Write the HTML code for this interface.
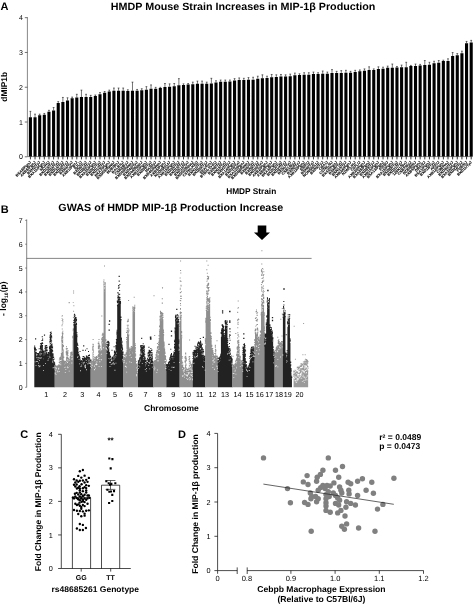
<!DOCTYPE html>
<html lang="en">
<head>
<meta charset="utf-8">
<title>HMDP MIP-1β figure</title>
<style>
html,body{margin:0;padding:0;background:#fff;}
body{width:475px;height:604px;overflow:hidden;}
svg{display:block;font-family:"Liberation Sans", Arial, sans-serif;fill:#000;}
</style>
</head>
<body>
<svg width="475" height="604" viewBox="0 0 475 604" text-rendering="geometricPrecision">
<rect width="475" height="604" fill="#fff"/>
<g id="panelA">
<text x="0.6" y="10.3" font-size="11" font-weight="bold">A</text>
<text x="243.1" y="10.3" font-size="10.5" font-weight="bold" text-anchor="middle" textLength="264.6" lengthAdjust="spacingAndGlyphs">HMDP Mouse Strain Increases in MIP-1β Production</text>
<text transform="translate(6.9,86.8) rotate(-90)" font-size="8.4" font-weight="bold" text-anchor="middle">dMIP1b</text>
<path d="M27.4,17.2V156.6H472.5" fill="none" stroke="#555" stroke-width="0.7"/>
<text x="22.8" y="159.3" font-size="7" text-anchor="end">0</text>
<text x="22.8" y="124.52" font-size="7" text-anchor="end">1</text>
<text x="22.8" y="89.74" font-size="7" text-anchor="end">2</text>
<text x="22.8" y="54.96" font-size="7" text-anchor="end">3</text>
<text x="22.8" y="20.18" font-size="7" text-anchor="end">4</text>
<path d="M27.4,156.8h-2.6M27.4,122.02h-2.6M27.4,87.24h-2.6M27.4,52.46h-2.6M27.4,17.68h-2.6" stroke="#333" stroke-width="0.7" fill="none"/>
<path d="M28.85,156.6V117.28h3.1V156.6zM33.49,156.6V117.28h3.1V156.6zM38.13,156.6V115.19h3.1V156.6zM42.77,156.6V114.84h3.1V156.6zM47.41,156.6V111.71h3.1V156.6zM52.05,156.6V110.49h3.1V156.6zM56.69,156.6V103.01h3.1V156.6zM61.33,156.6V101.96h3.1V156.6zM65.97,156.6V100.57h3.1V156.6zM70.61,156.6V98.14h3.1V156.6zM75.25,156.6V97.44h3.1V156.6zM79.89,156.6V97.09h3.1V156.6zM84.53,156.6V97.09h3.1V156.6zM89.17,156.6V97.09h3.1V156.6zM93.81,156.6V96.05h3.1V156.6zM98.45,156.6V94.31h3.1V156.6zM103.09,156.6V92.74h3.1V156.6zM107.73,156.6V91.52h3.1V156.6zM112.37,156.6V90.83h3.1V156.6zM117.01,156.6V90.83h3.1V156.6zM121.65,156.6V90.83h3.1V156.6zM126.29,156.6V91h3.1V156.6zM130.93,156.6V90.83h3.1V156.6zM135.57,156.6V90.83h3.1V156.6zM140.21,156.6V90.13h3.1V156.6zM144.85,156.6V89.78h3.1V156.6zM149.49,156.6V88.74h3.1V156.6zM154.13,156.6V88.74h3.1V156.6zM158.77,156.6V88.04h3.1V156.6zM163.41,156.6V87h3.1V156.6zM168.05,156.6V86.65h3.1V156.6zM172.69,156.6V86.3h3.1V156.6zM177.33,156.6V85.26h3.1V156.6zM181.97,156.6V84.91h3.1V156.6zM186.61,156.6V84.56h3.1V156.6zM191.25,156.6V84.22h3.1V156.6zM195.89,156.6V83.87h3.1V156.6zM200.53,156.6V83.87h3.1V156.6zM205.17,156.6V83.87h3.1V156.6zM209.81,156.6V83.52h3.1V156.6zM214.45,156.6V82.48h3.1V156.6zM219.09,156.6V81.78h3.1V156.6zM223.73,156.6V81.78h3.1V156.6zM228.37,156.6V81.43h3.1V156.6zM233.01,156.6V80.39h3.1V156.6zM237.65,156.6V80.04h3.1V156.6zM242.29,156.6V80.04h3.1V156.6zM246.93,156.6V79.69h3.1V156.6zM251.57,156.6V79.69h3.1V156.6zM256.21,156.6V78.65h3.1V156.6zM260.85,156.6V78.3h3.1V156.6zM265.49,156.6V77.95h3.1V156.6zM270.13,156.6V77.26h3.1V156.6zM274.77,156.6V76.91h3.1V156.6zM279.41,156.6V76.56h3.1V156.6zM284.05,156.6V76.56h3.1V156.6zM288.69,156.6V76.21h3.1V156.6zM293.33,156.6V75.34h3.1V156.6zM297.97,156.6V74.99h3.1V156.6zM302.61,156.6V74.65h3.1V156.6zM307.25,156.6V74.65h3.1V156.6zM311.89,156.6V74.12h3.1V156.6zM316.53,156.6V74.12h3.1V156.6zM321.17,156.6V73.78h3.1V156.6zM325.81,156.6V73.78h3.1V156.6zM330.45,156.6V72.91h3.1V156.6zM335.09,156.6V72.91h3.1V156.6zM339.73,156.6V72.91h3.1V156.6zM344.37,156.6V72.73h3.1V156.6zM349.01,156.6V72.73h3.1V156.6zM353.65,156.6V72.04h3.1V156.6zM358.29,156.6V71.34h3.1V156.6zM362.93,156.6V70.64h3.1V156.6zM367.57,156.6V70.12h3.1V156.6zM372.21,156.6V69.95h3.1V156.6zM376.85,156.6V69.08h3.1V156.6zM381.49,156.6V68.73h3.1V156.6zM386.13,156.6V67.86h3.1V156.6zM390.77,156.6V67.86h3.1V156.6zM395.41,156.6V67.51h3.1V156.6zM400.05,156.6V67.16h3.1V156.6zM404.69,156.6V67.16h3.1V156.6zM409.33,156.6V66.12h3.1V156.6zM413.97,156.6V66.12h3.1V156.6zM418.61,156.6V65.6h3.1V156.6zM423.25,156.6V65.08h3.1V156.6zM427.89,156.6V64.73h3.1V156.6zM432.53,156.6V63.34h3.1V156.6zM437.17,156.6V62.64h3.1V156.6zM441.81,156.6V60.9h3.1V156.6zM446.45,156.6V60.9h3.1V156.6zM451.09,156.6V56.03h3.1V156.6zM455.73,156.6V55.16h3.1V156.6zM460.37,156.6V53.24h3.1V156.6zM465.01,156.6V43.15h3.1V156.6zM469.65,156.6V42.46h3.1V156.6z" fill="#000"/>
<path d="M30.4,117.28V111.36M29.5,111.36h1.8M35.04,117.28V114.14M34.14,114.14h1.8M39.68,115.19V114.14M38.78,114.14h1.8M44.32,114.84V113.45M43.42,113.45h1.8M48.96,111.71V110.32M48.06,110.32h1.8M53.6,110.49V107.53M52.7,107.53h1.8M58.24,103.01V101.62M57.34,101.62h1.8M62.88,101.96V97.44M61.98,97.44h1.8M67.52,100.57V97.79M66.62,97.79h1.8M72.16,98.14V97.09M71.26,97.09h1.8M76.8,97.44V94.31M75.9,94.31h1.8M81.44,97.09V90.13M80.54,90.13h1.8M86.08,97.09V94.31M85.18,94.31h1.8M90.72,97.09V95.35M89.82,95.35h1.8M95.36,96.05V95M94.46,95h1.8M100,94.31V92.57M99.1,92.57h1.8M104.64,92.74V91.52M103.74,91.52h1.8M109.28,91.52V90.13M108.38,90.13h1.8M113.92,90.83V88.04M113.02,88.04h1.8M118.56,90.83V88.04M117.66,88.04h1.8M123.2,90.83V88.04M122.3,88.04h1.8M127.84,91V89.78M126.94,89.78h1.8M132.48,90.83V82.13M131.58,82.13h1.8M137.12,90.83V89.44M136.22,89.44h1.8M141.76,90.13V88.74M140.86,88.74h1.8M146.4,89.78V86.65M145.5,86.65h1.8M151.04,88.74V84.91M150.14,84.91h1.8M155.68,88.74V87.35M154.78,87.35h1.8M160.32,88.04V87.35M159.42,87.35h1.8M164.96,87V83.52M164.06,83.52h1.8M169.6,86.65V83.87M168.7,83.87h1.8M174.24,86.3V83.52M173.34,83.52h1.8M178.88,85.26V78.65M177.98,78.65h1.8M183.52,84.91V83.87M182.62,83.87h1.8M188.16,84.56V83.52M187.26,83.52h1.8M192.8,84.22V82.13M191.9,82.13h1.8M197.44,83.87V81.08M196.54,81.08h1.8M202.08,83.87V81.08M201.18,81.08h1.8M206.72,83.87V82.13M205.82,82.13h1.8M211.36,83.52V78.3M210.46,78.3h1.8M216,82.48V80.74M215.1,80.74h1.8M220.64,81.78V80.04M219.74,80.04h1.8M225.28,81.78V80.04M224.38,80.04h1.8M229.92,81.43V80.04M229.02,80.04h1.8M234.56,80.39V78.65M233.66,78.65h1.8M239.2,80.04V77.95M238.3,77.95h1.8M243.84,80.04V78.3M242.94,78.3h1.8M248.48,79.69V77.6M247.58,77.6h1.8M253.12,79.69V77.26M252.22,77.26h1.8M257.76,78.65V76.21M256.86,76.21h1.8M262.4,78.3V74.82M261.5,74.82h1.8M267.04,77.95V76.21M266.14,76.21h1.8M271.68,77.26V74.47M270.78,74.47h1.8M276.32,76.91V74.82M275.42,74.82h1.8M280.96,76.56V74.47M280.06,74.47h1.8M285.6,76.56V74.82M284.7,74.82h1.8M290.24,76.21V74.12M289.34,74.12h1.8M294.88,75.34V73.08M293.98,73.08h1.8M299.52,74.99V73.78M298.62,73.78h1.8M304.16,74.65V72.73M303.26,72.73h1.8M308.8,74.65V72.73M307.9,72.73h1.8M313.44,74.12V72.04M312.54,72.04h1.8M318.08,74.12V72.73M317.18,72.73h1.8M322.72,73.78V70.99M321.82,70.99h1.8M327.36,73.78V72.04M326.46,72.04h1.8M332,72.91V69.6M331.1,69.6h1.8M336.64,72.91V71.34M335.74,71.34h1.8M341.28,72.91V70.64M340.38,70.64h1.8M345.92,72.73V70.3M345.02,70.3h1.8M350.56,72.73V71.34M349.66,71.34h1.8M355.2,72.04V70.3M354.3,70.3h1.8M359.84,71.34V69.95M358.94,69.95h1.8M364.48,70.64V68.9M363.58,68.9h1.8M369.12,70.12V66.82M368.22,66.82h1.8M373.76,69.95V68.9M372.86,68.9h1.8M378.4,69.08V66.82M377.5,66.82h1.8M383.04,68.73V67.16M382.14,67.16h1.8M387.68,67.86V66.12M386.78,66.12h1.8M392.32,67.86V64.03M391.42,64.03h1.8M396.96,67.51V66.47M396.06,66.47h1.8M401.6,67.16V65.08M400.7,65.08h1.8M406.24,67.16V62.29M405.34,62.29h1.8M410.88,66.12V65.42M409.98,65.42h1.8M415.52,66.12V64.03M414.62,64.03h1.8M420.16,65.6V64.38M419.26,64.38h1.8M424.8,65.08V60.55M423.9,60.55h1.8M429.44,64.73V62.29M428.54,62.29h1.8M434.08,63.34V61.25M433.18,61.25h1.8M438.72,62.64V60.55M437.82,60.55h1.8M443.36,60.9V60.2M442.46,60.2h1.8M448,60.9V58.81M447.1,58.81h1.8M452.64,56.03V52.55M451.74,52.55h1.8M457.28,55.16V53.59M456.38,53.59h1.8M461.92,53.24V51.16M461.02,51.16h1.8M466.56,43.15V41.41M465.66,41.41h1.8M471.2,42.46V40.37M470.3,40.37h1.8" stroke="#000" stroke-width="0.55" fill="none"/>
<path d="M30.4,156.6v2.8M35.04,156.6v2.8M39.68,156.6v2.8M44.32,156.6v2.8M48.96,156.6v2.8M53.6,156.6v2.8M58.24,156.6v2.8M62.88,156.6v2.8M67.52,156.6v2.8M72.16,156.6v2.8M76.8,156.6v2.8M81.44,156.6v2.8M86.08,156.6v2.8M90.72,156.6v2.8M95.36,156.6v2.8M100,156.6v2.8M104.64,156.6v2.8M109.28,156.6v2.8M113.92,156.6v2.8M118.56,156.6v2.8M123.2,156.6v2.8M127.84,156.6v2.8M132.48,156.6v2.8M137.12,156.6v2.8M141.76,156.6v2.8M146.4,156.6v2.8M151.04,156.6v2.8M155.68,156.6v2.8M160.32,156.6v2.8M164.96,156.6v2.8M169.6,156.6v2.8M174.24,156.6v2.8M178.88,156.6v2.8M183.52,156.6v2.8M188.16,156.6v2.8M192.8,156.6v2.8M197.44,156.6v2.8M202.08,156.6v2.8M206.72,156.6v2.8M211.36,156.6v2.8M216,156.6v2.8M220.64,156.6v2.8M225.28,156.6v2.8M229.92,156.6v2.8M234.56,156.6v2.8M239.2,156.6v2.8M243.84,156.6v2.8M248.48,156.6v2.8M253.12,156.6v2.8M257.76,156.6v2.8M262.4,156.6v2.8M267.04,156.6v2.8M271.68,156.6v2.8M276.32,156.6v2.8M280.96,156.6v2.8M285.6,156.6v2.8M290.24,156.6v2.8M294.88,156.6v2.8M299.52,156.6v2.8M304.16,156.6v2.8M308.8,156.6v2.8M313.44,156.6v2.8M318.08,156.6v2.8M322.72,156.6v2.8M327.36,156.6v2.8M332,156.6v2.8M336.64,156.6v2.8M341.28,156.6v2.8M345.92,156.6v2.8M350.56,156.6v2.8M355.2,156.6v2.8M359.84,156.6v2.8M364.48,156.6v2.8M369.12,156.6v2.8M373.76,156.6v2.8M378.4,156.6v2.8M383.04,156.6v2.8M387.68,156.6v2.8M392.32,156.6v2.8M396.96,156.6v2.8M401.6,156.6v2.8M406.24,156.6v2.8M410.88,156.6v2.8M415.52,156.6v2.8M420.16,156.6v2.8M424.8,156.6v2.8M429.44,156.6v2.8M434.08,156.6v2.8M438.72,156.6v2.8M443.36,156.6v2.8M448,156.6v2.8M452.64,156.6v2.8M457.28,156.6v2.8M461.92,156.6v2.8M466.56,156.6v2.8M471.2,156.6v2.8" stroke="#000" stroke-width="0.8" fill="none"/>
<g font-size="3.75" font-weight="bold" text-anchor="end" fill="#000" stroke="#000" stroke-width="0.1">
<text transform="translate(31.3,162.6) rotate(-45)">BXA8/PgnJ</text>
<text transform="translate(35.94,162.6) rotate(-45)">AXB6/PgnJ</text>
<text transform="translate(40.58,162.6) rotate(-45)">BXH2/TyJ</text>
<text transform="translate(45.22,162.6) rotate(-45)">BXA11/PgnJ</text>
<text transform="translate(49.86,162.6) rotate(-45)">KK/HlJ</text>
<text transform="translate(54.5,162.6) rotate(-45)">BXD15/TyJ</text>
<text transform="translate(59.14,162.6) rotate(-45)">BXD24/TyJ</text>
<text transform="translate(63.78,162.6) rotate(-45)">BXD14/TyJ</text>
<text transform="translate(68.42,162.6) rotate(-45)">BXD32/TyJ</text>
<text transform="translate(73.06,162.6) rotate(-45)">BXH4/TyJ</text>
<text transform="translate(77.7,162.6) rotate(-45)">AXB1/PgnJ</text>
<text transform="translate(82.34,162.6) rotate(-45)">SJL/J</text>
<text transform="translate(86.98,162.6) rotate(-45)">BXD6/TyJ</text>
<text transform="translate(91.62,162.6) rotate(-45)">BXD20/TyJ</text>
<text transform="translate(96.26,162.6) rotate(-45)">BXA25/PgnJ</text>
<text transform="translate(100.9,162.6) rotate(-45)">BXD21/TyJ</text>
<text transform="translate(105.54,162.6) rotate(-45)">BXD12/TyJ</text>
<text transform="translate(110.18,162.6) rotate(-45)">BXA7/PgnJ</text>
<text transform="translate(114.82,162.6) rotate(-45)">BXD55/RwwJ</text>
<text transform="translate(119.46,162.6) rotate(-45)">BUB/BnJ</text>
<text transform="translate(124.1,162.6) rotate(-45)">BALB/cJ</text>
<text transform="translate(128.74,162.6) rotate(-45)">CXB2/ByJ</text>
<text transform="translate(133.38,162.6) rotate(-45)">BXD43/RwwJ</text>
<text transform="translate(138.02,162.6) rotate(-45)">BXD42/TyJ</text>
<text transform="translate(142.66,162.6) rotate(-45)">BXD44/RwwJ</text>
<text transform="translate(147.3,162.6) rotate(-45)">AXB10/PgnJ</text>
<text transform="translate(151.94,162.6) rotate(-45)">BXD38/TyJ</text>
<text transform="translate(156.58,162.6) rotate(-45)">MA/MyJ</text>
<text transform="translate(161.22,162.6) rotate(-45)">BXD45/RwwJ</text>
<text transform="translate(165.86,162.6) rotate(-45)">AXB5/PgnJ</text>
<text transform="translate(170.5,162.6) rotate(-45)">NOD/ShiLtJ</text>
<text transform="translate(175.14,162.6) rotate(-45)">AXB19/PgnJ</text>
<text transform="translate(179.78,162.6) rotate(-45)">BXD34/TyJ</text>
<text transform="translate(184.42,162.6) rotate(-45)">BXD19/TyJ</text>
<text transform="translate(189.06,162.6) rotate(-45)">BXD16/TyJ</text>
<text transform="translate(193.7,162.6) rotate(-45)">BXD50/RwwJ</text>
<text transform="translate(198.34,162.6) rotate(-45)">C57BLKS/J</text>
<text transform="translate(202.98,162.6) rotate(-45)">BXH10/TyJ</text>
<text transform="translate(207.62,162.6) rotate(-45)">BXD39/TyJ</text>
<text transform="translate(212.26,162.6) rotate(-45)">SEA/GnJ</text>
<text transform="translate(216.9,162.6) rotate(-45)">BTBR-T+tf/J</text>
<text transform="translate(221.54,162.6) rotate(-45)">BXD8/TyJ</text>
<text transform="translate(226.18,162.6) rotate(-45)">BXH19/TyJ</text>
<text transform="translate(230.82,162.6) rotate(-45)">BXH7/TyJ</text>
<text transform="translate(235.46,162.6) rotate(-45)">BXA14/PgnJ</text>
<text transform="translate(240.1,162.6) rotate(-45)">BXD33/TyJ</text>
<text transform="translate(244.74,162.6) rotate(-45)">BXA12/PgnJ</text>
<text transform="translate(249.38,162.6) rotate(-45)">BXD48/RwwJ</text>
<text transform="translate(254.02,162.6) rotate(-45)">BXH6/TyJ</text>
<text transform="translate(258.66,162.6) rotate(-45)">BXD9/TyJ</text>
<text transform="translate(263.3,162.6) rotate(-45)">BXD36/TyJ</text>
<text transform="translate(267.94,162.6) rotate(-45)">AXB2/PgnJ</text>
<text transform="translate(272.58,162.6) rotate(-45)">AXB8/PgnJ</text>
<text transform="translate(277.22,162.6) rotate(-45)">BXA4/PgnJ</text>
<text transform="translate(281.86,162.6) rotate(-45)">BXD13/TyJ</text>
<text transform="translate(286.5,162.6) rotate(-45)">BXD27/TyJ</text>
<text transform="translate(291.14,162.6) rotate(-45)">BXD1/TyJ</text>
<text transform="translate(295.78,162.6) rotate(-45)">CXB1/ByJ</text>
<text transform="translate(300.42,162.6) rotate(-45)">BXD2/TyJ</text>
<text transform="translate(305.06,162.6) rotate(-45)">AXB13/PgnJ</text>
<text transform="translate(309.7,162.6) rotate(-45)">SWR/J</text>
<text transform="translate(314.34,162.6) rotate(-45)">BXH8/TyJ</text>
<text transform="translate(318.98,162.6) rotate(-45)">NON/ShiLtJ</text>
<text transform="translate(323.62,162.6) rotate(-45)">BXD5/TyJ</text>
<text transform="translate(328.26,162.6) rotate(-45)">CBA/J</text>
<text transform="translate(332.9,162.6) rotate(-45)">C57BL/6J</text>
<text transform="translate(337.54,162.6) rotate(-45)">BXA2/PgnJ</text>
<text transform="translate(342.18,162.6) rotate(-45)">BXH9/TyJ</text>
<text transform="translate(346.82,162.6) rotate(-45)">BXH14/TyJ</text>
<text transform="translate(351.46,162.6) rotate(-45)">AXB24/PgnJ</text>
<text transform="translate(356.1,162.6) rotate(-45)">NZW/LacJ</text>
<text transform="translate(360.74,162.6) rotate(-45)">C57L/J</text>
<text transform="translate(365.38,162.6) rotate(-45)">AXB23/PgnJ</text>
<text transform="translate(370.02,162.6) rotate(-45)">BXA26/PgnJ</text>
<text transform="translate(374.66,162.6) rotate(-45)">BXD29/TyJ</text>
<text transform="translate(379.3,162.6) rotate(-45)">AXB15/PgnJ</text>
<text transform="translate(383.94,162.6) rotate(-45)">BXA13/PgnJ</text>
<text transform="translate(388.58,162.6) rotate(-45)">RIIIS/J</text>
<text transform="translate(393.22,162.6) rotate(-45)">BXA16/PgnJ</text>
<text transform="translate(397.86,162.6) rotate(-45)">BXD28/TyJ</text>
<text transform="translate(402.5,162.6) rotate(-45)">BXD31/TyJ</text>
<text transform="translate(407.14,162.6) rotate(-45)">129X1/SvJ</text>
<text transform="translate(411.78,162.6) rotate(-45)">CXB7/ByJ</text>
<text transform="translate(416.42,162.6) rotate(-45)">NZB/BlNJ</text>
<text transform="translate(421.06,162.6) rotate(-45)">AXB4/PgnJ</text>
<text transform="translate(425.7,162.6) rotate(-45)">DBA/2J</text>
<text transform="translate(430.34,162.6) rotate(-45)">BXA1/PgnJ</text>
<text transform="translate(434.98,162.6) rotate(-45)">BXD18/TyJ</text>
<text transform="translate(439.62,162.6) rotate(-45)">AKR/J</text>
<text transform="translate(444.26,162.6) rotate(-45)">AXB12/PgnJ</text>
<text transform="translate(448.9,162.6) rotate(-45)">C3H/HeJ</text>
<text transform="translate(453.54,162.6) rotate(-45)">BXD40/TyJ</text>
<text transform="translate(458.18,162.6) rotate(-45)">BXA24/PgnJ</text>
<text transform="translate(462.82,162.6) rotate(-45)">BXD22/TyJ</text>
<text transform="translate(467.46,162.6) rotate(-45)">FVB/NJ</text>
<text transform="translate(472.1,162.6) rotate(-45)">BXD11/TyJ</text>
</g>
<text x="251.2" y="193.5" font-size="8.3" font-weight="bold" text-anchor="middle">HMDP Strain</text>
</g>
<g id="panelB">
<text x="0.7" y="213.3" font-size="11" font-weight="bold">B</text>
<text x="170.8" y="211" font-size="10.5" font-weight="bold" text-anchor="middle" textLength="225" lengthAdjust="spacingAndGlyphs">GWAS of HMDP MIP-1β Production Increase</text>
<text transform="translate(6.3,298.7) rotate(-90)" font-size="8.5" font-weight="bold" text-anchor="middle">- log<tspan font-size="5" dy="1.6">10</tspan><tspan dy="-1.6">(p)</tspan></text>
<path d="M26.7,219.45V387.3" stroke="#666" stroke-width="0.8" fill="none"/>
<text x="22.6" y="389.8" font-size="7" text-anchor="end">0</text>
<text x="22.6" y="365.95" font-size="7" text-anchor="end">1</text>
<text x="22.6" y="342.1" font-size="7" text-anchor="end">2</text>
<text x="22.6" y="318.25" font-size="7" text-anchor="end">3</text>
<text x="22.6" y="294.4" font-size="7" text-anchor="end">4</text>
<text x="22.6" y="270.55" font-size="7" text-anchor="end">5</text>
<text x="22.6" y="246.7" font-size="7" text-anchor="end">6</text>
<text x="22.6" y="222.85" font-size="7" text-anchor="end">7</text>
<path d="M26.7,387.3h-1.5M26.7,363.45h-1.5M26.7,339.6h-1.5M26.7,315.75h-1.5M26.7,291.9h-1.5M26.7,268.05h-1.5M26.7,244.2h-1.5M26.7,220.35h-1.5" stroke="#555" stroke-width="0.7" fill="none"/>
<path d="M26.7,258.4H311.6" stroke="#444" stroke-width="0.65" fill="none"/>
<path d="M257.7,225.6h8.6v6.9h3.7l-8,7.6l-8,-7.6h3.7z" fill="#000"/>
<path d="M34.3,387.3V351.72h.55V387.3zM34.8,387.3V350.75h.55V387.3zM35.3,387.3V350.64h.55V387.3zM35.8,387.3V353.35h.55V387.3zM36.3,387.3V357.98h.55V387.3zM36.8,387.3V357.66h.55V387.3zM37.3,387.3V359.56h.55V387.3zM37.8,387.3V359.89h.55V387.3zM38.3,387.3V358.6h.55V387.3zM38.8,387.3V355.45h.55V387.3zM39.3,387.3V357.88h.55V387.3zM39.8,387.3V356.04h.55V387.3zM40.3,387.3V348.65h.55V387.3zM40.8,387.3V351.45h.55V387.3zM41.3,387.3V346.65h.55V387.3zM41.8,387.3V345.21h.55V387.3zM42.3,387.3V345.85h.55V387.3zM42.8,387.3V357.98h.55V387.3zM43.3,387.3V359.34h.55V387.3zM43.8,387.3V359.09h.55V387.3zM44.3,387.3V357.05h.55V387.3zM44.8,387.3V350.54h.55V387.3zM45.3,387.3V351.44h.55V387.3zM45.8,387.3V350.45h.55V387.3zM46.3,387.3V353.38h.55V387.3zM46.8,387.3V351.98h.55V387.3zM47.3,387.3V360.17h.55V387.3zM47.8,387.3V362.77h.55V387.3zM48.3,387.3V359.3h.55V387.3zM48.8,387.3V359.11h.55V387.3zM49.3,387.3V350.69h.55V387.3zM49.8,387.3V344.21h.55V387.3zM50.3,387.3V340.27h.55V387.3zM50.8,387.3V340.22h.55V387.3zM51.3,387.3V342.63h.55V387.3zM51.8,387.3V347.26h.55V387.3zM52.3,387.3V353.19h.55V387.3zM52.8,387.3V359.78h.55V387.3zM53.3,387.3V362.32h.55V387.3zM53.8,387.3V363.71h.55V387.3zM54.3,387.3V366.24h.55V387.3zM34.18,345.46h1v1h-1zM33.92,346.66h1v1h-1zM34.2,346.78h1v1h-1zM34.1,348.57h1v1h-1zM33.95,348.05h1v1h-1zM34.13,350.81h1v1h-1zM34.02,349.52h1v1h-1zM34.06,348.14h1v1h-1zM34.55,349.14h1v1h-1zM34.4,349h1v1h-1zM34.57,348.5h1v1h-1zM34.59,347.8h1v1h-1zM34.67,349.99h1v1h-1zM34.95,350.14h1v1h-1zM34.91,348.1h1v1h-1zM34.98,349.31h1v1h-1zM34.94,348.1h1v1h-1zM34.93,347.43h1v1h-1zM35.66,348.97h1v1h-1zM35.51,351.81h1v1h-1zM35.56,349.79h1v1h-1zM35.64,351.96h1v1h-1zM36.03,352.53h1v1h-1zM35.97,356.34h1v1h-1zM36.09,356.42h1v1h-1zM36.69,353.36h1v1h-1zM36.68,355.26h1v1h-1zM36.45,356.56h1v1h-1zM37.15,353.33h1v1h-1zM36.99,357.41h1v1h-1zM36.98,355.2h1v1h-1zM37.17,358.2h1v1h-1zM37.08,356.05h1v1h-1zM37.05,353.02h1v1h-1zM36.91,355.62h1v1h-1zM37.43,354.27h1v1h-1zM37.48,357.77h1v1h-1zM37.63,355.72h1v1h-1zM37.55,355.39h1v1h-1zM37.54,354.87h1v1h-1zM37.68,356.27h1v1h-1zM37.68,353.66h1v1h-1zM38.14,354.7h1v1h-1zM38.1,354.47h1v1h-1zM38.19,353.62h1v1h-1zM38.02,353.27h1v1h-1zM38.15,353.08h1v1h-1zM38.05,355.91h1v1h-1zM38.41,353.84h1v1h-1zM38.53,354.41h1v1h-1zM39.09,351.71h1v1h-1zM38.92,352.21h1v1h-1zM39.07,355.33h1v1h-1zM39.06,356.6h1v1h-1zM38.95,356.72h1v1h-1zM38.99,356.16h1v1h-1zM39.43,351.04h1v1h-1zM39.65,353.15h1v1h-1zM39.61,353.1h1v1h-1zM39.61,351.53h1v1h-1zM39.5,353.59h1v1h-1zM40.03,347.31h1v1h-1zM40.19,343h1v1h-1zM40.19,346.84h1v1h-1zM39.9,346.24h1v1h-1zM40.05,345.61h1v1h-1zM39.9,345.45h1v1h-1zM40.02,347.67h1v1h-1zM39.99,348.03h1v1h-1zM40.59,344.45h1v1h-1zM40.67,343.45h1v1h-1zM40.64,344.36h1v1h-1zM40.55,346.25h1v1h-1zM40.6,342.93h1v1h-1zM40.41,348.89h1v1h-1zM40.43,347.71h1v1h-1zM40.59,345.31h1v1h-1zM40.96,343.08h1v1h-1zM41.04,344.54h1v1h-1zM41.09,342.92h1v1h-1zM40.94,345.82h1v1h-1zM41.54,342.22h1v1h-1zM41.46,339.93h1v1h-1zM41.65,342.25h1v1h-1zM41.46,343.27h1v1h-1zM42.05,338.61h1v1h-1zM42.05,345.33h1v1h-1zM41.94,343.09h1v1h-1zM42.15,342.98h1v1h-1zM42.15,339.72h1v1h-1zM42.11,338.4h1v1h-1zM42.02,342.56h1v1h-1zM42.03,342.65h1v1h-1zM41.93,344.99h1v1h-1zM42.68,349.76h1v1h-1zM42.41,351.4h1v1h-1zM42.59,351.12h1v1h-1zM42.68,357.07h1v1h-1zM42.5,353.49h1v1h-1zM42.69,351.23h1v1h-1zM42.49,351.93h1v1h-1zM42.45,354.15h1v1h-1zM42.67,355.72h1v1h-1zM42.67,355.62h1v1h-1zM43.06,356.03h1v1h-1zM42.92,356.54h1v1h-1zM42.94,352.26h1v1h-1zM43.16,354.56h1v1h-1zM42.97,357h1v1h-1zM43.19,355.81h1v1h-1zM43.45,357.69h1v1h-1zM43.68,352.93h1v1h-1zM43.54,352.24h1v1h-1zM43.63,358.27h1v1h-1zM43.59,350.95h1v1h-1zM43.48,357.53h1v1h-1zM43.43,352.79h1v1h-1zM43.57,354.24h1v1h-1zM43.58,356.74h1v1h-1zM43.54,356.09h1v1h-1zM44.1,353.84h1v1h-1zM44.1,355.15h1v1h-1zM44,356.36h1v1h-1zM43.96,352.84h1v1h-1zM44.19,355.43h1v1h-1zM44.68,346.72h1v1h-1zM44.46,348.08h1v1h-1zM44.42,349.78h1v1h-1zM44.67,345.56h1v1h-1zM45.01,349.62h1v1h-1zM44.96,346.4h1v1h-1zM45.15,347.08h1v1h-1zM45.04,350.71h1v1h-1zM44.96,346.61h1v1h-1zM44.91,346.72h1v1h-1zM45.61,348.58h1v1h-1zM45.4,348.51h1v1h-1zM45.41,345.01h1v1h-1zM45.69,347.46h1v1h-1zM46,350.21h1v1h-1zM45.92,346.51h1v1h-1zM45.97,346.75h1v1h-1zM46.07,352.6h1v1h-1zM46.17,344.9h1v1h-1zM45.93,352.19h1v1h-1zM46.03,347.1h1v1h-1zM46.09,349.49h1v1h-1zM46.15,346.79h1v1h-1zM46.57,346.97h1v1h-1zM46.7,349.46h1v1h-1zM46.64,350.3h1v1h-1zM46.43,346.42h1v1h-1zM46.65,347.3h1v1h-1zM46.44,349.98h1v1h-1zM47.09,354.43h1v1h-1zM46.94,356.43h1v1h-1zM47.08,357.43h1v1h-1zM46.9,357.88h1v1h-1zM46.96,353.71h1v1h-1zM47.14,357.88h1v1h-1zM46.93,359.11h1v1h-1zM47.09,354.84h1v1h-1zM47.11,358.23h1v1h-1zM46.99,357.18h1v1h-1zM47.01,354.69h1v1h-1zM47.52,355.26h1v1h-1zM47.4,360.88h1v1h-1zM47.67,356.79h1v1h-1zM47.51,356.95h1v1h-1zM47.48,361.02h1v1h-1zM47.43,354.36h1v1h-1zM47.69,355.39h1v1h-1zM47.68,361.19h1v1h-1zM47.68,361.81h1v1h-1zM47.59,354.54h1v1h-1zM48.02,357.02h1v1h-1zM47.94,355.67h1v1h-1zM48.17,352.88h1v1h-1zM48.13,354.21h1v1h-1zM47.94,351.96h1v1h-1zM48.09,354.31h1v1h-1zM48.07,355.37h1v1h-1zM48.03,353.42h1v1h-1zM48.09,358.61h1v1h-1zM48.13,356.88h1v1h-1zM48.42,354.48h1v1h-1zM48.55,358.26h1v1h-1zM48.44,352.44h1v1h-1zM48.95,347.04h1v1h-1zM48.94,346.8h1v1h-1zM48.96,346.36h1v1h-1zM49,348.08h1v1h-1zM48.95,349.43h1v1h-1zM49.66,338.84h1v1h-1zM49.59,335.37h1v1h-1zM49.48,337.01h1v1h-1zM49.63,340.68h1v1h-1zM49.62,342.22h1v1h-1zM49.48,336.82h1v1h-1zM49.58,335.44h1v1h-1zM49.4,341.08h1v1h-1zM49.58,342.45h1v1h-1zM49.67,339.4h1v1h-1zM49.6,341.8h1v1h-1zM49.97,333.87h1v1h-1zM50.09,339.17h1v1h-1zM49.9,338.11h1v1h-1zM50.01,336.23h1v1h-1zM50.18,336.97h1v1h-1zM49.91,334.07h1v1h-1zM50.45,334.45h1v1h-1zM50.41,337.77h1v1h-1zM50.65,339.68h1v1h-1zM50.54,334.91h1v1h-1zM50.47,339.04h1v1h-1zM50.62,337.54h1v1h-1zM50.9,335.81h1v1h-1zM51.12,340.43h1v1h-1zM51,335.8h1v1h-1zM51.09,335.61h1v1h-1zM51.19,337.35h1v1h-1zM51.11,336.09h1v1h-1zM51.41,346.14h1v1h-1zM51.59,343.73h1v1h-1zM51.42,343.53h1v1h-1zM51.65,345.17h1v1h-1zM51.93,350.64h1v1h-1zM51.96,347.28h1v1h-1zM51.91,349.66h1v1h-1zM52.11,350.67h1v1h-1zM52.19,350.4h1v1h-1zM52.09,346.61h1v1h-1zM52.03,349.74h1v1h-1zM52.06,347.65h1v1h-1zM52.46,354.19h1v1h-1zM52.65,357.06h1v1h-1zM52.49,353.25h1v1h-1zM52.55,354.81h1v1h-1zM52.42,355.21h1v1h-1zM52.59,354.25h1v1h-1zM52.52,356.71h1v1h-1zM53.13,357.12h1v1h-1zM53,359.65h1v1h-1zM53.1,356.57h1v1h-1zM53.13,359.09h1v1h-1zM53.04,361.04h1v1h-1zM52.99,360.63h1v1h-1zM52.95,356.56h1v1h-1zM53.43,358.58h1v1h-1zM53.64,358.48h1v1h-1zM53.59,362.27h1v1h-1zM53.52,362.22h1v1h-1zM54.12,363.89h1v1h-1zM54.12,363.12h1v1h-1zM54.12,364.7h1v1h-1zM54.1,361.85h1v1h-1zM49.86,332.01h.95v.95h-.95zM50.82,332.97h.95v.95h-.95zM50.61,331.59h.95v.95h-.95zM50.32,333.65h.95v.95h-.95zM50.6,332.81h.95v.95h-.95zM35,338.28h1.2v1.2h-1.2zM41.7,336.14h1.2v1.2h-1.2zM43.9,334.47h1.2v1.2h-1.2zM38.7,348.16h1v1h-1z" fill="#222"/>
<path d="M54.6,387.3V373.09h.55V387.3zM55.1,387.3V371.15h.55V387.3zM55.6,387.3V373.29h.55V387.3zM56.1,387.3V371.35h.55V387.3zM56.6,387.3V371.07h.55V387.3zM57.1,387.3V371.15h.55V387.3zM57.6,387.3V372.82h.55V387.3zM58.1,387.3V372.77h.55V387.3zM58.6,387.3V366.29h.55V387.3zM59.1,387.3V364.14h.55V387.3zM59.6,387.3V361.91h.55V387.3zM60.1,387.3V360.92h.55V387.3zM60.6,387.3V363.97h.55V387.3zM61.1,387.3V358.19h.55V387.3zM61.6,387.3V341.06h.55V387.3zM62.1,387.3V341.43h.55V387.3zM62.6,387.3V338.32h.55V387.3zM63.1,387.3V351.1h.55V387.3zM63.6,387.3V361.3h.55V387.3zM64.1,387.3V365.64h.55V387.3zM64.6,387.3V366.85h.55V387.3zM65.1,387.3V368.46h.55V387.3zM65.6,387.3V368.35h.55V387.3zM66.1,387.3V357.05h.55V387.3zM66.6,387.3V354.93h.55V387.3zM67.1,387.3V360.62h.55V387.3zM67.6,387.3V356.17h.55V387.3zM68.1,387.3V367.43h.55V387.3zM68.6,387.3V366.59h.55V387.3zM69.1,387.3V367.6h.55V387.3zM69.6,387.3V364.62h.55V387.3zM70.1,387.3V358.24h.55V387.3zM70.6,387.3V356.56h.55V387.3zM71.1,387.3V358.91h.55V387.3zM71.6,387.3V354.77h.55V387.3zM72.1,387.3V360.97h.55V387.3zM72.6,387.3V339.61h.55V387.3zM73.1,387.3V331.19h.55V387.3zM73.6,387.3V334.78h.55V387.3zM54.43,367.78h1v1h-1zM54.49,368.99h1v1h-1zM54.25,368.6h1v1h-1zM54.37,371.85h1v1h-1zM54.35,367.32h1v1h-1zM54.36,366.49h1v1h-1zM54.26,365.62h1v1h-1zM54.81,364.87h1v1h-1zM54.82,369.04h1v1h-1zM54.83,368.19h1v1h-1zM54.78,368.58h1v1h-1zM54.98,366.29h1v1h-1zM54.94,369.36h1v1h-1zM54.74,369.41h1v1h-1zM55.37,369.01h1v1h-1zM55.31,365.02h1v1h-1zM55.44,366.19h1v1h-1zM55.36,370.41h1v1h-1zM55.31,366.07h1v1h-1zM55.28,369.76h1v1h-1zM55.2,371.29h1v1h-1zM55.29,370.81h1v1h-1zM55.39,369.33h1v1h-1zM55.97,366.12h1v1h-1zM55.89,366.1h1v1h-1zM55.99,370.78h1v1h-1zM55.73,369.42h1v1h-1zM55.93,369.51h1v1h-1zM56.38,366.46h1v1h-1zM56.44,366.45h1v1h-1zM56.36,367.38h1v1h-1zM56.77,369.03h1v1h-1zM56.72,367.64h1v1h-1zM56.85,369.77h1v1h-1zM56.96,367.35h1v1h-1zM56.84,365.51h1v1h-1zM56.95,366.58h1v1h-1zM56.99,368.09h1v1h-1zM56.89,366.76h1v1h-1zM57.3,365.79h1v1h-1zM57.47,368.92h1v1h-1zM57.39,367.28h1v1h-1zM57.31,366.27h1v1h-1zM57.43,368.63h1v1h-1zM57.33,369.27h1v1h-1zM57.29,366.52h1v1h-1zM57.28,368.79h1v1h-1zM57.8,365.2h1v1h-1zM57.88,369.6h1v1h-1zM57.71,365.27h1v1h-1zM57.79,371.83h1v1h-1zM57.98,370.58h1v1h-1zM57.94,366.4h1v1h-1zM57.89,366.77h1v1h-1zM57.9,366.95h1v1h-1zM57.84,366.32h1v1h-1zM58.43,365.63h1v1h-1zM58.45,364.19h1v1h-1zM58.29,364.67h1v1h-1zM58.33,364.41h1v1h-1zM58.83,359.56h1v1h-1zM58.88,361.92h1v1h-1zM58.73,361.81h1v1h-1zM59.24,357.53h1v1h-1zM59.27,358.2h1v1h-1zM59.43,361.18h1v1h-1zM59.42,357.6h1v1h-1zM59.95,357.9h1v1h-1zM59.92,359.22h1v1h-1zM59.85,357.09h1v1h-1zM59.87,359h1v1h-1zM59.74,357.8h1v1h-1zM60.22,361.15h1v1h-1zM60.3,356.9h1v1h-1zM60.45,355.71h1v1h-1zM60.33,361.02h1v1h-1zM60.38,358.03h1v1h-1zM60.28,363.45h1v1h-1zM60.44,358.81h1v1h-1zM60.8,352.89h1v1h-1zM60.94,354.79h1v1h-1zM60.98,353.75h1v1h-1zM60.9,354.51h1v1h-1zM60.78,356.61h1v1h-1zM61.26,339.37h1v1h-1zM61.31,336.13h1v1h-1zM61.36,338.02h1v1h-1zM61.5,340.28h1v1h-1zM61.39,339.89h1v1h-1zM61.3,336.79h1v1h-1zM61.21,340.43h1v1h-1zM61.76,340.6h1v1h-1zM61.72,340.19h1v1h-1zM61.84,333.21h1v1h-1zM61.82,335.63h1v1h-1zM61.78,332.42h1v1h-1zM61.99,335.25h1v1h-1zM61.83,337.45h1v1h-1zM62,332.36h1v1h-1zM61.78,340.59h1v1h-1zM61.97,332.92h1v1h-1zM62.23,333.74h1v1h-1zM62.24,336.44h1v1h-1zM62.27,336.91h1v1h-1zM62.2,334.17h1v1h-1zM62.21,336.77h1v1h-1zM62.46,332.79h1v1h-1zM62.77,349.7h1v1h-1zM62.87,346.09h1v1h-1zM62.78,345.1h1v1h-1zM62.78,349.62h1v1h-1zM62.85,349.54h1v1h-1zM62.73,344.89h1v1h-1zM62.9,344.94h1v1h-1zM63.22,356.92h1v1h-1zM63.2,356.57h1v1h-1zM63.2,360.2h1v1h-1zM63.72,364.2h1v1h-1zM63.85,362.24h1v1h-1zM63.88,364.16h1v1h-1zM63.87,361.27h1v1h-1zM63.92,364.82h1v1h-1zM63.72,361.7h1v1h-1zM64.34,360.52h1v1h-1zM64.45,365.16h1v1h-1zM64.31,365.31h1v1h-1zM64.36,366.32h1v1h-1zM64.24,363.05h1v1h-1zM64.46,361.12h1v1h-1zM64.31,361.8h1v1h-1zM64.99,367.83h1v1h-1zM64.73,366.76h1v1h-1zM64.71,362.57h1v1h-1zM64.76,363.35h1v1h-1zM64.87,364.01h1v1h-1zM64.73,363.33h1v1h-1zM64.74,367.67h1v1h-1zM64.78,364.66h1v1h-1zM65.42,363.89h1v1h-1zM65.48,362.13h1v1h-1zM65.45,364.94h1v1h-1zM65.48,365.11h1v1h-1zM65.3,366.19h1v1h-1zM65.44,361.06h1v1h-1zM65.89,352.87h1v1h-1zM65.72,351.93h1v1h-1zM65.71,352.15h1v1h-1zM65.93,348.1h1v1h-1zM65.97,349.5h1v1h-1zM65.78,350.96h1v1h-1zM65.86,354.17h1v1h-1zM65.86,354.37h1v1h-1zM65.79,348.26h1v1h-1zM66.29,353.82h1v1h-1zM66.27,353.1h1v1h-1zM66.45,351.92h1v1h-1zM66.4,351.81h1v1h-1zM66.34,351.16h1v1h-1zM66.34,351.61h1v1h-1zM66.27,353.31h1v1h-1zM66.75,353.17h1v1h-1zM66.83,352.28h1v1h-1zM66.83,356.63h1v1h-1zM66.99,358.09h1v1h-1zM66.81,357.09h1v1h-1zM66.95,354.57h1v1h-1zM66.92,353.47h1v1h-1zM66.91,353.06h1v1h-1zM67.46,350.33h1v1h-1zM67.34,353.09h1v1h-1zM67.29,350.74h1v1h-1zM67.32,351.89h1v1h-1zM67.45,350.31h1v1h-1zM67.26,352.65h1v1h-1zM67.37,354.69h1v1h-1zM67.48,355.07h1v1h-1zM67.45,349.92h1v1h-1zM67.91,362.24h1v1h-1zM67.88,363.69h1v1h-1zM67.9,358.34h1v1h-1zM67.81,366.03h1v1h-1zM67.87,361.84h1v1h-1zM67.89,362.94h1v1h-1zM67.94,362.13h1v1h-1zM67.99,364.05h1v1h-1zM67.97,365.93h1v1h-1zM68.29,364.76h1v1h-1zM68.26,361.81h1v1h-1zM68.38,360.75h1v1h-1zM68.39,357.66h1v1h-1zM68.44,362.6h1v1h-1zM68.2,360.23h1v1h-1zM68.38,358.95h1v1h-1zM68.35,364.42h1v1h-1zM68.39,363.83h1v1h-1zM68.37,357.64h1v1h-1zM68.25,365.06h1v1h-1zM68.72,360.54h1v1h-1zM68.8,360.83h1v1h-1zM68.75,364.22h1v1h-1zM68.97,366.29h1v1h-1zM68.83,364.26h1v1h-1zM68.97,366.65h1v1h-1zM68.83,359.29h1v1h-1zM68.71,365.07h1v1h-1zM68.94,359.78h1v1h-1zM69.42,361.61h1v1h-1zM69.46,362.13h1v1h-1zM69.27,359.03h1v1h-1zM69.26,361.82h1v1h-1zM69.23,360.51h1v1h-1zM69.32,361.64h1v1h-1zM69.45,363.32h1v1h-1zM69.75,356.37h1v1h-1zM69.78,357.37h1v1h-1zM69.95,355.96h1v1h-1zM69.92,356.32h1v1h-1zM70.27,354.15h1v1h-1zM70.46,354.96h1v1h-1zM70.36,353.4h1v1h-1zM70.32,352.06h1v1h-1zM70.29,353.12h1v1h-1zM70.25,355.61h1v1h-1zM70.92,357.73h1v1h-1zM70.97,356.22h1v1h-1zM70.71,356.91h1v1h-1zM70.81,354.8h1v1h-1zM70.91,354.82h1v1h-1zM71.26,353.62h1v1h-1zM71.21,352.74h1v1h-1zM71.25,351.7h1v1h-1zM71.28,351.39h1v1h-1zM71.3,351.52h1v1h-1zM71.82,354.48h1v1h-1zM71.98,359.69h1v1h-1zM71.91,352.45h1v1h-1zM71.72,356.57h1v1h-1zM71.85,356.78h1v1h-1zM71.71,353.9h1v1h-1zM72.32,337.27h1v1h-1zM72.24,337.52h1v1h-1zM72.27,335.67h1v1h-1zM72.33,336.47h1v1h-1zM72.47,337.57h1v1h-1zM72.3,336.22h1v1h-1zM72.76,329.02h1v1h-1zM72.76,329.39h1v1h-1zM72.73,328.62h1v1h-1zM72.81,328.52h1v1h-1zM72.7,330.36h1v1h-1zM73.35,333.59h1v1h-1zM73.36,333.08h1v1h-1zM73.39,328.45h1v1h-1zM73.4,328.35h1v1h-1zM73.24,332.72h1v1h-1zM73.45,329.37h1v1h-1zM73.39,333.1h1v1h-1zM61.53,315.64h.95v.95h-.95zM62.32,319h.95v.95h-.95zM61.72,319.97h.95v.95h-.95zM62.32,330.8h.95v.95h-.95zM61.77,328.58h.95v.95h-.95zM61.77,324.13h.95v.95h-.95zM61.61,317.92h.95v.95h-.95zM62.01,332.62h.95v.95h-.95zM62.31,322.5h.95v.95h-.95zM62.41,320.8h.95v.95h-.95zM61.92,315.2h.95v.95h-.95zM61.51,325.18h.95v.95h-.95zM73.2,319.84h.95v.95h-.95zM73.29,323.92h.95v.95h-.95zM73.07,322.55h.95v.95h-.95zM72.76,301.9h.95v.95h-.95zM73.07,324.45h.95v.95h-.95zM73.33,322.05h.95v.95h-.95zM73.43,324.8h.95v.95h-.95zM73.38,305.35h.95v.95h-.95zM72.93,316.96h.95v.95h-.95zM73.14,310.87h.95v.95h-.95zM68.65,302.08h1.1v1.1h-1.1zM73.1,290.45h1v1h-1zM73.1,292.59h1v1h-1zM66,346.25h1v1h-1zM67,348.16h1v1h-1z" fill="#8e8e8e"/>
<path d="M73.7,387.3V324.02h.55V387.3zM74.2,387.3V320.9h.55V387.3zM74.7,387.3V321.42h.55V387.3zM75.2,387.3V323.52h.55V387.3zM75.7,387.3V323.83h.55V387.3zM76.2,387.3V325.46h.55V387.3zM76.7,387.3V337.36h.55V387.3zM77.2,387.3V350.3h.55V387.3zM77.7,387.3V351.12h.55V387.3zM78.2,387.3V355.31h.55V387.3zM78.7,387.3V361.57h.55V387.3zM79.2,387.3V362.38h.55V387.3zM79.7,387.3V362.28h.55V387.3zM80.2,387.3V366.96h.55V387.3zM80.7,387.3V369.68h.55V387.3zM81.2,387.3V368.52h.55V387.3zM81.7,387.3V366.52h.55V387.3zM82.2,387.3V361.21h.55V387.3zM82.7,387.3V362.47h.55V387.3zM83.2,387.3V364.6h.55V387.3zM83.7,387.3V360.79h.55V387.3zM84.2,387.3V365.27h.55V387.3zM84.7,387.3V365.96h.55V387.3zM85.2,387.3V364.52h.55V387.3zM85.7,387.3V365.37h.55V387.3zM86.2,387.3V363.69h.55V387.3zM86.7,387.3V364.41h.55V387.3zM87.2,387.3V364.33h.55V387.3zM87.7,387.3V360.68h.55V387.3zM88.2,387.3V358.46h.55V387.3zM88.7,387.3V364.05h.55V387.3zM89.2,387.3V360.14h.55V387.3zM89.7,387.3V364.86h.55V387.3zM90.2,387.3V368.34h.55V387.3zM73.55,320.02h1v1h-1zM73.43,321.97h1v1h-1zM73.36,321.69h1v1h-1zM73.44,321.82h1v1h-1zM73.82,314.68h1v1h-1zM73.89,316.1h1v1h-1zM73.94,313.68h1v1h-1zM73.9,318.29h1v1h-1zM74,319.07h1v1h-1zM74,319.8h1v1h-1zM73.92,316.3h1v1h-1zM73.92,316.42h1v1h-1zM74.07,319.12h1v1h-1zM74.46,320.48h1v1h-1zM74.47,318.66h1v1h-1zM74.33,318.27h1v1h-1zM74.32,318.2h1v1h-1zM74.43,320.58h1v1h-1zM75.02,316.74h1v1h-1zM74.92,317.76h1v1h-1zM74.97,316.93h1v1h-1zM74.82,318.1h1v1h-1zM74.8,320.66h1v1h-1zM74.89,321.67h1v1h-1zM75.07,320.32h1v1h-1zM75.56,317.1h1v1h-1zM75.4,318.27h1v1h-1zM75.34,317.72h1v1h-1zM75.58,318.32h1v1h-1zM75.33,319.23h1v1h-1zM75.33,317.88h1v1h-1zM75.36,321.6h1v1h-1zM75.81,324.2h1v1h-1zM75.86,319.6h1v1h-1zM76.01,323.02h1v1h-1zM76.06,323.99h1v1h-1zM76.04,320.35h1v1h-1zM75.85,322.67h1v1h-1zM76.04,319.12h1v1h-1zM76.05,323.74h1v1h-1zM76.55,336h1v1h-1zM76.48,332.13h1v1h-1zM76.36,335.07h1v1h-1zM76.35,336.62h1v1h-1zM76.47,334.32h1v1h-1zM76.3,334.94h1v1h-1zM76.31,335.05h1v1h-1zM77,348.49h1v1h-1zM76.95,347.34h1v1h-1zM76.96,344.68h1v1h-1zM77.03,344.76h1v1h-1zM76.91,344.09h1v1h-1zM77.06,342.65h1v1h-1zM77.03,347.06h1v1h-1zM77.37,349.08h1v1h-1zM77.3,349.76h1v1h-1zM77.47,347.8h1v1h-1zM77.32,349.55h1v1h-1zM77.52,348.67h1v1h-1zM77.4,344.68h1v1h-1zM77.35,350.11h1v1h-1zM77.88,353.96h1v1h-1zM77.92,353.68h1v1h-1zM78.06,351.7h1v1h-1zM78.02,353.8h1v1h-1zM78.04,354.4h1v1h-1zM78.5,357.93h1v1h-1zM78.42,360.62h1v1h-1zM78.4,356.21h1v1h-1zM78.38,356.44h1v1h-1zM78.58,360.96h1v1h-1zM78.32,353.42h1v1h-1zM78.4,355.46h1v1h-1zM78.34,359.86h1v1h-1zM78.43,354.76h1v1h-1zM78.47,356.51h1v1h-1zM79.09,355.79h1v1h-1zM78.96,359.69h1v1h-1zM78.94,361.81h1v1h-1zM78.91,355.77h1v1h-1zM78.83,355.91h1v1h-1zM78.82,360.82h1v1h-1zM78.85,357.5h1v1h-1zM78.85,360.7h1v1h-1zM79.54,359.56h1v1h-1zM79.57,359.69h1v1h-1zM79.32,357.06h1v1h-1zM79.56,359.19h1v1h-1zM79.42,358.15h1v1h-1zM79.38,360.34h1v1h-1zM79.37,358.99h1v1h-1zM80.06,360.58h1v1h-1zM80.05,361.34h1v1h-1zM79.95,364.2h1v1h-1zM79.98,361.81h1v1h-1zM80.06,362.52h1v1h-1zM79.91,360.45h1v1h-1zM80.1,360.58h1v1h-1zM80.33,362.85h1v1h-1zM80.33,363.3h1v1h-1zM80.51,361.28h1v1h-1zM80.54,367.16h1v1h-1zM80.45,368.85h1v1h-1zM80.33,365.47h1v1h-1zM80.39,360.66h1v1h-1zM80.34,364.99h1v1h-1zM80.51,367.64h1v1h-1zM80.91,367.16h1v1h-1zM80.9,360.96h1v1h-1zM81.06,360.58h1v1h-1zM80.88,366.66h1v1h-1zM80.95,367.69h1v1h-1zM80.91,363.74h1v1h-1zM81,362.73h1v1h-1zM81.01,363.8h1v1h-1zM81.42,363.7h1v1h-1zM81.3,360.01h1v1h-1zM81.38,360.44h1v1h-1zM81.37,363.75h1v1h-1zM81.55,365.32h1v1h-1zM81.4,361.84h1v1h-1zM82.1,358.45h1v1h-1zM82.02,358.31h1v1h-1zM81.92,357.99h1v1h-1zM82,358.37h1v1h-1zM82.37,358.97h1v1h-1zM82.46,356.13h1v1h-1zM82.54,358.65h1v1h-1zM82.55,360.89h1v1h-1zM82.55,357.94h1v1h-1zM82.55,359.57h1v1h-1zM82.83,360.46h1v1h-1zM83.01,356.09h1v1h-1zM83.04,360.26h1v1h-1zM82.91,358.64h1v1h-1zM82.91,362.19h1v1h-1zM82.81,361.04h1v1h-1zM82.82,359.52h1v1h-1zM82.88,358.33h1v1h-1zM83.05,362.16h1v1h-1zM83.06,358.99h1v1h-1zM83.51,358.8h1v1h-1zM83.49,358.63h1v1h-1zM83.47,358.73h1v1h-1zM83.51,356.35h1v1h-1zM83.94,359.71h1v1h-1zM83.92,357.6h1v1h-1zM83.93,357.17h1v1h-1zM84.05,360.4h1v1h-1zM83.92,358.45h1v1h-1zM83.97,358.97h1v1h-1zM83.82,362.89h1v1h-1zM84.03,364.02h1v1h-1zM84.6,361.11h1v1h-1zM84.46,362.97h1v1h-1zM84.38,358.1h1v1h-1zM84.38,363.13h1v1h-1zM84.43,361.66h1v1h-1zM84.56,363.19h1v1h-1zM84.95,360.94h1v1h-1zM85.04,361.59h1v1h-1zM84.97,357.92h1v1h-1zM84.96,361.94h1v1h-1zM84.9,360.27h1v1h-1zM84.89,358.74h1v1h-1zM84.98,358.7h1v1h-1zM84.93,357.82h1v1h-1zM85.45,357.94h1v1h-1zM85.39,359.02h1v1h-1zM85.34,357.61h1v1h-1zM85.33,363.99h1v1h-1zM85.38,359.16h1v1h-1zM85.32,363.53h1v1h-1zM85.55,364.51h1v1h-1zM85.47,362.85h1v1h-1zM86.09,356.61h1v1h-1zM85.91,362.92h1v1h-1zM85.96,361.35h1v1h-1zM86.02,359.36h1v1h-1zM85.83,357.6h1v1h-1zM86.1,355.59h1v1h-1zM85.9,360.79h1v1h-1zM85.83,355.53h1v1h-1zM86.31,356.05h1v1h-1zM86.4,355.69h1v1h-1zM86.4,363.48h1v1h-1zM86.52,361.81h1v1h-1zM86.39,357.21h1v1h-1zM86.33,359.16h1v1h-1zM86.48,357.21h1v1h-1zM86.45,363.62h1v1h-1zM86.34,358.41h1v1h-1zM86.41,360.91h1v1h-1zM86.83,362.6h1v1h-1zM86.96,359.74h1v1h-1zM86.85,359.98h1v1h-1zM86.91,359.65h1v1h-1zM86.86,360.5h1v1h-1zM87.06,361.85h1v1h-1zM86.8,356.49h1v1h-1zM86.97,357.31h1v1h-1zM87.39,358.12h1v1h-1zM87.37,357.88h1v1h-1zM87.51,357.06h1v1h-1zM87.48,359.2h1v1h-1zM87.83,356.38h1v1h-1zM88,355.12h1v1h-1zM87.84,356.63h1v1h-1zM87.9,357.11h1v1h-1zM88.4,358.46h1v1h-1zM88.5,356.7h1v1h-1zM88.58,357.67h1v1h-1zM88.83,354.54h1v1h-1zM88.87,355.12h1v1h-1zM88.87,357.17h1v1h-1zM89.01,354.75h1v1h-1zM89.04,357.52h1v1h-1zM89.3,360.97h1v1h-1zM89.43,358.72h1v1h-1zM89.4,361.19h1v1h-1zM89.55,361.91h1v1h-1zM89.33,362.33h1v1h-1zM89.43,359.5h1v1h-1zM89.34,358.76h1v1h-1zM89.55,364.07h1v1h-1zM89.92,360.25h1v1h-1zM89.95,359.73h1v1h-1zM89.85,360.79h1v1h-1zM89.85,367.83h1v1h-1zM89.88,360.97h1v1h-1zM89.97,366.98h1v1h-1zM90.08,364.64h1v1h-1zM89.99,367.19h1v1h-1zM83.1,345.2h1.2v1.2h-1.2zM82.45,349.78h1.1v1.1h-1.1zM85,349.83h1v1h-1zM86.5,348.16h1v1h-1zM88,351.02h1v1h-1zM74.4,314.67h1.2v1.2h-1.2zM79.5,351.02h1v1h-1z" fill="#222"/>
<path d="M90.6,387.3V368.61h.55V387.3zM91.1,387.3V364.46h.55V387.3zM91.6,387.3V368.46h.55V387.3zM92.1,387.3V365.66h.55V387.3zM92.6,387.3V351.88h.55V387.3zM93.1,387.3V351.92h.55V387.3zM93.6,387.3V364.48h.55V387.3zM94.1,387.3V365.98h.55V387.3zM94.6,387.3V364.21h.55V387.3zM95.1,387.3V363.79h.55V387.3zM95.6,387.3V365.3h.55V387.3zM96.1,387.3V364.02h.55V387.3zM96.6,387.3V363.21h.55V387.3zM97.1,387.3V363.72h.55V387.3zM97.6,387.3V362.68h.55V387.3zM98.1,387.3V350.25h.55V387.3zM98.6,387.3V348.39h.55V387.3zM99.1,387.3V351.19h.55V387.3zM99.6,387.3V353.79h.55V387.3zM100.1,387.3V354.84h.55V387.3zM100.6,387.3V356.03h.55V387.3zM101.1,387.3V359h.55V387.3zM101.6,387.3V343.79h.55V387.3zM102.1,387.3V339.72h.55V387.3zM102.6,387.3V339.07h.55V387.3zM103.1,387.3V336.97h.55V387.3zM103.6,387.3V284.15h.55V387.3zM104.1,387.3V291.18h.55V387.3zM104.6,387.3V287.88h.55V387.3zM105.1,387.3V285.92h.55V387.3zM105.6,387.3V345.84h.55V387.3zM106.1,387.3V351.76h.55V387.3zM106.6,387.3V351.18h.55V387.3zM90.36,365.37h1v1h-1zM90.35,361.5h1v1h-1zM90.22,361h1v1h-1zM90.33,364.05h1v1h-1zM90.24,365.74h1v1h-1zM90.71,361.32h1v1h-1zM90.89,360.54h1v1h-1zM90.79,360.47h1v1h-1zM90.99,362.03h1v1h-1zM90.9,360.28h1v1h-1zM90.91,359.55h1v1h-1zM90.75,362.69h1v1h-1zM91.25,363.14h1v1h-1zM91.29,367.61h1v1h-1zM91.49,361.65h1v1h-1zM91.48,365.94h1v1h-1zM91.33,365.86h1v1h-1zM91.32,366.26h1v1h-1zM91.28,361.67h1v1h-1zM91.34,362.03h1v1h-1zM91.84,361.02h1v1h-1zM91.93,361.49h1v1h-1zM91.98,363.17h1v1h-1zM91.89,363.58h1v1h-1zM91.71,360.94h1v1h-1zM91.98,363.22h1v1h-1zM91.72,363.83h1v1h-1zM92.39,348.9h1v1h-1zM92.43,345.8h1v1h-1zM92.42,343.8h1v1h-1zM92.44,348.21h1v1h-1zM92.46,349.88h1v1h-1zM92.4,347.18h1v1h-1zM92.22,348.65h1v1h-1zM92.46,347.33h1v1h-1zM92.32,346.72h1v1h-1zM92.74,343.93h1v1h-1zM92.88,345.42h1v1h-1zM92.88,350.85h1v1h-1zM92.77,349.61h1v1h-1zM92.99,345.66h1v1h-1zM92.72,345.46h1v1h-1zM93.3,362.28h1v1h-1zM93.44,362.9h1v1h-1zM93.44,359.79h1v1h-1zM93.43,363.83h1v1h-1zM93.33,361.46h1v1h-1zM93.42,360.84h1v1h-1zM93.35,361.98h1v1h-1zM93.72,356.74h1v1h-1zM93.84,364.29h1v1h-1zM93.84,359.2h1v1h-1zM93.82,363.79h1v1h-1zM93.92,363.76h1v1h-1zM93.76,361.59h1v1h-1zM93.78,363.73h1v1h-1zM93.99,359.26h1v1h-1zM94.25,361.18h1v1h-1zM94.29,356.65h1v1h-1zM94.31,362.47h1v1h-1zM94.23,362.99h1v1h-1zM94.34,358.18h1v1h-1zM94.71,361.66h1v1h-1zM94.99,357.16h1v1h-1zM94.82,358.54h1v1h-1zM94.76,363.2h1v1h-1zM94.7,360.83h1v1h-1zM95.26,359.39h1v1h-1zM95.31,357.14h1v1h-1zM95.24,359.8h1v1h-1zM95.38,360.94h1v1h-1zM95.33,358.82h1v1h-1zM95.22,358.67h1v1h-1zM95.4,361.42h1v1h-1zM95.39,362.78h1v1h-1zM95.24,360.81h1v1h-1zM95.27,364.27h1v1h-1zM95.99,362.79h1v1h-1zM95.77,363.14h1v1h-1zM95.98,358.34h1v1h-1zM95.78,356.43h1v1h-1zM95.93,363.38h1v1h-1zM95.91,356.02h1v1h-1zM95.75,357.3h1v1h-1zM95.94,362.7h1v1h-1zM96.22,357.05h1v1h-1zM96.29,358.85h1v1h-1zM96.42,362.65h1v1h-1zM96.44,356.84h1v1h-1zM96.4,361.84h1v1h-1zM96.23,359.67h1v1h-1zM96.23,360.21h1v1h-1zM96.73,362.7h1v1h-1zM96.86,359.03h1v1h-1zM96.88,360.37h1v1h-1zM96.92,356.81h1v1h-1zM96.9,363.01h1v1h-1zM97.3,359.92h1v1h-1zM97.33,361.47h1v1h-1zM97.43,355.17h1v1h-1zM97.32,360.3h1v1h-1zM97.47,360.44h1v1h-1zM97.43,356.38h1v1h-1zM97.99,345.93h1v1h-1zM97.89,345.97h1v1h-1zM97.82,343.08h1v1h-1zM97.73,342.87h1v1h-1zM97.97,347.7h1v1h-1zM97.91,347.9h1v1h-1zM97.91,346.63h1v1h-1zM97.93,344.45h1v1h-1zM98.22,345.77h1v1h-1zM98.31,347.79h1v1h-1zM98.35,347.1h1v1h-1zM98.43,345.99h1v1h-1zM98.29,347.19h1v1h-1zM98.33,343.09h1v1h-1zM98.3,341.4h1v1h-1zM98.75,345.88h1v1h-1zM98.99,349.98h1v1h-1zM98.87,345.95h1v1h-1zM98.7,350.22h1v1h-1zM98.81,343.68h1v1h-1zM98.78,344.96h1v1h-1zM98.73,346.89h1v1h-1zM98.79,344.9h1v1h-1zM99.45,347.73h1v1h-1zM99.33,353.05h1v1h-1zM99.41,349.44h1v1h-1zM99.34,352.31h1v1h-1zM99.33,351.36h1v1h-1zM99.31,352.72h1v1h-1zM99.37,345.45h1v1h-1zM99.42,351.43h1v1h-1zM99.49,346h1v1h-1zM99.36,345.39h1v1h-1zM99.46,351.86h1v1h-1zM99.84,348.72h1v1h-1zM99.9,354.28h1v1h-1zM99.84,354.2h1v1h-1zM99.85,353h1v1h-1zM99.74,350.62h1v1h-1zM100.24,353.36h1v1h-1zM100.37,351.82h1v1h-1zM100.2,352.17h1v1h-1zM100.35,353.17h1v1h-1zM100.8,354.89h1v1h-1zM100.81,358.3h1v1h-1zM100.7,351.16h1v1h-1zM100.84,356.22h1v1h-1zM100.74,352.19h1v1h-1zM100.99,357.43h1v1h-1zM100.86,357.29h1v1h-1zM100.72,350.65h1v1h-1zM100.88,357.02h1v1h-1zM100.97,354.88h1v1h-1zM100.99,350.88h1v1h-1zM100.82,350.15h1v1h-1zM101.23,339.05h1v1h-1zM101.38,337.85h1v1h-1zM101.47,342.66h1v1h-1zM101.41,341.79h1v1h-1zM101.31,341.33h1v1h-1zM101.22,337.69h1v1h-1zM101.4,339.39h1v1h-1zM101.99,336.73h1v1h-1zM101.81,334.75h1v1h-1zM101.74,334.56h1v1h-1zM101.78,337.91h1v1h-1zM101.82,338.39h1v1h-1zM101.87,338.74h1v1h-1zM102.41,334.1h1v1h-1zM102.29,333.17h1v1h-1zM102.38,332.78h1v1h-1zM102.2,337.17h1v1h-1zM102.28,333.46h1v1h-1zM102.7,333.8h1v1h-1zM102.91,335.45h1v1h-1zM102.98,336.03h1v1h-1zM102.86,335.18h1v1h-1zM103.26,281.16h1v1h-1zM103.25,283.39h1v1h-1zM103.42,281.7h1v1h-1zM103.44,279.62h1v1h-1zM103.94,286.45h1v1h-1zM103.9,290.12h1v1h-1zM103.76,289.85h1v1h-1zM103.89,290.03h1v1h-1zM103.83,289.13h1v1h-1zM103.71,286.35h1v1h-1zM104.38,283.83h1v1h-1zM104.4,285.78h1v1h-1zM104.27,286.57h1v1h-1zM104.44,282.46h1v1h-1zM104.73,282.26h1v1h-1zM104.75,282.75h1v1h-1zM104.74,284.39h1v1h-1zM104.81,282.71h1v1h-1zM105.32,344.87h1v1h-1zM105.4,343.67h1v1h-1zM105.34,343.24h1v1h-1zM105.31,340.26h1v1h-1zM105.48,339.22h1v1h-1zM105.34,344.64h1v1h-1zM105.21,343.5h1v1h-1zM105.72,345.59h1v1h-1zM105.74,346.74h1v1h-1zM105.75,350.85h1v1h-1zM105.75,346.36h1v1h-1zM105.83,346.76h1v1h-1zM105.77,350.54h1v1h-1zM105.92,349.73h1v1h-1zM106.23,346.37h1v1h-1zM106.28,349.56h1v1h-1zM106.24,346.22h1v1h-1zM106.42,349.9h1v1h-1zM104,265.4h1v1h-1zM101.3,315.49h1v1h-1zM92.6,339.1h1v1h-1zM98.5,339.1h1v1h-1z" fill="#8e8e8e"/>
<path d="M106.7,387.3V350.35h.55V387.3zM107.2,387.3V351.82h.55V387.3zM107.7,387.3V349.36h.55V387.3zM108.2,387.3V348.43h.55V387.3zM108.7,387.3V347.25h.55V387.3zM109.2,387.3V361.14h.55V387.3zM109.7,387.3V360.06h.55V387.3zM110.2,387.3V362.08h.55V387.3zM110.7,387.3V366.83h.55V387.3zM111.2,387.3V364.79h.55V387.3zM111.7,387.3V361.03h.55V387.3zM112.2,387.3V364.52h.55V387.3zM112.7,387.3V361.63h.55V387.3zM113.2,387.3V364.53h.55V387.3zM113.7,387.3V361.23h.55V387.3zM114.2,387.3V355.2h.55V387.3zM114.7,387.3V359.06h.55V387.3zM115.2,387.3V358.06h.55V387.3zM115.7,387.3V352.35h.55V387.3zM116.2,387.3V344.67h.55V387.3zM116.7,387.3V334.97h.55V387.3zM117.2,387.3V305.92h.55V387.3zM117.7,387.3V297.76h.55V387.3zM118.2,387.3V303.5h.55V387.3zM118.7,387.3V299.19h.55V387.3zM119.2,387.3V300.56h.55V387.3zM119.7,387.3V300.23h.55V387.3zM120.2,387.3V303.57h.55V387.3zM120.7,387.3V320.52h.55V387.3zM121.2,387.3V342.77h.55V387.3zM121.7,387.3V344.47h.55V387.3zM122.2,387.3V351.35h.55V387.3zM122.7,387.3V355.9h.55V387.3zM106.55,342.37h1v1h-1zM106.41,346.62h1v1h-1zM106.33,346.52h1v1h-1zM106.42,341.83h1v1h-1zM106.53,342.03h1v1h-1zM106.54,341.75h1v1h-1zM106.41,344.07h1v1h-1zM106.81,345.62h1v1h-1zM106.9,347.34h1v1h-1zM106.87,348.35h1v1h-1zM106.81,348.47h1v1h-1zM106.82,350.71h1v1h-1zM107.47,341.4h1v1h-1zM107.55,343.84h1v1h-1zM107.42,344.73h1v1h-1zM107.41,347.08h1v1h-1zM107.51,340.67h1v1h-1zM107.31,341.05h1v1h-1zM107.52,345.17h1v1h-1zM107.46,348.07h1v1h-1zM107.9,345.66h1v1h-1zM107.95,343.81h1v1h-1zM108.09,346.85h1v1h-1zM107.86,341.94h1v1h-1zM108.06,342.21h1v1h-1zM107.86,340.97h1v1h-1zM108.07,344.15h1v1h-1zM108.43,344.83h1v1h-1zM108.33,343.49h1v1h-1zM108.52,344.38h1v1h-1zM108.46,344.97h1v1h-1zM108.57,342.55h1v1h-1zM108.52,342.67h1v1h-1zM108.38,341.8h1v1h-1zM108.87,353.7h1v1h-1zM108.92,359.18h1v1h-1zM108.85,357.89h1v1h-1zM108.86,359.87h1v1h-1zM108.86,356.07h1v1h-1zM109.09,356.66h1v1h-1zM108.94,352.09h1v1h-1zM108.84,355.28h1v1h-1zM109.01,359.97h1v1h-1zM108.93,357.43h1v1h-1zM108.92,354.39h1v1h-1zM108.97,352.81h1v1h-1zM109.52,355.99h1v1h-1zM109.56,357.59h1v1h-1zM109.4,355.92h1v1h-1zM109.35,357.39h1v1h-1zM109.54,354.73h1v1h-1zM109.92,359.19h1v1h-1zM109.88,355.94h1v1h-1zM109.91,358.8h1v1h-1zM109.9,359.6h1v1h-1zM109.81,356.63h1v1h-1zM110.04,361.15h1v1h-1zM109.82,359.94h1v1h-1zM110.02,356.32h1v1h-1zM110.56,365.61h1v1h-1zM110.31,358.77h1v1h-1zM110.31,365.37h1v1h-1zM110.33,361.45h1v1h-1zM110.48,364.93h1v1h-1zM110.41,358.82h1v1h-1zM110.38,363.3h1v1h-1zM110.6,358.78h1v1h-1zM111,361.29h1v1h-1zM111.04,361.8h1v1h-1zM111.06,361.74h1v1h-1zM110.92,362.38h1v1h-1zM111.54,360.51h1v1h-1zM111.47,357.96h1v1h-1zM111.59,356.84h1v1h-1zM112.03,361.49h1v1h-1zM111.85,359.16h1v1h-1zM112.08,361.83h1v1h-1zM112.03,356.63h1v1h-1zM111.97,357.97h1v1h-1zM112.08,360.62h1v1h-1zM111.83,357.84h1v1h-1zM112.45,360.63h1v1h-1zM112.38,357.76h1v1h-1zM112.58,356.38h1v1h-1zM112.54,358.18h1v1h-1zM112.82,358.76h1v1h-1zM112.84,358.29h1v1h-1zM112.87,361.11h1v1h-1zM112.83,360.33h1v1h-1zM112.94,360.43h1v1h-1zM112.9,358.38h1v1h-1zM113.58,359.68h1v1h-1zM113.38,355.67h1v1h-1zM113.48,354.9h1v1h-1zM113.56,357.3h1v1h-1zM113.57,360.1h1v1h-1zM113.92,352.12h1v1h-1zM113.94,354.06h1v1h-1zM113.91,353.45h1v1h-1zM113.98,351.15h1v1h-1zM113.91,350.57h1v1h-1zM114.51,351.81h1v1h-1zM114.49,351.81h1v1h-1zM114.5,352.42h1v1h-1zM114.39,354.26h1v1h-1zM114.32,351.64h1v1h-1zM114.36,354.63h1v1h-1zM114.55,357.72h1v1h-1zM114.58,353.69h1v1h-1zM114.8,352.61h1v1h-1zM115.05,356.48h1v1h-1zM114.88,351.97h1v1h-1zM115.09,355.62h1v1h-1zM114.82,353.38h1v1h-1zM115.35,345.95h1v1h-1zM115.57,348.61h1v1h-1zM115.35,350.57h1v1h-1zM115.54,346.54h1v1h-1zM115.47,347.31h1v1h-1zM115.46,348.13h1v1h-1zM115.43,351.33h1v1h-1zM115.37,345.02h1v1h-1zM115.44,351.02h1v1h-1zM115.53,348.82h1v1h-1zM115.55,345.8h1v1h-1zM115.87,339.08h1v1h-1zM115.9,342.51h1v1h-1zM115.85,341.84h1v1h-1zM116.05,343.5h1v1h-1zM115.99,343.31h1v1h-1zM115.9,341.41h1v1h-1zM116.02,340.13h1v1h-1zM116.6,331.13h1v1h-1zM116.5,333.17h1v1h-1zM116.51,332.52h1v1h-1zM116.32,333.71h1v1h-1zM116.58,329.65h1v1h-1zM116.45,332.03h1v1h-1zM116.45,331.21h1v1h-1zM116.95,304.7h1v1h-1zM117.01,301.91h1v1h-1zM116.81,300.42h1v1h-1zM116.83,301.31h1v1h-1zM116.97,305.15h1v1h-1zM117.51,295.32h1v1h-1zM117.43,292.08h1v1h-1zM117.52,296.77h1v1h-1zM117.56,296.44h1v1h-1zM117.41,296.65h1v1h-1zM117.31,297.24h1v1h-1zM117.6,292.63h1v1h-1zM117.99,296.32h1v1h-1zM117.96,301.65h1v1h-1zM117.91,300.68h1v1h-1zM117.87,298.95h1v1h-1zM117.95,299.54h1v1h-1zM117.86,298.42h1v1h-1zM118.03,301.1h1v1h-1zM118.58,297.07h1v1h-1zM118.39,296.25h1v1h-1zM118.55,294.07h1v1h-1zM118.36,293.92h1v1h-1zM118.39,296.36h1v1h-1zM118.52,293.77h1v1h-1zM118.54,297.17h1v1h-1zM118.49,294.28h1v1h-1zM118.32,296.91h1v1h-1zM119.09,297.12h1v1h-1zM118.83,298.58h1v1h-1zM119.51,297.12h1v1h-1zM119.39,297.47h1v1h-1zM119.38,298.88h1v1h-1zM120.03,302.07h1v1h-1zM120.07,302.45h1v1h-1zM119.98,300.99h1v1h-1zM119.92,302.97h1v1h-1zM119.91,303.02h1v1h-1zM120.36,316.74h1v1h-1zM120.48,316.48h1v1h-1zM120.56,318.97h1v1h-1zM120.47,316.94h1v1h-1zM120.4,319.83h1v1h-1zM120.45,316.86h1v1h-1zM120.91,340.22h1v1h-1zM120.87,337.41h1v1h-1zM120.91,339.38h1v1h-1zM121.04,338.34h1v1h-1zM120.94,338.44h1v1h-1zM121.43,340.68h1v1h-1zM121.36,341.95h1v1h-1zM121.33,343.56h1v1h-1zM121.45,342.08h1v1h-1zM121.45,340.91h1v1h-1zM121.89,347.71h1v1h-1zM121.91,345.53h1v1h-1zM121.96,347.19h1v1h-1zM122.05,349.02h1v1h-1zM122.09,348.53h1v1h-1zM121.85,348.61h1v1h-1zM121.93,347.15h1v1h-1zM122.04,349.56h1v1h-1zM122.49,354.31h1v1h-1zM122.49,353.77h1v1h-1zM122.35,351.54h1v1h-1zM122.47,353.42h1v1h-1zM122.48,352.35h1v1h-1zM122.5,353.45h1v1h-1zM122.53,351.51h1v1h-1zM122.43,354h1v1h-1zM117.88,288.14h.95v.95h-.95zM119.38,283.99h.95v.95h-.95zM118.25,286.71h.95v.95h-.95zM118.11,285.18h.95v.95h-.95zM118.66,285.41h.95v.95h-.95zM119.25,293.76h.95v.95h-.95zM119.15,290.12h.95v.95h-.95zM118.68,287.2h.95v.95h-.95zM118.15,284.96h.95v.95h-.95zM108.95,320.35h1.3v1.3h-1.3zM108.55,323.69h1.3v1.3h-1.3zM108.55,329.41h1.3v1.3h-1.3zM113.6,346.25h1v1h-1zM118.6,275.8h1.2v1.2h-1.2zM118.65,280.62h1.1v1.1h-1.1zM111.5,349.83h1v1h-1z" fill="#222"/>
<path d="M123,387.3V363.35h.55V387.3zM123.5,387.3V363.15h.55V387.3zM124,387.3V363.43h.55V387.3zM124.5,387.3V360.53h.55V387.3zM125,387.3V359.74h.55V387.3zM125.5,387.3V358.54h.55V387.3zM126,387.3V357.33h.55V387.3zM126.5,387.3V344.05h.55V387.3zM127,387.3V333.56h.55V387.3zM127.5,387.3V337.44h.55V387.3zM128,387.3V336.13h.55V387.3zM128.5,387.3V335.53h.55V387.3zM129,387.3V351.77h.55V387.3zM129.5,387.3V356.02h.55V387.3zM130,387.3V352.05h.55V387.3zM130.5,387.3V355.53h.55V387.3zM131,387.3V351.73h.55V387.3zM131.5,387.3V353.14h.55V387.3zM132,387.3V353.62h.55V387.3zM132.5,387.3V311.78h.55V387.3zM133,387.3V313.63h.55V387.3zM133.5,387.3V313.67h.55V387.3zM134,387.3V313.11h.55V387.3zM134.5,387.3V309.17h.55V387.3zM135,387.3V352.5h.55V387.3zM135.5,387.3V357.44h.55V387.3zM136,387.3V366.83h.55V387.3zM136.5,387.3V367.02h.55V387.3zM137,387.3V369.41h.55V387.3zM137.5,387.3V373.02h.55V387.3zM122.62,360.97h1v1h-1zM122.64,359.36h1v1h-1zM122.68,361.21h1v1h-1zM122.68,358.4h1v1h-1zM123.14,356.86h1v1h-1zM123.34,359.53h1v1h-1zM123.39,361.33h1v1h-1zM123.35,357.65h1v1h-1zM123.22,357.98h1v1h-1zM123.39,361.19h1v1h-1zM123.25,359.23h1v1h-1zM123.32,357.59h1v1h-1zM123.74,356.9h1v1h-1zM123.66,357.76h1v1h-1zM123.63,357.59h1v1h-1zM123.74,358.76h1v1h-1zM123.67,359.13h1v1h-1zM123.84,362.92h1v1h-1zM123.77,357.47h1v1h-1zM123.64,358.82h1v1h-1zM124.16,354.21h1v1h-1zM124.25,357.51h1v1h-1zM124.36,358.68h1v1h-1zM124.15,359.12h1v1h-1zM124.24,358.87h1v1h-1zM124.25,357.34h1v1h-1zM124.16,354.35h1v1h-1zM124.27,355.34h1v1h-1zM124.79,358.86h1v1h-1zM124.77,358.36h1v1h-1zM124.86,354.4h1v1h-1zM124.63,357.81h1v1h-1zM124.75,358.74h1v1h-1zM124.74,357.51h1v1h-1zM124.82,354.69h1v1h-1zM125.22,354.31h1v1h-1zM125.38,357.75h1v1h-1zM125.23,356.27h1v1h-1zM125.62,352.42h1v1h-1zM125.89,352.34h1v1h-1zM125.79,353.64h1v1h-1zM125.69,356.17h1v1h-1zM125.66,353.12h1v1h-1zM125.8,353.48h1v1h-1zM126.12,338.67h1v1h-1zM126.21,338.72h1v1h-1zM126.25,340.92h1v1h-1zM126.26,342.74h1v1h-1zM126.21,337.09h1v1h-1zM126.39,342.03h1v1h-1zM126.35,339.24h1v1h-1zM126.73,330.42h1v1h-1zM126.72,330.21h1v1h-1zM126.87,330.8h1v1h-1zM126.81,330.08h1v1h-1zM126.63,328.36h1v1h-1zM127.14,334.56h1v1h-1zM127.15,336.84h1v1h-1zM127.13,336.43h1v1h-1zM127.14,333.66h1v1h-1zM127.17,335.35h1v1h-1zM127.13,332.24h1v1h-1zM127.81,335.25h1v1h-1zM127.68,331.31h1v1h-1zM127.73,334.51h1v1h-1zM127.69,332.12h1v1h-1zM127.63,331.78h1v1h-1zM127.63,334.26h1v1h-1zM127.82,332.61h1v1h-1zM128.37,329.66h1v1h-1zM128.28,330.57h1v1h-1zM128.29,329.57h1v1h-1zM128.36,334.6h1v1h-1zM128.74,350.26h1v1h-1zM128.8,350.77h1v1h-1zM128.79,348.81h1v1h-1zM128.66,351.05h1v1h-1zM128.71,349.07h1v1h-1zM128.8,347.44h1v1h-1zM129.31,349.42h1v1h-1zM129.24,349.05h1v1h-1zM129.34,352.5h1v1h-1zM129.15,354.12h1v1h-1zM129.2,353.78h1v1h-1zM129.32,354.25h1v1h-1zM129.89,351.55h1v1h-1zM129.61,350.57h1v1h-1zM129.77,348.79h1v1h-1zM129.69,350.59h1v1h-1zM130.18,350.67h1v1h-1zM130.31,353.49h1v1h-1zM130.29,348.74h1v1h-1zM130.34,347.58h1v1h-1zM130.38,352.4h1v1h-1zM130.2,354.21h1v1h-1zM130.29,347.51h1v1h-1zM130.33,347.46h1v1h-1zM130.33,351.3h1v1h-1zM130.29,354.15h1v1h-1zM130.89,350.16h1v1h-1zM130.74,350.76h1v1h-1zM130.72,348.27h1v1h-1zM130.83,346h1v1h-1zM130.69,349.77h1v1h-1zM130.79,348.8h1v1h-1zM130.78,349.24h1v1h-1zM131.22,352.55h1v1h-1zM131.12,348.36h1v1h-1zM131.25,350.05h1v1h-1zM131.32,351.93h1v1h-1zM131.28,351.84h1v1h-1zM131.3,346.58h1v1h-1zM131.88,349.29h1v1h-1zM131.77,346.67h1v1h-1zM131.77,349.87h1v1h-1zM131.79,349.75h1v1h-1zM131.88,348.15h1v1h-1zM131.86,350.86h1v1h-1zM131.61,347.54h1v1h-1zM132.22,308.2h1v1h-1zM132.15,306.48h1v1h-1zM132.38,306.66h1v1h-1zM132.25,309.66h1v1h-1zM132.88,309.46h1v1h-1zM132.65,310.93h1v1h-1zM132.81,311.1h1v1h-1zM132.84,312.32h1v1h-1zM132.85,312.18h1v1h-1zM132.84,306.84h1v1h-1zM132.86,313.13h1v1h-1zM133.4,307.77h1v1h-1zM133.38,307.76h1v1h-1zM133.31,308.73h1v1h-1zM133.18,311.38h1v1h-1zM133.36,312.29h1v1h-1zM133.3,308.64h1v1h-1zM133.68,311.97h1v1h-1zM133.65,307.3h1v1h-1zM133.86,310.34h1v1h-1zM133.83,312.14h1v1h-1zM133.63,308.26h1v1h-1zM133.86,308.29h1v1h-1zM133.61,309.68h1v1h-1zM134.26,304.76h1v1h-1zM134.22,308.04h1v1h-1zM134.32,307.26h1v1h-1zM134.18,307.05h1v1h-1zM134.21,306.27h1v1h-1zM134.86,347.05h1v1h-1zM134.63,349.74h1v1h-1zM134.65,345.28h1v1h-1zM134.74,343.34h1v1h-1zM134.87,344.66h1v1h-1zM134.79,350.92h1v1h-1zM134.75,349.31h1v1h-1zM134.74,348.1h1v1h-1zM135.16,353.67h1v1h-1zM135.16,355.32h1v1h-1zM135.76,365.94h1v1h-1zM135.89,363.77h1v1h-1zM135.73,364.32h1v1h-1zM135.78,360.95h1v1h-1zM135.68,363.89h1v1h-1zM135.73,363.5h1v1h-1zM135.62,365.15h1v1h-1zM136.26,363.8h1v1h-1zM136.3,366.18h1v1h-1zM136.38,364.59h1v1h-1zM136.27,366.18h1v1h-1zM136.11,365.38h1v1h-1zM136.66,367.68h1v1h-1zM136.74,364.6h1v1h-1zM136.84,367.07h1v1h-1zM136.72,365.45h1v1h-1zM136.89,367.9h1v1h-1zM136.79,366.1h1v1h-1zM136.67,367.14h1v1h-1zM137.17,370.13h1v1h-1zM137.32,370.16h1v1h-1zM137.27,366.5h1v1h-1zM137.1,364.71h1v1h-1zM137.22,368.2h1v1h-1zM137.34,370.87h1v1h-1zM137.25,366.54h1v1h-1zM127.86,328.2h.95v.95h-.95zM127.38,326.38h.95v.95h-.95zM127.04,328.39h.95v.95h-.95zM127.85,319.82h.95v.95h-.95zM127.33,320.31h.95v.95h-.95zM127.7,318.68h.95v.95h-.95zM127.48,326.53h.95v.95h-.95zM127.79,320.94h.95v.95h-.95zM127.12,326.62h.95v.95h-.95zM126.78,324.77h.95v.95h-.95zM127.79,324.7h.95v.95h-.95zM126.9,321.27h.95v.95h-.95zM128.1,299.99h1v1h-1zM133.7,296.65h1v1h-1zM126,331.94h1v1h-1z" fill="#8e8e8e"/>
<path d="M138,387.3V364.2h.55V387.3zM138.5,387.3V368.55h.55V387.3zM139,387.3V367.23h.55V387.3zM139.5,387.3V365.57h.55V387.3zM140,387.3V363.32h.55V387.3zM140.5,387.3V350.96h.55V387.3zM141,387.3V350.57h.55V387.3zM141.5,387.3V351.77h.55V387.3zM142,387.3V353.25h.55V387.3zM142.5,387.3V349.5h.55V387.3zM143,387.3V349.65h.55V387.3zM143.5,387.3V353.52h.55V387.3zM144,387.3V351.52h.55V387.3zM144.5,387.3V359.62h.55V387.3zM145,387.3V364.27h.55V387.3zM145.5,387.3V368.02h.55V387.3zM146,387.3V369.02h.55V387.3zM146.5,387.3V368.46h.55V387.3zM147,387.3V366.11h.55V387.3zM147.5,387.3V363.94h.55V387.3zM148,387.3V361.05h.55V387.3zM148.5,387.3V360.58h.55V387.3zM149,387.3V354.1h.55V387.3zM149.5,387.3V357.89h.55V387.3zM150,387.3V359.51h.55V387.3zM150.5,387.3V354.99h.55V387.3zM151,387.3V358.23h.55V387.3zM151.5,387.3V356.03h.55V387.3zM152,387.3V358.81h.55V387.3zM152.5,387.3V366.48h.55V387.3zM153,387.3V368.85h.55V387.3zM137.68,363.27h1v1h-1zM137.87,362.5h1v1h-1zM137.81,360.38h1v1h-1zM137.88,362.57h1v1h-1zM138.19,360.92h1v1h-1zM138.18,360.38h1v1h-1zM138.21,367.06h1v1h-1zM138.18,366.52h1v1h-1zM138.19,364.25h1v1h-1zM138.32,361.45h1v1h-1zM138.34,360.22h1v1h-1zM138.2,364h1v1h-1zM138.28,360.5h1v1h-1zM138.37,360.16h1v1h-1zM138.17,362.08h1v1h-1zM138.21,360.94h1v1h-1zM138.66,359.75h1v1h-1zM138.68,366.44h1v1h-1zM138.76,365.67h1v1h-1zM138.63,361.09h1v1h-1zM138.64,360.62h1v1h-1zM138.74,361.3h1v1h-1zM138.89,363.9h1v1h-1zM138.87,359.87h1v1h-1zM138.88,362.85h1v1h-1zM139.39,364.29h1v1h-1zM139.32,359h1v1h-1zM139.22,359.76h1v1h-1zM139.22,357.83h1v1h-1zM139.19,358.77h1v1h-1zM139.25,364.87h1v1h-1zM139.3,358.41h1v1h-1zM139.38,357.52h1v1h-1zM139.84,357.66h1v1h-1zM139.88,362.56h1v1h-1zM139.64,362.46h1v1h-1zM139.87,361.55h1v1h-1zM139.64,357.77h1v1h-1zM139.6,354.62h1v1h-1zM139.9,362.32h1v1h-1zM139.85,354.55h1v1h-1zM139.75,356.79h1v1h-1zM140.24,349.02h1v1h-1zM140.37,347.03h1v1h-1zM140.4,347.38h1v1h-1zM140.2,350.36h1v1h-1zM140.23,349.72h1v1h-1zM140.25,344.92h1v1h-1zM140.33,346.07h1v1h-1zM140.16,346.07h1v1h-1zM140.82,346.51h1v1h-1zM140.75,346.23h1v1h-1zM140.79,345.54h1v1h-1zM140.75,347.17h1v1h-1zM140.73,349.43h1v1h-1zM140.77,347.94h1v1h-1zM141.1,349.61h1v1h-1zM141.2,348.05h1v1h-1zM141.35,345.09h1v1h-1zM141.31,349.51h1v1h-1zM141.17,348.59h1v1h-1zM141.87,348.94h1v1h-1zM141.78,351.95h1v1h-1zM141.88,350.74h1v1h-1zM141.7,350.91h1v1h-1zM141.73,350.13h1v1h-1zM141.7,346.95h1v1h-1zM142.37,346.08h1v1h-1zM142.28,347.79h1v1h-1zM142.15,345.31h1v1h-1zM142.37,346.93h1v1h-1zM142.14,348.09h1v1h-1zM142.22,347.43h1v1h-1zM142.68,346.64h1v1h-1zM142.71,343.33h1v1h-1zM142.76,346.12h1v1h-1zM142.7,347.98h1v1h-1zM142.6,345.57h1v1h-1zM142.62,346.3h1v1h-1zM142.85,347.75h1v1h-1zM142.67,347h1v1h-1zM142.7,347.3h1v1h-1zM143.17,349.53h1v1h-1zM143.39,352.64h1v1h-1zM143.14,346.13h1v1h-1zM143.37,350.12h1v1h-1zM143.16,352.2h1v1h-1zM143.18,347.48h1v1h-1zM143.4,352.31h1v1h-1zM143.63,345.34h1v1h-1zM143.75,349.45h1v1h-1zM143.82,347.43h1v1h-1zM143.85,350.75h1v1h-1zM143.64,348.96h1v1h-1zM143.64,345.94h1v1h-1zM143.81,345.49h1v1h-1zM143.84,346.56h1v1h-1zM144.34,356.41h1v1h-1zM144.38,356.91h1v1h-1zM144.27,353.84h1v1h-1zM144.13,357.41h1v1h-1zM144.26,356.39h1v1h-1zM144.65,361.21h1v1h-1zM144.7,357.72h1v1h-1zM144.82,359.95h1v1h-1zM144.72,358.6h1v1h-1zM144.68,361.07h1v1h-1zM145.26,363.05h1v1h-1zM145.13,363.03h1v1h-1zM145.3,366.4h1v1h-1zM145.31,361.01h1v1h-1zM145.17,367.44h1v1h-1zM145.33,363.24h1v1h-1zM145.37,363.27h1v1h-1zM145.82,365.83h1v1h-1zM145.71,361.45h1v1h-1zM145.77,364.53h1v1h-1zM145.6,360.02h1v1h-1zM145.85,364.19h1v1h-1zM145.81,365.53h1v1h-1zM145.79,359.72h1v1h-1zM146.23,366.18h1v1h-1zM146.35,361.77h1v1h-1zM146.19,364.94h1v1h-1zM146.39,365.6h1v1h-1zM146.2,367.12h1v1h-1zM146.4,365.08h1v1h-1zM146.76,365.39h1v1h-1zM146.77,362.95h1v1h-1zM146.82,364.43h1v1h-1zM146.74,362.79h1v1h-1zM146.61,364.48h1v1h-1zM146.66,363.18h1v1h-1zM147.32,361.71h1v1h-1zM147.21,363.4h1v1h-1zM147.13,359.63h1v1h-1zM147.2,357.65h1v1h-1zM147.39,362.32h1v1h-1zM147.12,358.17h1v1h-1zM147.4,358.76h1v1h-1zM147.88,360.32h1v1h-1zM147.71,355.6h1v1h-1zM147.88,352.3h1v1h-1zM147.61,353.3h1v1h-1zM147.68,352.21h1v1h-1zM147.67,355.41h1v1h-1zM147.63,354.78h1v1h-1zM147.7,354.39h1v1h-1zM147.9,359.86h1v1h-1zM148.22,352.52h1v1h-1zM148.16,352.47h1v1h-1zM148.27,355.26h1v1h-1zM148.23,351.81h1v1h-1zM148.28,356.39h1v1h-1zM148.13,360.05h1v1h-1zM148.18,358.9h1v1h-1zM148.63,350.19h1v1h-1zM148.9,351.44h1v1h-1zM148.74,352.05h1v1h-1zM148.81,351.62h1v1h-1zM148.66,349.68h1v1h-1zM148.74,350.52h1v1h-1zM149.16,354.25h1v1h-1zM149.37,353.31h1v1h-1zM149.17,354.95h1v1h-1zM149.17,351.91h1v1h-1zM149.22,349.98h1v1h-1zM149.36,352.55h1v1h-1zM149.4,354.82h1v1h-1zM149.24,355.12h1v1h-1zM149.71,351.04h1v1h-1zM149.68,354.51h1v1h-1zM149.7,356.94h1v1h-1zM149.69,358.71h1v1h-1zM149.63,352.29h1v1h-1zM149.73,354.66h1v1h-1zM149.88,350.78h1v1h-1zM150.2,352.24h1v1h-1zM150.37,348.02h1v1h-1zM150.13,351.73h1v1h-1zM150.13,354.4h1v1h-1zM150.83,349.97h1v1h-1zM150.67,351.83h1v1h-1zM150.9,355.05h1v1h-1zM150.64,354.31h1v1h-1zM150.76,352.21h1v1h-1zM150.82,354.48h1v1h-1zM151.11,354.99h1v1h-1zM151.28,352.36h1v1h-1zM151.35,352.4h1v1h-1zM151.27,354.54h1v1h-1zM151.14,354.36h1v1h-1zM151.84,354.31h1v1h-1zM151.89,358.31h1v1h-1zM151.67,357.55h1v1h-1zM151.61,357.41h1v1h-1zM151.68,358.27h1v1h-1zM151.6,356.91h1v1h-1zM151.7,356.64h1v1h-1zM151.7,355.85h1v1h-1zM151.82,352.58h1v1h-1zM152.29,363.82h1v1h-1zM152.29,361.73h1v1h-1zM152.1,365.52h1v1h-1zM152.15,360.78h1v1h-1zM152.36,364.63h1v1h-1zM152.63,365.55h1v1h-1zM152.68,367.36h1v1h-1zM152.76,363.67h1v1h-1zM152.65,364.43h1v1h-1zM152.62,367.27h1v1h-1zM152.8,361.84h1v1h-1zM152.78,366.75h1v1h-1zM149.8,336.42h1.6v1.6h-1.6zM149.9,338.08h1.6v1.6h-1.6zM141.15,337.86h1.1v1.1h-1.1zM148.3,346.63h1.2v1.2h-1.2zM151.2,349.49h1.2v1.2h-1.2z" fill="#222"/>
<path d="M153.3,387.3V366.95h.55V387.3zM153.8,387.3V368.79h.55V387.3zM154.3,387.3V363.52h.55V387.3zM154.8,387.3V364.28h.55V387.3zM155.3,387.3V363.18h.55V387.3zM155.8,387.3V358.47h.55V387.3zM156.3,387.3V354.27h.55V387.3zM156.8,387.3V358.69h.55V387.3zM157.3,387.3V350.55h.55V387.3zM157.8,387.3V354.6h.55V387.3zM158.3,387.3V348.99h.55V387.3zM158.8,387.3V339.31h.55V387.3zM159.3,387.3V331.89h.55V387.3zM159.8,387.3V320.28h.55V387.3zM160.3,387.3V314.1h.55V387.3zM160.8,387.3V320.47h.55V387.3zM161.3,387.3V316.46h.55V387.3zM161.8,387.3V317.31h.55V387.3zM162.3,387.3V317.69h.55V387.3zM162.8,387.3V319.25h.55V387.3zM163.3,387.3V335.28h.55V387.3zM163.8,387.3V347.69h.55V387.3zM164.3,387.3V353.6h.55V387.3zM164.8,387.3V357.47h.55V387.3zM165.3,387.3V360.29h.55V387.3zM165.8,387.3V367.58h.55V387.3zM152.92,363.86h1v1h-1zM153.06,363.92h1v1h-1zM153.02,362.38h1v1h-1zM153.15,364.13h1v1h-1zM153.53,363.26h1v1h-1zM153.47,361.38h1v1h-1zM153.53,363.96h1v1h-1zM153.7,361.88h1v1h-1zM153.55,362.37h1v1h-1zM153.41,365.13h1v1h-1zM153.49,363.58h1v1h-1zM154,361.16h1v1h-1zM154.02,360.8h1v1h-1zM154.07,362.94h1v1h-1zM154,361.54h1v1h-1zM154.69,360.42h1v1h-1zM154.65,360.3h1v1h-1zM154.69,363.57h1v1h-1zM154.42,360.38h1v1h-1zM154.49,360.02h1v1h-1zM155.14,361.34h1v1h-1zM155.13,360.04h1v1h-1zM154.94,357.62h1v1h-1zM155.04,357.49h1v1h-1zM154.95,361.03h1v1h-1zM154.95,362.36h1v1h-1zM155.62,353.93h1v1h-1zM155.66,355.3h1v1h-1zM155.66,357.75h1v1h-1zM155.44,356.92h1v1h-1zM155.54,355.42h1v1h-1zM155.98,351.89h1v1h-1zM156.19,351.66h1v1h-1zM156.04,353.34h1v1h-1zM156.47,350.58h1v1h-1zM156.42,357.45h1v1h-1zM156.51,349.76h1v1h-1zM156.55,357.9h1v1h-1zM156.57,357.34h1v1h-1zM156.65,355.35h1v1h-1zM156.43,357.15h1v1h-1zM156.59,355.91h1v1h-1zM156.63,351.33h1v1h-1zM156.98,346.28h1v1h-1zM156.93,346.69h1v1h-1zM156.9,347.69h1v1h-1zM157.13,347.67h1v1h-1zM157.57,351.98h1v1h-1zM157.57,350.25h1v1h-1zM157.57,352.49h1v1h-1zM157.61,349.9h1v1h-1zM157.49,349.6h1v1h-1zM157.54,346.82h1v1h-1zM157.48,351.54h1v1h-1zM157.47,349.38h1v1h-1zM157.48,350.95h1v1h-1zM158.14,345.79h1v1h-1zM157.93,344.15h1v1h-1zM157.91,346.59h1v1h-1zM158.18,344.25h1v1h-1zM158.04,341.69h1v1h-1zM158.04,346.4h1v1h-1zM158.01,348.47h1v1h-1zM158.05,343.87h1v1h-1zM158.13,341.63h1v1h-1zM158.61,338.08h1v1h-1zM158.43,335.21h1v1h-1zM158.5,335.19h1v1h-1zM158.94,329.42h1v1h-1zM159.1,331.12h1v1h-1zM159.13,326.02h1v1h-1zM159.06,326.23h1v1h-1zM159.11,330.91h1v1h-1zM159.06,325.55h1v1h-1zM159.54,316.07h1v1h-1zM159.61,317.58h1v1h-1zM159.55,318.96h1v1h-1zM159.48,319.43h1v1h-1zM159.49,315.75h1v1h-1zM159.66,317.24h1v1h-1zM160.04,310.84h1v1h-1zM159.95,311.28h1v1h-1zM159.99,313.02h1v1h-1zM160.11,311.33h1v1h-1zM160.07,311.89h1v1h-1zM160.67,314.7h1v1h-1zM160.66,319.13h1v1h-1zM160.6,315.71h1v1h-1zM160.48,316.04h1v1h-1zM160.65,315.96h1v1h-1zM160.51,317.8h1v1h-1zM160.61,315.33h1v1h-1zM161.11,313.87h1v1h-1zM160.98,313.05h1v1h-1zM161,312.04h1v1h-1zM160.93,312.95h1v1h-1zM161.63,312.5h1v1h-1zM161.68,315.57h1v1h-1zM161.66,313.01h1v1h-1zM161.59,312.53h1v1h-1zM161.58,314.9h1v1h-1zM161.67,312.9h1v1h-1zM161.63,316.77h1v1h-1zM162.17,316.72h1v1h-1zM162.19,314.27h1v1h-1zM161.92,313.27h1v1h-1zM161.95,312.63h1v1h-1zM162.45,314.83h1v1h-1zM162.66,316.84h1v1h-1zM162.42,312.93h1v1h-1zM162.42,316.83h1v1h-1zM163.03,331.37h1v1h-1zM162.98,329.6h1v1h-1zM162.94,332.19h1v1h-1zM163.14,332.04h1v1h-1zM163.18,334.46h1v1h-1zM162.91,330h1v1h-1zM162.98,333.99h1v1h-1zM163.52,343.94h1v1h-1zM163.69,345.01h1v1h-1zM163.56,346.16h1v1h-1zM163.41,341.58h1v1h-1zM163.68,344.36h1v1h-1zM163.5,343.83h1v1h-1zM163.6,345.01h1v1h-1zM163.49,341.68h1v1h-1zM163.62,342.86h1v1h-1zM163.43,343.86h1v1h-1zM163.46,346.05h1v1h-1zM164.1,347.55h1v1h-1zM164.1,348.94h1v1h-1zM164.01,352.47h1v1h-1zM163.93,348.72h1v1h-1zM164.05,350.55h1v1h-1zM163.94,351.66h1v1h-1zM164.19,349.61h1v1h-1zM164.56,356.08h1v1h-1zM164.66,356.23h1v1h-1zM164.49,351.62h1v1h-1zM164.65,355.28h1v1h-1zM164.57,353.02h1v1h-1zM164.55,356.48h1v1h-1zM164.46,351.98h1v1h-1zM164.64,355.11h1v1h-1zM164.41,353.1h1v1h-1zM164.99,358.39h1v1h-1zM165.15,356.01h1v1h-1zM165.07,357.35h1v1h-1zM165.12,359.66h1v1h-1zM164.91,357.51h1v1h-1zM165.54,360.13h1v1h-1zM165.42,363.7h1v1h-1zM165.61,365.26h1v1h-1zM165.59,361.34h1v1h-1zM165.49,359.17h1v1h-1zM165.67,363.78h1v1h-1zM165.67,364.9h1v1h-1zM165.6,360.24h1v1h-1zM161.75,298.27h1.1v1.1h-1.1zM161.75,302.56h1.1v1.1h-1.1zM161.95,287.3h1.1v1.1h-1.1zM153.5,295.22h1v1h-1zM154.2,335.05h1v1h-1zM156.9,342.92h1v1h-1z" fill="#8e8e8e"/>
<path d="M166.3,387.3V370.27h.55V387.3zM166.8,387.3V370.42h.55V387.3zM167.3,387.3V370.55h.55V387.3zM167.8,387.3V369.29h.55V387.3zM168.3,387.3V370.1h.55V387.3zM168.8,387.3V369.85h.55V387.3zM169.3,387.3V364.25h.55V387.3zM169.8,387.3V362.15h.55V387.3zM170.3,387.3V362.14h.55V387.3zM170.8,387.3V360.85h.55V387.3zM171.3,387.3V361.03h.55V387.3zM171.8,387.3V359.72h.55V387.3zM172.3,387.3V361.36h.55V387.3zM172.8,387.3V360.43h.55V387.3zM173.3,387.3V358.95h.55V387.3zM173.8,387.3V358.19h.55V387.3zM174.3,387.3V347.87h.55V387.3zM174.8,387.3V333.21h.55V387.3zM175.3,387.3V321.34h.55V387.3zM175.8,387.3V321.59h.55V387.3zM176.3,387.3V324.03h.55V387.3zM176.8,387.3V324.27h.55V387.3zM177.3,387.3V318.52h.55V387.3zM177.8,387.3V322.05h.55V387.3zM178.3,387.3V323.73h.55V387.3zM178.8,387.3V346.45h.55V387.3zM179.3,387.3V353.69h.55V387.3zM166.16,366.59h1v1h-1zM166.04,369.69h1v1h-1zM165.93,364.81h1v1h-1zM166.13,368.98h1v1h-1zM166.08,367.35h1v1h-1zM166.05,364.18h1v1h-1zM166.43,365.61h1v1h-1zM166.63,364.12h1v1h-1zM166.43,367.71h1v1h-1zM166.66,366.55h1v1h-1zM166.64,365.24h1v1h-1zM166.46,364.56h1v1h-1zM166.62,366.71h1v1h-1zM166.66,368.03h1v1h-1zM167.11,367.14h1v1h-1zM167.05,366.06h1v1h-1zM166.99,364.25h1v1h-1zM166.96,364.28h1v1h-1zM166.95,368.81h1v1h-1zM166.98,369.79h1v1h-1zM166.99,369h1v1h-1zM167.56,368.22h1v1h-1zM167.56,368.34h1v1h-1zM167.58,365.03h1v1h-1zM167.46,367.86h1v1h-1zM167.42,364.7h1v1h-1zM167.54,367.36h1v1h-1zM168.01,364.82h1v1h-1zM168.1,365.51h1v1h-1zM167.95,363.13h1v1h-1zM168.2,363.04h1v1h-1zM167.91,362.25h1v1h-1zM168.13,369.33h1v1h-1zM167.9,363.79h1v1h-1zM167.93,366.84h1v1h-1zM168.12,366.93h1v1h-1zM168.67,361.2h1v1h-1zM168.45,364.67h1v1h-1zM168.46,367.4h1v1h-1zM168.63,366.47h1v1h-1zM168.43,362h1v1h-1zM168.47,363.74h1v1h-1zM168.62,365.74h1v1h-1zM168.49,368.11h1v1h-1zM168.56,363.74h1v1h-1zM169.12,361.1h1v1h-1zM168.98,360.92h1v1h-1zM168.96,362.31h1v1h-1zM169.01,358.79h1v1h-1zM168.9,360.68h1v1h-1zM169.65,361.26h1v1h-1zM169.66,357.86h1v1h-1zM169.47,357.19h1v1h-1zM169.67,359.17h1v1h-1zM169.98,360.25h1v1h-1zM170.05,357.21h1v1h-1zM169.9,357.35h1v1h-1zM169.96,355.4h1v1h-1zM169.98,361.14h1v1h-1zM170.14,356.5h1v1h-1zM170.48,360.32h1v1h-1zM170.47,354.27h1v1h-1zM170.61,358.94h1v1h-1zM170.42,356.46h1v1h-1zM170.5,355.25h1v1h-1zM170.62,357.95h1v1h-1zM170.47,359.36h1v1h-1zM171.2,356.2h1v1h-1zM171.19,357.44h1v1h-1zM170.99,352.9h1v1h-1zM171.1,358.01h1v1h-1zM171.2,359.08h1v1h-1zM170.93,353.75h1v1h-1zM171.13,354.26h1v1h-1zM171.04,360.03h1v1h-1zM171.02,355.68h1v1h-1zM171.67,357.63h1v1h-1zM171.93,360.18h1v1h-1zM172.15,356.4h1v1h-1zM172.15,359.19h1v1h-1zM172.19,360.6h1v1h-1zM172.13,355.78h1v1h-1zM172.09,360.33h1v1h-1zM172.42,355.5h1v1h-1zM172.55,355.73h1v1h-1zM172.55,357.95h1v1h-1zM172.56,359.9h1v1h-1zM172.55,358.44h1v1h-1zM172.54,355.81h1v1h-1zM172.99,355.76h1v1h-1zM173.18,354.62h1v1h-1zM173.19,355.01h1v1h-1zM173.14,353.65h1v1h-1zM173.14,357.66h1v1h-1zM173.04,356.53h1v1h-1zM173.52,353.57h1v1h-1zM173.5,353.36h1v1h-1zM173.63,352.4h1v1h-1zM173.61,356.02h1v1h-1zM173.6,351.59h1v1h-1zM173.48,357.37h1v1h-1zM173.44,351.5h1v1h-1zM173.69,357.2h1v1h-1zM173.95,339.64h1v1h-1zM174.14,344.34h1v1h-1zM174.06,341.09h1v1h-1zM173.93,347.03h1v1h-1zM173.96,341.29h1v1h-1zM174.16,345.69h1v1h-1zM174.12,346.14h1v1h-1zM173.98,343.66h1v1h-1zM174.63,329.54h1v1h-1zM174.56,332.51h1v1h-1zM174.52,330.65h1v1h-1zM174.62,330.79h1v1h-1zM174.44,327.51h1v1h-1zM174.63,328.13h1v1h-1zM174.69,331.68h1v1h-1zM175.07,320.14h1v1h-1zM175.1,315.36h1v1h-1zM174.94,316.2h1v1h-1zM174.96,317.16h1v1h-1zM175.12,316.49h1v1h-1zM175.05,319.27h1v1h-1zM175.4,315.75h1v1h-1zM175.42,317.41h1v1h-1zM175.66,316.49h1v1h-1zM175.64,317.58h1v1h-1zM175.68,314.94h1v1h-1zM175.44,319.65h1v1h-1zM175.61,318.21h1v1h-1zM175.53,314.52h1v1h-1zM175.53,321.09h1v1h-1zM176.06,322.13h1v1h-1zM175.93,323.39h1v1h-1zM175.93,321.64h1v1h-1zM176.2,321.79h1v1h-1zM175.92,322.69h1v1h-1zM176.13,319.05h1v1h-1zM176.61,318.07h1v1h-1zM176.53,322.28h1v1h-1zM176.57,321.56h1v1h-1zM176.7,321.32h1v1h-1zM176.63,320.82h1v1h-1zM176.46,319.62h1v1h-1zM177.01,317.27h1v1h-1zM176.93,314.22h1v1h-1zM177.18,314.38h1v1h-1zM177.59,316.29h1v1h-1zM177.56,320.99h1v1h-1zM177.45,316.92h1v1h-1zM177.48,315.02h1v1h-1zM177.53,318.58h1v1h-1zM177.42,320.71h1v1h-1zM178.07,319.04h1v1h-1zM177.97,321.08h1v1h-1zM178.15,321.74h1v1h-1zM178,320.18h1v1h-1zM178.69,339.57h1v1h-1zM178.46,342.19h1v1h-1zM178.68,340.87h1v1h-1zM178.56,341.32h1v1h-1zM178.42,342.89h1v1h-1zM178.51,339.42h1v1h-1zM179.01,353.12h1v1h-1zM179.2,351.05h1v1h-1zM179.14,347.8h1v1h-1zM179.15,350.01h1v1h-1zM178.9,351.76h1v1h-1zM179.19,350.3h1v1h-1zM178.93,350.03h1v1h-1zM170.85,330.6h1.3v1.3h-1.3zM170.85,335.13h1.3v1.3h-1.3zM168.45,343.82h1.1v1.1h-1.1zM176.2,308.71h1.2v1.2h-1.2zM170.3,348.64h1v1h-1z" fill="#222"/>
<path d="M179.4,387.3V327.97h.55V387.3zM179.9,387.3V321h.55V387.3zM180.4,387.3V319.08h.55V387.3zM180.9,387.3V318.78h.55V387.3zM181.4,387.3V337.98h.55V387.3zM181.9,387.3V360.46h.55V387.3zM182.4,387.3V370.28h.55V387.3zM182.9,387.3V372.01h.55V387.3zM183.4,387.3V372.36h.55V387.3zM183.9,387.3V370.82h.55V387.3zM184.4,387.3V375.97h.55V387.3zM184.9,387.3V365.3h.55V387.3zM185.4,387.3V358.74h.55V387.3zM185.9,387.3V362.93h.55V387.3zM186.4,387.3V376.18h.55V387.3zM186.9,387.3V374.15h.55V387.3zM187.4,387.3V375.78h.55V387.3zM187.9,387.3V373.71h.55V387.3zM188.4,387.3V374.33h.55V387.3zM188.9,387.3V362.15h.55V387.3zM189.4,387.3V361.65h.55V387.3zM189.9,387.3V368.47h.55V387.3zM190.4,387.3V374.69h.55V387.3zM190.9,387.3V371.6h.55V387.3zM191.4,387.3V372.36h.55V387.3zM191.9,387.3V369.3h.55V387.3zM192.4,387.3V370.21h.55V387.3zM179.01,321.38h1v1h-1zM179.25,325.44h1v1h-1zM179.27,323.05h1v1h-1zM179.07,324.3h1v1h-1zM179.22,325.88h1v1h-1zM179.09,326.62h1v1h-1zM179.23,321.4h1v1h-1zM179.56,318.71h1v1h-1zM179.66,316.31h1v1h-1zM179.7,318.29h1v1h-1zM179.54,317.08h1v1h-1zM179.7,314.59h1v1h-1zM180.28,317.96h1v1h-1zM180.28,313.05h1v1h-1zM180.18,312.89h1v1h-1zM180.02,317.25h1v1h-1zM180.58,317.05h1v1h-1zM180.75,314.8h1v1h-1zM180.63,316.18h1v1h-1zM180.77,314.66h1v1h-1zM180.56,314.97h1v1h-1zM180.73,315.09h1v1h-1zM181.23,335.18h1v1h-1zM181.13,330.97h1v1h-1zM181.16,334.78h1v1h-1zM181.02,335.37h1v1h-1zM181.21,332.35h1v1h-1zM181.01,331.35h1v1h-1zM181.17,337.35h1v1h-1zM181.16,335.85h1v1h-1zM181.29,337.22h1v1h-1zM181.66,357.83h1v1h-1zM181.7,356.02h1v1h-1zM181.6,356.52h1v1h-1zM182.22,365.19h1v1h-1zM182.27,364.61h1v1h-1zM182.15,365.79h1v1h-1zM182.12,367.61h1v1h-1zM182.29,368.61h1v1h-1zM182.12,364.24h1v1h-1zM182.17,366.86h1v1h-1zM182.18,362.35h1v1h-1zM182.07,369.56h1v1h-1zM182.05,364.86h1v1h-1zM182.66,367.91h1v1h-1zM182.7,371.07h1v1h-1zM182.78,367.54h1v1h-1zM182.57,367.06h1v1h-1zM182.75,371.48h1v1h-1zM182.65,369.13h1v1h-1zM183.02,368.71h1v1h-1zM183.08,367.18h1v1h-1zM183.11,368.96h1v1h-1zM183.05,370.73h1v1h-1zM183.2,370.43h1v1h-1zM183.59,369.85h1v1h-1zM183.61,368.51h1v1h-1zM183.54,367.62h1v1h-1zM184.27,374.06h1v1h-1zM184.02,369.02h1v1h-1zM184.22,375.27h1v1h-1zM184.22,375.44h1v1h-1zM184.1,372.37h1v1h-1zM184.3,373.6h1v1h-1zM184.09,371.73h1v1h-1zM184.62,357.12h1v1h-1zM184.79,357.6h1v1h-1zM184.78,357.37h1v1h-1zM184.5,361.32h1v1h-1zM184.5,361.61h1v1h-1zM184.5,356.43h1v1h-1zM184.7,357.76h1v1h-1zM184.53,360.42h1v1h-1zM185.22,353.59h1v1h-1zM185.11,353.34h1v1h-1zM185.27,355.86h1v1h-1zM185.13,356.02h1v1h-1zM185.16,358.03h1v1h-1zM185.17,352.61h1v1h-1zM185.61,359.88h1v1h-1zM185.79,360.17h1v1h-1zM185.77,357.59h1v1h-1zM185.61,358.61h1v1h-1zM185.72,359.64h1v1h-1zM185.61,359.07h1v1h-1zM186.12,368.56h1v1h-1zM186.11,372.65h1v1h-1zM186.25,372.71h1v1h-1zM186.24,368.55h1v1h-1zM186.09,371.05h1v1h-1zM186.58,372.38h1v1h-1zM186.69,371.05h1v1h-1zM186.61,373.63h1v1h-1zM186.66,372.58h1v1h-1zM186.72,372.12h1v1h-1zM186.72,369.33h1v1h-1zM186.75,373.47h1v1h-1zM187.27,371.52h1v1h-1zM187.18,368.64h1v1h-1zM187.27,369.06h1v1h-1zM187.19,375.22h1v1h-1zM187.25,371.35h1v1h-1zM187.09,369.49h1v1h-1zM187.03,375.03h1v1h-1zM187.28,371.66h1v1h-1zM187.11,373.3h1v1h-1zM187.2,372.86h1v1h-1zM187.54,370.28h1v1h-1zM187.52,370.5h1v1h-1zM187.62,372.56h1v1h-1zM187.61,372.85h1v1h-1zM188.15,369.29h1v1h-1zM188.12,369.97h1v1h-1zM188.2,370.68h1v1h-1zM188.12,370.46h1v1h-1zM188.24,371.07h1v1h-1zM188.09,370.12h1v1h-1zM188.03,367.82h1v1h-1zM188.19,372.37h1v1h-1zM188.07,372.11h1v1h-1zM188.56,359.12h1v1h-1zM188.53,356.38h1v1h-1zM188.75,360.57h1v1h-1zM188.52,358.95h1v1h-1zM188.74,358.8h1v1h-1zM189.17,360.65h1v1h-1zM189.21,360.51h1v1h-1zM189.12,356.08h1v1h-1zM189.18,357.71h1v1h-1zM189.21,355.91h1v1h-1zM189.72,361.82h1v1h-1zM189.52,360.38h1v1h-1zM189.69,366.61h1v1h-1zM189.54,367.74h1v1h-1zM189.64,363.49h1v1h-1zM189.66,367.87h1v1h-1zM189.52,367.21h1v1h-1zM189.55,364.64h1v1h-1zM189.72,366.61h1v1h-1zM189.79,367.37h1v1h-1zM189.73,362.57h1v1h-1zM190.25,370.3h1v1h-1zM190.01,372.25h1v1h-1zM190.28,373.12h1v1h-1zM190.29,371.51h1v1h-1zM190.03,370.89h1v1h-1zM190.28,371.98h1v1h-1zM190.08,366.8h1v1h-1zM190.02,367.35h1v1h-1zM190.63,365.31h1v1h-1zM190.78,364.55h1v1h-1zM190.72,366.3h1v1h-1zM190.71,370.94h1v1h-1zM190.52,370.44h1v1h-1zM190.75,370.36h1v1h-1zM190.72,364.19h1v1h-1zM190.63,369.83h1v1h-1zM191.2,371.66h1v1h-1zM191.24,366.46h1v1h-1zM191.04,365.01h1v1h-1zM191.05,371.07h1v1h-1zM191.28,369.3h1v1h-1zM191.15,367.81h1v1h-1zM191.22,364.42h1v1h-1zM191.27,363.97h1v1h-1zM191.7,367.33h1v1h-1zM191.6,364.51h1v1h-1zM191.75,363.31h1v1h-1zM191.8,365.22h1v1h-1zM191.77,368.28h1v1h-1zM191.7,368.02h1v1h-1zM191.71,363.77h1v1h-1zM192.24,360.81h1v1h-1zM192.28,362.24h1v1h-1zM192.11,368.95h1v1h-1zM192.05,366.39h1v1h-1zM192.14,368.43h1v1h-1zM192.06,363.13h1v1h-1zM192.19,363.99h1v1h-1zM192.16,364.03h1v1h-1zM192.14,368.03h1v1h-1zM192.1,367.5h1v1h-1zM180.2,312h.95v.95h-.95zM180.13,295.85h.95v.95h-.95zM179.71,312.87h.95v.95h-.95zM180.17,280.46h.95v.95h-.95zM180.16,304.72h.95v.95h-.95zM179.68,312.01h.95v.95h-.95zM180.56,281.13h.95v.95h-.95zM179.99,307.98h.95v.95h-.95zM179.99,311.45h.95v.95h-.95zM180.55,295.52h.95v.95h-.95zM180.68,296.17h.95v.95h-.95zM180.31,272.44h.95v.95h-.95zM179.75,312.2h.95v.95h-.95zM179.74,288.68h.95v.95h-.95zM179.65,277.57h.95v.95h-.95zM180.87,311.95h.95v.95h-.95zM180.3,300.3h.95v.95h-.95zM179.73,292.19h.95v.95h-.95zM180.05,303.09h.95v.95h-.95zM180.59,285.58h.95v.95h-.95zM179.81,287.64h.95v.95h-.95zM180.77,298.05h.95v.95h-.95zM180.03,308.7h.95v.95h-.95zM180.87,291.3h.95v.95h-.95zM180.47,312.55h.95v.95h-.95zM180.26,298.06h.95v.95h-.95zM179.7,280.55h.95v.95h-.95zM179.99,292.1h.95v.95h-.95zM180.5,284.73h.95v.95h-.95zM179.77,299.93h.95v.95h-.95zM180.1,260.39h1v1h-1zM180.1,269.94h1v1h-1zM189.1,339.58h1v1h-1z" fill="#8e8e8e"/>
<path d="M192.8,387.3V359.61h.55V387.3zM193.3,387.3V359.11h.55V387.3zM193.8,387.3V356.29h.55V387.3zM194.3,387.3V357.15h.55V387.3zM194.8,387.3V357.71h.55V387.3zM195.3,387.3V355.16h.55V387.3zM195.8,387.3V351.53h.55V387.3zM196.3,387.3V354.62h.55V387.3zM196.8,387.3V353.9h.55V387.3zM197.3,387.3V351.21h.55V387.3zM197.8,387.3V349.39h.55V387.3zM198.3,387.3V350.46h.55V387.3zM198.8,387.3V349.3h.55V387.3zM199.3,387.3V348.4h.55V387.3zM199.8,387.3V352.53h.55V387.3zM200.3,387.3V348.07h.55V387.3zM200.8,387.3V346.77h.55V387.3zM201.3,387.3V348.31h.55V387.3zM201.8,387.3V348.09h.55V387.3zM202.3,387.3V354.94h.55V387.3zM202.8,387.3V357.39h.55V387.3zM203.3,387.3V359.84h.55V387.3zM203.8,387.3V361.9h.55V387.3zM204.3,387.3V360.9h.55V387.3zM204.8,387.3V359.71h.55V387.3zM192.68,353.52h1v1h-1zM192.64,353.94h1v1h-1zM192.49,352.34h1v1h-1zM192.67,351.82h1v1h-1zM192.58,355.68h1v1h-1zM192.47,352.38h1v1h-1zM192.45,358.02h1v1h-1zM193.15,357.72h1v1h-1zM193.01,355.3h1v1h-1zM193.15,353.78h1v1h-1zM193.13,353.13h1v1h-1zM193.06,356.79h1v1h-1zM193.43,350.41h1v1h-1zM193.46,350.01h1v1h-1zM193.4,354.41h1v1h-1zM193.42,352.11h1v1h-1zM193.66,354.03h1v1h-1zM193.52,353.31h1v1h-1zM193.51,354.04h1v1h-1zM194.16,355.42h1v1h-1zM193.93,350.53h1v1h-1zM194.02,352.97h1v1h-1zM194,350.69h1v1h-1zM194.16,355.3h1v1h-1zM194.02,351.56h1v1h-1zM194.07,351.99h1v1h-1zM194.11,354.33h1v1h-1zM194.52,350.26h1v1h-1zM194.48,351.05h1v1h-1zM194.53,353.48h1v1h-1zM194.62,355.48h1v1h-1zM194.64,350.5h1v1h-1zM194.4,349.72h1v1h-1zM194.42,353.15h1v1h-1zM194.48,352.79h1v1h-1zM194.49,353.66h1v1h-1zM194.59,352.13h1v1h-1zM195.03,352.14h1v1h-1zM195.01,354.17h1v1h-1zM195.09,351.89h1v1h-1zM195.11,350.06h1v1h-1zM195.16,351.7h1v1h-1zM195,350.9h1v1h-1zM195,351.89h1v1h-1zM195.67,349.75h1v1h-1zM195.57,346.51h1v1h-1zM195.68,348.41h1v1h-1zM195.57,347.12h1v1h-1zM195.65,350.36h1v1h-1zM195.49,347.95h1v1h-1zM196.05,350.39h1v1h-1zM196.15,346.5h1v1h-1zM196.14,350.12h1v1h-1zM195.98,350.69h1v1h-1zM196.08,351.08h1v1h-1zM195.9,353.13h1v1h-1zM195.91,350.33h1v1h-1zM196.17,354.11h1v1h-1zM196.04,351.36h1v1h-1zM196.09,352.21h1v1h-1zM196.66,348.87h1v1h-1zM196.53,348.73h1v1h-1zM196.55,350.68h1v1h-1zM196.6,351.95h1v1h-1zM196.52,353.32h1v1h-1zM196.6,349.49h1v1h-1zM197.01,345.14h1v1h-1zM197.02,345.31h1v1h-1zM197.11,347.1h1v1h-1zM197,343.78h1v1h-1zM197.08,349.75h1v1h-1zM196.96,347.31h1v1h-1zM197.61,348.5h1v1h-1zM197.55,344.8h1v1h-1zM197.51,342.94h1v1h-1zM197.63,342.73h1v1h-1zM197.55,347.89h1v1h-1zM197.64,346.38h1v1h-1zM197.46,342.61h1v1h-1zM198.03,349.73h1v1h-1zM198.2,341.55h1v1h-1zM198.02,347.67h1v1h-1zM198.13,346.51h1v1h-1zM198.06,348.34h1v1h-1zM198.03,349h1v1h-1zM198.03,342.85h1v1h-1zM197.99,342.28h1v1h-1zM197.99,341.38h1v1h-1zM198.51,347.7h1v1h-1zM198.63,348.69h1v1h-1zM198.61,345.21h1v1h-1zM198.62,347.86h1v1h-1zM198.55,342.31h1v1h-1zM198.53,346.23h1v1h-1zM198.7,343.42h1v1h-1zM199.18,344.09h1v1h-1zM198.98,342.67h1v1h-1zM199.08,346h1v1h-1zM199.06,342.23h1v1h-1zM199.07,345.83h1v1h-1zM198.97,347.43h1v1h-1zM199.13,345.18h1v1h-1zM199.6,343.81h1v1h-1zM199.58,345.5h1v1h-1zM199.63,345.85h1v1h-1zM199.69,350.08h1v1h-1zM199.7,343.77h1v1h-1zM199.47,350.32h1v1h-1zM199.47,350.74h1v1h-1zM199.52,346.57h1v1h-1zM199.54,349.72h1v1h-1zM199.66,351.89h1v1h-1zM199.94,347.14h1v1h-1zM200.01,343.14h1v1h-1zM200.08,345.78h1v1h-1zM200.13,346.44h1v1h-1zM200.13,341.08h1v1h-1zM199.96,343.89h1v1h-1zM200.01,341.92h1v1h-1zM199.98,344.58h1v1h-1zM200.03,341.39h1v1h-1zM199.95,340.49h1v1h-1zM200.49,342.51h1v1h-1zM200.65,344.44h1v1h-1zM200.41,345.21h1v1h-1zM200.93,346.49h1v1h-1zM200.98,345.3h1v1h-1zM201.18,344.56h1v1h-1zM200.97,345.18h1v1h-1zM200.99,345.2h1v1h-1zM200.91,345.38h1v1h-1zM201.57,343.93h1v1h-1zM201.54,346.88h1v1h-1zM201.67,344.08h1v1h-1zM201.51,343.41h1v1h-1zM201.92,348.18h1v1h-1zM202.1,350.55h1v1h-1zM201.96,348.39h1v1h-1zM202.01,350.92h1v1h-1zM202.16,351.85h1v1h-1zM202.07,349.91h1v1h-1zM201.98,348.47h1v1h-1zM202.11,353.18h1v1h-1zM202.53,355.03h1v1h-1zM202.43,348.89h1v1h-1zM202.69,351.86h1v1h-1zM202.67,348.9h1v1h-1zM202.68,350.44h1v1h-1zM202.63,353.62h1v1h-1zM202.53,349.21h1v1h-1zM202.48,355.49h1v1h-1zM203.03,351.03h1v1h-1zM203.15,351.28h1v1h-1zM202.93,356.8h1v1h-1zM202.96,357h1v1h-1zM202.96,356.55h1v1h-1zM202.9,359.31h1v1h-1zM203.07,359.08h1v1h-1zM203.09,355.18h1v1h-1zM203.15,357.42h1v1h-1zM203.5,355.27h1v1h-1zM203.66,359h1v1h-1zM203.58,358.19h1v1h-1zM203.69,357.64h1v1h-1zM203.6,359.3h1v1h-1zM203.52,357.22h1v1h-1zM204.19,358.16h1v1h-1zM204.02,357.45h1v1h-1zM204.06,356.02h1v1h-1zM203.96,358.51h1v1h-1zM203.99,359.92h1v1h-1zM204.07,358.17h1v1h-1zM204.04,356.34h1v1h-1zM204.14,358.09h1v1h-1zM204.68,358.21h1v1h-1zM204.53,357.58h1v1h-1zM204.69,356.09h1v1h-1zM204.46,358.88h1v1h-1zM204.59,358.14h1v1h-1zM202.8,336.85h1.2v1.2h-1.2zM194.5,345.78h1v1h-1zM199.8,337.91h1v1h-1z" fill="#222"/>
<path d="M205.1,387.3V345.31h.55V387.3zM205.6,387.3V322.51h.55V387.3zM206.1,387.3V310.57h.55V387.3zM206.6,387.3V305.27h.55V387.3zM207.1,387.3V302.89h.55V387.3zM207.6,387.3V310.89h.55V387.3zM208.1,387.3V308.83h.55V387.3zM208.6,387.3V307.33h.55V387.3zM209.1,387.3V304h.55V387.3zM209.6,387.3V303.66h.55V387.3zM210.1,387.3V321.91h.55V387.3zM210.6,387.3V334.96h.55V387.3zM211.1,387.3V341.23h.55V387.3zM211.6,387.3V348.07h.55V387.3zM212.1,387.3V354.37h.55V387.3zM212.6,387.3V356.56h.55V387.3zM213.1,387.3V358.03h.55V387.3zM213.6,387.3V359.98h.55V387.3zM214.1,387.3V362.52h.55V387.3zM214.6,387.3V358.42h.55V387.3zM215.1,387.3V352.61h.55V387.3zM215.6,387.3V351.51h.55V387.3zM216.1,387.3V361.95h.55V387.3zM216.6,387.3V362.58h.55V387.3zM217.1,387.3V362.74h.55V387.3zM217.6,387.3V365.73h.55V387.3zM204.95,341.26h1v1h-1zM204.82,342.78h1v1h-1zM204.9,339.62h1v1h-1zM204.89,342.42h1v1h-1zM204.86,338.26h1v1h-1zM204.84,340.11h1v1h-1zM204.88,340.13h1v1h-1zM204.99,341.32h1v1h-1zM205.26,318.75h1v1h-1zM205.34,321.83h1v1h-1zM205.38,320.12h1v1h-1zM205.22,321.8h1v1h-1zM205.41,317.77h1v1h-1zM205.24,320.81h1v1h-1zM205.32,318.5h1v1h-1zM205.82,306.15h1v1h-1zM205.76,309.95h1v1h-1zM205.79,309.63h1v1h-1zM205.71,307.63h1v1h-1zM206.48,301.89h1v1h-1zM206.46,300.43h1v1h-1zM206.29,304.48h1v1h-1zM206.27,302.67h1v1h-1zM206.4,300.4h1v1h-1zM206.46,302.4h1v1h-1zM206.27,301.59h1v1h-1zM206.8,299.05h1v1h-1zM206.99,296.12h1v1h-1zM206.97,298.05h1v1h-1zM206.94,296.35h1v1h-1zM206.91,300.03h1v1h-1zM206.76,300.71h1v1h-1zM207.41,305.24h1v1h-1zM207.24,306.8h1v1h-1zM207.31,308.02h1v1h-1zM207.27,308.72h1v1h-1zM207.88,305.59h1v1h-1zM207.92,306.95h1v1h-1zM207.87,305.79h1v1h-1zM207.73,306.37h1v1h-1zM208.49,301.58h1v1h-1zM208.34,300.71h1v1h-1zM208.23,303.02h1v1h-1zM208.28,304.39h1v1h-1zM208.88,299.37h1v1h-1zM208.91,298.43h1v1h-1zM208.87,300.46h1v1h-1zM208.94,301.92h1v1h-1zM209.41,300.69h1v1h-1zM209.42,297.26h1v1h-1zM209.21,301.42h1v1h-1zM209.22,300.69h1v1h-1zM209.28,297.54h1v1h-1zM209.27,299.43h1v1h-1zM209.97,319.29h1v1h-1zM209.89,319.37h1v1h-1zM209.97,320.28h1v1h-1zM209.76,316.63h1v1h-1zM209.94,319.99h1v1h-1zM209.82,319.06h1v1h-1zM209.91,320.15h1v1h-1zM210.5,332.38h1v1h-1zM210.49,332.61h1v1h-1zM210.27,332.63h1v1h-1zM210.39,332.29h1v1h-1zM210.25,332.27h1v1h-1zM210.4,332.88h1v1h-1zM210.76,340.27h1v1h-1zM210.74,335.94h1v1h-1zM210.9,337.53h1v1h-1zM210.92,338.56h1v1h-1zM210.87,338.14h1v1h-1zM210.79,337.94h1v1h-1zM211.31,344.89h1v1h-1zM211.27,346.25h1v1h-1zM211.34,345.39h1v1h-1zM211.36,344.74h1v1h-1zM211.96,353.21h1v1h-1zM211.99,350.48h1v1h-1zM211.82,348.56h1v1h-1zM211.77,351.51h1v1h-1zM211.76,351.82h1v1h-1zM211.94,349.65h1v1h-1zM211.99,352.69h1v1h-1zM212.2,347.93h1v1h-1zM212.33,351.59h1v1h-1zM212.44,350.36h1v1h-1zM212.43,353.87h1v1h-1zM212.29,355.9h1v1h-1zM212.34,353.47h1v1h-1zM212.21,350.1h1v1h-1zM212.39,352.73h1v1h-1zM212.89,356.92h1v1h-1zM212.76,352.4h1v1h-1zM212.83,356.48h1v1h-1zM212.93,353.97h1v1h-1zM212.81,354.48h1v1h-1zM212.99,354.71h1v1h-1zM213.4,357.76h1v1h-1zM213.26,355.45h1v1h-1zM213.38,356.94h1v1h-1zM213.42,357.29h1v1h-1zM213.99,360.92h1v1h-1zM213.88,357.06h1v1h-1zM213.72,356.11h1v1h-1zM213.88,360.54h1v1h-1zM213.77,355.78h1v1h-1zM213.92,355.81h1v1h-1zM213.92,359.49h1v1h-1zM213.77,357.13h1v1h-1zM213.96,355.83h1v1h-1zM214.24,355.8h1v1h-1zM214.33,356.68h1v1h-1zM214.28,356.02h1v1h-1zM214.23,353.06h1v1h-1zM214.5,355.45h1v1h-1zM214.78,345.42h1v1h-1zM214.85,345.43h1v1h-1zM214.85,350.75h1v1h-1zM214.86,344.83h1v1h-1zM214.88,346.64h1v1h-1zM214.94,348.67h1v1h-1zM215.33,350.27h1v1h-1zM215.24,349.45h1v1h-1zM215.39,349.76h1v1h-1zM215.95,358.21h1v1h-1zM215.89,360.61h1v1h-1zM215.7,360.53h1v1h-1zM215.78,360.3h1v1h-1zM215.74,355.66h1v1h-1zM215.83,356.23h1v1h-1zM215.95,359.29h1v1h-1zM215.91,360.95h1v1h-1zM215.76,358.34h1v1h-1zM216.49,355.38h1v1h-1zM216.41,360.21h1v1h-1zM216.43,355.99h1v1h-1zM216.4,360.87h1v1h-1zM216.28,358.58h1v1h-1zM216.39,357.46h1v1h-1zM216.47,361.65h1v1h-1zM216.92,362.06h1v1h-1zM216.83,360.73h1v1h-1zM216.76,360.8h1v1h-1zM216.82,355.89h1v1h-1zM216.74,359.27h1v1h-1zM217.41,360.94h1v1h-1zM217.25,357.06h1v1h-1zM217.29,358.11h1v1h-1zM217.49,360.39h1v1h-1zM217.4,358.12h1v1h-1zM217.47,359.66h1v1h-1zM207.56,293.05h.95v.95h-.95zM207.47,299.29h.95v.95h-.95zM208.58,287.08h.95v.95h-.95zM206.91,300.73h.95v.95h-.95zM208.31,298.73h.95v.95h-.95zM208.12,299.4h.95v.95h-.95zM207.01,299.24h.95v.95h-.95zM206.45,287.17h.95v.95h-.95zM206.84,293.89h.95v.95h-.95zM206.3,291.02h.95v.95h-.95zM206.79,292.35h.95v.95h-.95zM206.98,287.44h.95v.95h-.95zM206.2,292.47h.95v.95h-.95zM207.77,287.77h.95v.95h-.95zM208.06,288.23h.95v.95h-.95zM208.06,300.59h.95v.95h-.95zM206.65,296.89h.95v.95h-.95zM207.85,288.66h.95v.95h-.95zM206.31,297.32h.95v.95h-.95zM206.28,292.8h.95v.95h-.95zM206.25,298.74h.95v.95h-.95zM208.07,299.51h.95v.95h-.95zM208.69,298.39h.95v.95h-.95zM208.2,298.24h.95v.95h-.95zM207.8,291.36h.95v.95h-.95zM206.49,293.52h.95v.95h-.95zM208.52,289.76h.95v.95h-.95zM206.61,294.68h.95v.95h-.95zM206.79,300.38h.95v.95h-.95zM206.95,287.17h.95v.95h-.95zM207.49,298.22h.95v.95h-.95zM208.18,300.78h.95v.95h-.95zM206.92,290.61h.95v.95h-.95zM208.46,300.82h.95v.95h-.95zM208.11,290.09h.95v.95h-.95zM208.61,299.08h.95v.95h-.95zM206.21,292.94h.95v.95h-.95zM207.94,287h.95v.95h-.95zM208.44,299.38h.95v.95h-.95zM207.78,293.64h.95v.95h-.95zM206.68,300.83h.95v.95h-.95zM206.16,290.39h.95v.95h-.95zM206.61,284.96h.95v.95h-.95zM206.74,279.56h.95v.95h-.95zM207.33,276.22h.95v.95h-.95zM208.21,276.26h.95v.95h-.95zM206.84,272.87h.95v.95h-.95zM207.98,282.8h.95v.95h-.95zM208.26,283.24h.95v.95h-.95zM207.67,283.19h.95v.95h-.95zM207.85,284.22h.95v.95h-.95zM207.28,283.88h.95v.95h-.95zM208.05,277.27h.95v.95h-.95zM206.8,285.54h.95v.95h-.95zM207.93,284.75h.95v.95h-.95zM207.84,278.09h.95v.95h-.95zM206.92,275.82h.95v.95h-.95zM206.48,280.89h.95v.95h-.95zM207.62,282.97h.95v.95h-.95zM207.99,284.17h.95v.95h-.95zM207.31,284.75h.95v.95h-.95zM206.9,277.92h.95v.95h-.95zM207.24,278.26h.95v.95h-.95zM206.68,286.38h.95v.95h-.95zM208.04,278.44h.95v.95h-.95zM208.11,277.99h.95v.95h-.95zM206.3,260.39h1v1h-1zM207.6,264.69h1v1h-1zM206.3,269.22h1v1h-1zM216.5,340.29h1v1h-1z" fill="#8e8e8e"/>
<path d="M217.9,387.3V365.55h.55V387.3zM218.4,387.3V365.75h.55V387.3zM218.9,387.3V363.42h.55V387.3zM219.4,387.3V361.65h.55V387.3zM219.9,387.3V360.68h.55V387.3zM220.4,387.3V358.63h.55V387.3zM220.9,387.3V336.76h.55V387.3zM221.4,387.3V331.31h.55V387.3zM221.9,387.3V328.85h.55V387.3zM222.4,387.3V328.67h.55V387.3zM222.9,387.3V332.57h.55V387.3zM223.4,387.3V330.78h.55V387.3zM223.9,387.3V339.78h.55V387.3zM224.4,387.3V336.72h.55V387.3zM224.9,387.3V325.9h.55V387.3zM225.4,387.3V323.7h.55V387.3zM225.9,387.3V328.9h.55V387.3zM226.4,387.3V326.59h.55V387.3zM226.9,387.3V326.93h.55V387.3zM227.4,387.3V344.92h.55V387.3zM227.9,387.3V353.7h.55V387.3zM228.4,387.3V351.13h.55V387.3zM228.9,387.3V355.1h.55V387.3zM229.4,387.3V353.82h.55V387.3zM229.9,387.3V357.75h.55V387.3zM230.4,387.3V360.35h.55V387.3zM230.9,387.3V359.17h.55V387.3zM231.4,387.3V360.74h.55V387.3zM231.9,387.3V361.63h.55V387.3zM217.55,360.85h1v1h-1zM217.53,364.37h1v1h-1zM217.67,362.74h1v1h-1zM217.75,357.99h1v1h-1zM217.56,360.39h1v1h-1zM217.56,363.31h1v1h-1zM217.74,364.85h1v1h-1zM218.05,362.79h1v1h-1zM218.27,359.92h1v1h-1zM218.16,363.58h1v1h-1zM218.15,361.59h1v1h-1zM218.13,364.37h1v1h-1zM218.24,361.22h1v1h-1zM218.28,362.65h1v1h-1zM218.77,359.28h1v1h-1zM218.55,361.99h1v1h-1zM218.79,362.24h1v1h-1zM218.64,357.28h1v1h-1zM218.77,361.33h1v1h-1zM218.72,360.05h1v1h-1zM218.75,359.92h1v1h-1zM218.64,361.49h1v1h-1zM219.05,358.46h1v1h-1zM219.24,357.48h1v1h-1zM219.05,358.37h1v1h-1zM219.01,357.42h1v1h-1zM219.53,358.49h1v1h-1zM219.52,357.67h1v1h-1zM219.56,356.24h1v1h-1zM219.66,359.48h1v1h-1zM219.71,357.25h1v1h-1zM220.19,355.06h1v1h-1zM220.27,357.25h1v1h-1zM220.08,356.08h1v1h-1zM220.12,353.75h1v1h-1zM220.62,332.5h1v1h-1zM220.69,332.02h1v1h-1zM220.79,332.89h1v1h-1zM221.28,328.68h1v1h-1zM221.05,329.96h1v1h-1zM221.11,328.66h1v1h-1zM221.1,330.63h1v1h-1zM221.7,324.33h1v1h-1zM221.52,328.26h1v1h-1zM221.6,324.6h1v1h-1zM221.66,324.98h1v1h-1zM222.21,325.5h1v1h-1zM222.1,324.3h1v1h-1zM222.24,326.57h1v1h-1zM222.14,327.84h1v1h-1zM222.02,328.1h1v1h-1zM222,326.07h1v1h-1zM222.66,325.33h1v1h-1zM222.52,329.41h1v1h-1zM222.7,326.62h1v1h-1zM222.69,330.95h1v1h-1zM222.66,325.22h1v1h-1zM222.71,330.82h1v1h-1zM222.54,330.43h1v1h-1zM223.2,329.1h1v1h-1zM223.13,328.96h1v1h-1zM223.03,330.02h1v1h-1zM223.01,326.95h1v1h-1zM223.18,325.89h1v1h-1zM223.13,328.29h1v1h-1zM223.05,330.01h1v1h-1zM223.68,338.78h1v1h-1zM223.71,336.78h1v1h-1zM223.73,335.64h1v1h-1zM223.51,338.24h1v1h-1zM223.59,337.48h1v1h-1zM223.77,338.4h1v1h-1zM223.75,335.12h1v1h-1zM224.01,334.71h1v1h-1zM224.16,329.98h1v1h-1zM224.08,329.66h1v1h-1zM224.3,334.38h1v1h-1zM224.25,332.96h1v1h-1zM224.78,322.66h1v1h-1zM224.56,320.75h1v1h-1zM224.67,320.51h1v1h-1zM224.71,321.72h1v1h-1zM224.74,322.62h1v1h-1zM225.26,320.26h1v1h-1zM225.08,320.71h1v1h-1zM225.03,323.17h1v1h-1zM225.23,320.04h1v1h-1zM225.18,322.78h1v1h-1zM225.08,320.9h1v1h-1zM225.24,321.96h1v1h-1zM225.58,326.94h1v1h-1zM225.78,322.93h1v1h-1zM225.53,326.75h1v1h-1zM225.72,325.95h1v1h-1zM225.61,327.47h1v1h-1zM225.67,326.62h1v1h-1zM225.58,327.31h1v1h-1zM226.23,324.29h1v1h-1zM226.29,322.16h1v1h-1zM226.01,325.8h1v1h-1zM226.2,323.55h1v1h-1zM226.2,324.36h1v1h-1zM226.21,323.71h1v1h-1zM226.56,321.75h1v1h-1zM226.78,324.06h1v1h-1zM226.78,324.28h1v1h-1zM226.52,320.71h1v1h-1zM226.6,325.99h1v1h-1zM226.63,320.46h1v1h-1zM227.01,342.26h1v1h-1zM227.29,338.36h1v1h-1zM227.25,341.6h1v1h-1zM227.06,344h1v1h-1zM227.21,339.7h1v1h-1zM227.24,339.94h1v1h-1zM227.29,343.92h1v1h-1zM227.52,350.27h1v1h-1zM227.6,351.84h1v1h-1zM227.68,347.68h1v1h-1zM227.79,347.55h1v1h-1zM227.6,346.27h1v1h-1zM227.76,347.79h1v1h-1zM227.65,351.58h1v1h-1zM227.8,349.02h1v1h-1zM227.56,349.67h1v1h-1zM227.78,348.34h1v1h-1zM227.71,348.59h1v1h-1zM228.11,350.09h1v1h-1zM228.28,347.71h1v1h-1zM228.12,348.06h1v1h-1zM228,349.45h1v1h-1zM228.24,347.42h1v1h-1zM228.12,348.67h1v1h-1zM228.57,351.83h1v1h-1zM228.5,351.67h1v1h-1zM228.5,351.81h1v1h-1zM228.64,351.56h1v1h-1zM228.6,354.27h1v1h-1zM228.68,353.97h1v1h-1zM229.01,348.7h1v1h-1zM229.24,350.62h1v1h-1zM229,350.85h1v1h-1zM229.07,348.55h1v1h-1zM229.59,352.85h1v1h-1zM229.7,355.99h1v1h-1zM229.64,350.15h1v1h-1zM229.69,352.38h1v1h-1zM229.59,350.53h1v1h-1zM229.69,356.06h1v1h-1zM230.03,353.63h1v1h-1zM230.04,356.47h1v1h-1zM230.08,356h1v1h-1zM230.01,357.82h1v1h-1zM230.12,356.76h1v1h-1zM230.16,358.57h1v1h-1zM230.06,357.9h1v1h-1zM230.64,357.53h1v1h-1zM230.77,355.51h1v1h-1zM230.75,357.06h1v1h-1zM231.14,359.92h1v1h-1zM231.06,359.13h1v1h-1zM231.27,358.12h1v1h-1zM231.13,358.3h1v1h-1zM231.12,359.46h1v1h-1zM231.53,359.76h1v1h-1zM231.61,358.67h1v1h-1zM231.51,360.88h1v1h-1zM231.67,358.72h1v1h-1zM231.72,359.76h1v1h-1zM229.91,334.91h.95v.95h-.95zM229.57,331.18h.95v.95h-.95zM229.04,343.08h.95v.95h-.95zM229.23,337.46h.95v.95h-.95zM228.87,346.11h.95v.95h-.95zM229.58,339.87h.95v.95h-.95zM228.91,335.79h.95v.95h-.95zM229.49,348.32h.95v.95h-.95zM229.79,349.54h.95v.95h-.95zM221.95,310.33h1.3v1.3h-1.3zM221.95,312.24h1.3v1.3h-1.3zM229.05,310.71h1.5v1.5h-1.5zM229.15,320.35h1.3v1.3h-1.3zM229.15,321.78h1.3v1.3h-1.3zM229.25,328.22h1.3v1.3h-1.3zM229.15,334.18h1.3v1.3h-1.3z" fill="#222"/>
<path d="M232,387.3V368.53h.55V387.3zM232.5,387.3V370.09h.55V387.3zM233,387.3V372.38h.55V387.3zM233.5,387.3V371.79h.55V387.3zM234,387.3V371.9h.55V387.3zM234.5,387.3V371.19h.55V387.3zM235,387.3V371.64h.55V387.3zM235.5,387.3V365.95h.55V387.3zM236,387.3V368.46h.55V387.3zM236.5,387.3V361.13h.55V387.3zM237,387.3V354.01h.55V387.3zM237.5,387.3V350.17h.55V387.3zM238,387.3V350.57h.55V387.3zM238.5,387.3V348.02h.55V387.3zM239,387.3V351.54h.55V387.3zM239.5,387.3V361.32h.55V387.3zM240,387.3V364.3h.55V387.3zM240.5,387.3V364.44h.55V387.3zM241,387.3V364.28h.55V387.3zM241.5,387.3V367.79h.55V387.3zM242,387.3V368.45h.55V387.3zM242.5,387.3V364.33h.55V387.3zM231.83,364.02h1v1h-1zM231.78,363.4h1v1h-1zM231.87,364.14h1v1h-1zM231.69,363.12h1v1h-1zM231.67,364.05h1v1h-1zM231.7,361.64h1v1h-1zM231.7,363.91h1v1h-1zM232.26,366.9h1v1h-1zM232.23,365.93h1v1h-1zM232.35,368.18h1v1h-1zM232.11,368.31h1v1h-1zM232.4,365.01h1v1h-1zM232.11,364.69h1v1h-1zM232.83,364.78h1v1h-1zM232.65,369.64h1v1h-1zM232.76,367.56h1v1h-1zM232.62,367.65h1v1h-1zM232.65,366.54h1v1h-1zM232.86,370.82h1v1h-1zM232.88,364.45h1v1h-1zM232.62,366.44h1v1h-1zM232.64,371.59h1v1h-1zM233.1,366.72h1v1h-1zM233.12,369.09h1v1h-1zM233.29,365.67h1v1h-1zM233.24,370.57h1v1h-1zM233.6,368.83h1v1h-1zM233.63,370.06h1v1h-1zM233.9,365.98h1v1h-1zM233.66,365.44h1v1h-1zM233.67,365.27h1v1h-1zM233.67,367.62h1v1h-1zM233.84,366.19h1v1h-1zM233.74,368.88h1v1h-1zM234.24,364.04h1v1h-1zM234.2,370.49h1v1h-1zM234.23,370.61h1v1h-1zM234.37,368.84h1v1h-1zM234.25,366.62h1v1h-1zM234.26,368.64h1v1h-1zM234.12,366.75h1v1h-1zM234.16,366.46h1v1h-1zM234.82,366.6h1v1h-1zM234.71,364.98h1v1h-1zM234.78,364.74h1v1h-1zM234.71,367.79h1v1h-1zM234.73,367.25h1v1h-1zM234.79,368.6h1v1h-1zM234.76,365.47h1v1h-1zM234.72,365.35h1v1h-1zM234.76,367.97h1v1h-1zM234.8,363.06h1v1h-1zM235.25,360.44h1v1h-1zM235.26,361.53h1v1h-1zM235.28,365.09h1v1h-1zM235.4,364.16h1v1h-1zM235.21,363.79h1v1h-1zM235.14,364.02h1v1h-1zM235.77,360.19h1v1h-1zM235.6,364.06h1v1h-1zM235.86,365.82h1v1h-1zM235.7,360.07h1v1h-1zM235.77,359.62h1v1h-1zM235.67,365.61h1v1h-1zM235.7,365.28h1v1h-1zM235.75,363.47h1v1h-1zM236.19,353.85h1v1h-1zM236.16,359.47h1v1h-1zM236.39,358.2h1v1h-1zM236.33,357.59h1v1h-1zM236.36,359.95h1v1h-1zM236.16,359.28h1v1h-1zM236.24,355.14h1v1h-1zM236.2,358.2h1v1h-1zM236.13,354.5h1v1h-1zM236.66,346.78h1v1h-1zM236.63,348.59h1v1h-1zM236.75,352.32h1v1h-1zM236.64,347.71h1v1h-1zM236.62,352.15h1v1h-1zM236.87,351.04h1v1h-1zM237.17,349h1v1h-1zM237.32,342.79h1v1h-1zM237.24,349.18h1v1h-1zM237.37,341.84h1v1h-1zM237.32,342.7h1v1h-1zM237.39,345.69h1v1h-1zM237.14,340.79h1v1h-1zM237.64,347.82h1v1h-1zM237.85,343.75h1v1h-1zM237.62,346.72h1v1h-1zM237.9,346.17h1v1h-1zM237.61,345.66h1v1h-1zM237.79,345.41h1v1h-1zM237.73,346.97h1v1h-1zM238.14,344.71h1v1h-1zM238.36,347.41h1v1h-1zM238.16,341.3h1v1h-1zM238.38,342.22h1v1h-1zM238.23,342.19h1v1h-1zM238.38,344.08h1v1h-1zM238.26,342.32h1v1h-1zM238.36,345.66h1v1h-1zM238.78,348.85h1v1h-1zM238.77,346.98h1v1h-1zM238.82,346.96h1v1h-1zM238.86,350.15h1v1h-1zM239.33,359.91h1v1h-1zM239.38,359.28h1v1h-1zM239.23,359.87h1v1h-1zM239.35,357.75h1v1h-1zM239.82,361.91h1v1h-1zM239.73,356.26h1v1h-1zM239.69,359.97h1v1h-1zM239.7,357.48h1v1h-1zM239.61,359.01h1v1h-1zM239.79,356.8h1v1h-1zM239.61,355.76h1v1h-1zM239.83,362.2h1v1h-1zM240.16,360.68h1v1h-1zM240.12,363.55h1v1h-1zM240.73,360.5h1v1h-1zM240.76,363.28h1v1h-1zM240.85,360.51h1v1h-1zM240.65,360.93h1v1h-1zM240.8,363.46h1v1h-1zM241.33,364.18h1v1h-1zM241.18,366.12h1v1h-1zM241.29,362.48h1v1h-1zM241.27,361.75h1v1h-1zM241.29,366.39h1v1h-1zM241.76,363.91h1v1h-1zM241.66,367.02h1v1h-1zM241.9,366.6h1v1h-1zM241.78,361.28h1v1h-1zM241.81,361.54h1v1h-1zM241.69,360.1h1v1h-1zM241.77,363.58h1v1h-1zM241.86,367.4h1v1h-1zM242.33,360.37h1v1h-1zM242.39,362.45h1v1h-1zM242.28,362.94h1v1h-1zM242.3,363.47h1v1h-1zM242.3,363.15h1v1h-1zM242.14,360.23h1v1h-1zM237.61,340.09h.95v.95h-.95zM237.36,332.21h.95v.95h-.95zM237.25,312.07h.95v.95h-.95zM237.3,320.16h.95v.95h-.95zM237.28,319.24h.95v.95h-.95zM238.31,336.26h.95v.95h-.95zM237.67,334.08h.95v.95h-.95zM238.32,318.94h.95v.95h-.95zM237.26,323.62h.95v.95h-.95zM237.95,318.6h.95v.95h-.95zM237.59,322.17h.95v.95h-.95zM237.2,311.87h.95v.95h-.95zM237.78,323.73h.95v.95h-.95zM238.06,307.29h.95v.95h-.95zM237.58,334.96h.95v.95h-.95zM237.58,321.69h.95v.95h-.95zM238.32,339.77h.95v.95h-.95zM237.29,327.37h.95v.95h-.95zM237.14,337.54h.95v.95h-.95zM237.29,307.63h.95v.95h-.95zM237.7,300.46h1v1h-1zM235.3,332.9h1v1h-1zM232.5,355.8h1v1h-1z" fill="#8e8e8e"/>
<path d="M242.7,387.3V354.7h.55V387.3zM243.2,387.3V353.02h.55V387.3zM243.7,387.3V353.72h.55V387.3zM244.2,387.3V348.46h.55V387.3zM244.7,387.3V350.4h.55V387.3zM245.2,387.3V354.56h.55V387.3zM245.7,387.3V366.67h.55V387.3zM246.2,387.3V369.68h.55V387.3zM246.7,387.3V373.14h.55V387.3zM247.2,387.3V373.16h.55V387.3zM247.7,387.3V375.69h.55V387.3zM248.2,387.3V370.24h.55V387.3zM248.7,387.3V370.64h.55V387.3zM249.2,387.3V369.17h.55V387.3zM249.7,387.3V360.13h.55V387.3zM250.2,387.3V356.39h.55V387.3zM250.7,387.3V356.39h.55V387.3zM251.2,387.3V355.15h.55V387.3zM251.7,387.3V354.01h.55V387.3zM252.2,387.3V354.88h.55V387.3zM252.7,387.3V351.13h.55V387.3zM253.2,387.3V357.04h.55V387.3zM253.7,387.3V354.63h.55V387.3zM254.2,387.3V359.6h.55V387.3zM242.5,351.7h1v1h-1zM242.42,352.2h1v1h-1zM242.48,346.4h1v1h-1zM242.35,347.84h1v1h-1zM242.47,354.12h1v1h-1zM242.47,350.12h1v1h-1zM242.48,352.36h1v1h-1zM242.57,349.82h1v1h-1zM242.32,347.67h1v1h-1zM242.36,353.73h1v1h-1zM242.93,347.04h1v1h-1zM242.87,351.34h1v1h-1zM242.99,350.99h1v1h-1zM243,348.56h1v1h-1zM242.81,347.5h1v1h-1zM242.97,344.24h1v1h-1zM243.09,347.22h1v1h-1zM243.05,348.98h1v1h-1zM242.89,346.84h1v1h-1zM243.59,349.35h1v1h-1zM243.34,350.67h1v1h-1zM243.55,347.15h1v1h-1zM243.49,352.32h1v1h-1zM243.49,349.66h1v1h-1zM243.5,351.34h1v1h-1zM243.45,347.69h1v1h-1zM243.97,345.04h1v1h-1zM243.87,346.11h1v1h-1zM244,343.75h1v1h-1zM243.88,343.34h1v1h-1zM244,343.97h1v1h-1zM244.05,345.5h1v1h-1zM244.09,346.06h1v1h-1zM244.31,347.28h1v1h-1zM244.59,345.35h1v1h-1zM244.41,349.01h1v1h-1zM244.54,349.14h1v1h-1zM244.38,346.99h1v1h-1zM244.45,349.27h1v1h-1zM244.32,348.86h1v1h-1zM245.07,350.22h1v1h-1zM244.99,353.87h1v1h-1zM245.08,350.44h1v1h-1zM245.37,366.12h1v1h-1zM245.57,361.33h1v1h-1zM245.49,360.95h1v1h-1zM245.47,364.42h1v1h-1zM245.4,361.39h1v1h-1zM245.42,365.01h1v1h-1zM245.58,365.42h1v1h-1zM245.4,361.14h1v1h-1zM246,364.35h1v1h-1zM246,367.75h1v1h-1zM245.85,368.83h1v1h-1zM245.96,368.52h1v1h-1zM246.03,367.02h1v1h-1zM246.1,364.81h1v1h-1zM245.87,361.98h1v1h-1zM245.87,366.79h1v1h-1zM245.95,367.32h1v1h-1zM246.49,366.61h1v1h-1zM246.56,372.59h1v1h-1zM246.39,370.64h1v1h-1zM246.37,372.2h1v1h-1zM246.34,371.73h1v1h-1zM246.39,372.24h1v1h-1zM246.8,368.33h1v1h-1zM247.07,372.51h1v1h-1zM246.97,367.77h1v1h-1zM246.81,371.58h1v1h-1zM246.85,369.03h1v1h-1zM247.56,372.84h1v1h-1zM247.51,374.39h1v1h-1zM247.44,368.68h1v1h-1zM247.39,374.81h1v1h-1zM247.45,372.26h1v1h-1zM247.32,370.47h1v1h-1zM247.31,371.2h1v1h-1zM247.52,369.66h1v1h-1zM247.53,374.05h1v1h-1zM248.01,367.41h1v1h-1zM247.98,366.25h1v1h-1zM247.89,366.89h1v1h-1zM248.04,368.15h1v1h-1zM248.5,364.98h1v1h-1zM248.44,364.91h1v1h-1zM248.46,368.01h1v1h-1zM248.42,368.2h1v1h-1zM248.49,369.1h1v1h-1zM249.05,364.93h1v1h-1zM248.92,364.31h1v1h-1zM248.87,367.99h1v1h-1zM248.97,366.26h1v1h-1zM248.89,363.2h1v1h-1zM249.04,368.56h1v1h-1zM248.86,366.21h1v1h-1zM248.9,367.41h1v1h-1zM248.96,367.06h1v1h-1zM249.06,367.77h1v1h-1zM249.51,357.81h1v1h-1zM249.57,358.06h1v1h-1zM249.36,357.79h1v1h-1zM249.41,356.12h1v1h-1zM250.07,354.84h1v1h-1zM250.04,352.7h1v1h-1zM250.01,353.24h1v1h-1zM249.89,352.78h1v1h-1zM250.09,354.68h1v1h-1zM249.86,355.79h1v1h-1zM250.1,353.13h1v1h-1zM250.48,349.43h1v1h-1zM250.56,350.86h1v1h-1zM250.35,354.71h1v1h-1zM250.31,350.6h1v1h-1zM250.36,354.92h1v1h-1zM250.52,351.44h1v1h-1zM250.56,355.2h1v1h-1zM250.51,348.43h1v1h-1zM251.08,346.9h1v1h-1zM251.03,349.07h1v1h-1zM250.83,350.44h1v1h-1zM250.89,347.6h1v1h-1zM251.01,350.85h1v1h-1zM251,353.89h1v1h-1zM250.94,352.84h1v1h-1zM251.01,346.76h1v1h-1zM250.98,350.75h1v1h-1zM250.98,352.01h1v1h-1zM251.31,351.67h1v1h-1zM251.46,353.41h1v1h-1zM251.46,350.2h1v1h-1zM251.48,351.98h1v1h-1zM251.37,352.36h1v1h-1zM251.42,349.17h1v1h-1zM251.5,351.61h1v1h-1zM251.91,354.08h1v1h-1zM251.87,353.97h1v1h-1zM251.9,351.97h1v1h-1zM251.81,349.44h1v1h-1zM252.06,348.73h1v1h-1zM251.82,349.62h1v1h-1zM252.05,352.86h1v1h-1zM252.33,350.24h1v1h-1zM252.36,348.69h1v1h-1zM252.45,348.17h1v1h-1zM252.53,346.1h1v1h-1zM252.57,346.48h1v1h-1zM253.02,353.47h1v1h-1zM253.1,350.11h1v1h-1zM252.84,352.97h1v1h-1zM253.09,353.55h1v1h-1zM252.83,351.49h1v1h-1zM253.09,349.54h1v1h-1zM253.53,349.65h1v1h-1zM253.54,353.79h1v1h-1zM253.54,348.43h1v1h-1zM253.49,347.46h1v1h-1zM253.32,347.55h1v1h-1zM253.5,349.93h1v1h-1zM253.57,353.59h1v1h-1zM253.37,347.37h1v1h-1zM253.37,349.62h1v1h-1zM254.02,356.79h1v1h-1zM253.9,352.65h1v1h-1zM253.8,358.78h1v1h-1zM253.89,353.61h1v1h-1zM253.91,355.51h1v1h-1zM254,354.31h1v1h-1zM253.88,351.35h1v1h-1zM254,357.19h1v1h-1zM253.92,353.99h1v1h-1zM254.09,358.34h1v1h-1zM243.15,333.23h1.3v1.3h-1.3zM243.15,337.76h1.3v1.3h-1.3zM251.8,347.21h1v1h-1z" fill="#222"/>
<path d="M254.5,387.3V344.82h.55V387.3zM255,387.3V333.88h.55V387.3zM255.5,387.3V333.97h.55V387.3zM256,387.3V339.6h.55V387.3zM256.5,387.3V340.09h.55V387.3zM257,387.3V341.33h.55V387.3zM257.5,387.3V333.95h.55V387.3zM258,387.3V342.58h.55V387.3zM258.5,387.3V345.7h.55V387.3zM259,387.3V344.19h.55V387.3zM259.5,387.3V343.58h.55V387.3zM260,387.3V336.46h.55V387.3zM260.5,387.3V334.47h.55V387.3zM261,387.3V315.51h.55V387.3zM261.5,387.3V306.87h.55V387.3zM262,387.3V313.5h.55V387.3zM262.5,387.3V309.28h.55V387.3zM263,387.3V310.69h.55V387.3zM263.5,387.3V304.9h.55V387.3zM264,387.3V316.21h.55V387.3zM264.5,387.3V332.5h.55V387.3zM254.38,339.09h1v1h-1zM254.3,340.05h1v1h-1zM254.27,343.64h1v1h-1zM254.28,340.33h1v1h-1zM254.39,340.21h1v1h-1zM254.23,339.19h1v1h-1zM254.21,341.88h1v1h-1zM254.81,329.9h1v1h-1zM254.86,328.77h1v1h-1zM254.64,329.9h1v1h-1zM254.7,331.62h1v1h-1zM254.84,332.98h1v1h-1zM255.26,333.37h1v1h-1zM255.2,329.32h1v1h-1zM255.37,332.34h1v1h-1zM255.17,332.17h1v1h-1zM255.2,329.75h1v1h-1zM255.76,338.16h1v1h-1zM255.65,337.78h1v1h-1zM255.74,336.34h1v1h-1zM255.6,338.23h1v1h-1zM255.81,334.17h1v1h-1zM255.69,337.05h1v1h-1zM255.63,334.67h1v1h-1zM255.79,337.7h1v1h-1zM256.12,338.94h1v1h-1zM256.22,335.2h1v1h-1zM256.31,335.13h1v1h-1zM256.15,336.67h1v1h-1zM256.16,338.15h1v1h-1zM256.13,335.22h1v1h-1zM256.31,335.55h1v1h-1zM256.18,334.48h1v1h-1zM256.35,338.72h1v1h-1zM256.89,337.98h1v1h-1zM256.9,338.4h1v1h-1zM256.84,335.58h1v1h-1zM256.71,340.81h1v1h-1zM256.73,333.28h1v1h-1zM256.78,337.85h1v1h-1zM256.89,333.68h1v1h-1zM256.69,340.78h1v1h-1zM256.86,334.81h1v1h-1zM257.22,332h1v1h-1zM257.38,329.48h1v1h-1zM257.21,332.45h1v1h-1zM257.35,329.77h1v1h-1zM257.33,331.52h1v1h-1zM257.18,328.37h1v1h-1zM257.86,338.49h1v1h-1zM257.75,340.3h1v1h-1zM257.63,337.12h1v1h-1zM257.81,339.13h1v1h-1zM257.81,336.67h1v1h-1zM257.72,338.76h1v1h-1zM258.12,336.84h1v1h-1zM258.11,336.74h1v1h-1zM258.35,337.01h1v1h-1zM258.17,343.82h1v1h-1zM258.28,342.15h1v1h-1zM258.36,343.31h1v1h-1zM258.22,339.59h1v1h-1zM258.32,337.48h1v1h-1zM258.73,339.15h1v1h-1zM258.83,341.15h1v1h-1zM258.81,340.81h1v1h-1zM258.66,339.7h1v1h-1zM258.63,340.35h1v1h-1zM258.7,340.89h1v1h-1zM258.85,336.51h1v1h-1zM258.63,342.62h1v1h-1zM259.38,339.87h1v1h-1zM259.12,341.93h1v1h-1zM259.1,342.91h1v1h-1zM259.24,340.43h1v1h-1zM259.14,342.65h1v1h-1zM259.32,338.24h1v1h-1zM259.63,334.85h1v1h-1zM259.84,334.17h1v1h-1zM259.74,334.71h1v1h-1zM259.73,334.91h1v1h-1zM259.82,330.64h1v1h-1zM259.81,331.02h1v1h-1zM259.8,334.95h1v1h-1zM260.39,331.65h1v1h-1zM260.29,331.09h1v1h-1zM260.19,330.59h1v1h-1zM260.38,330.57h1v1h-1zM260.28,332.32h1v1h-1zM260.34,331.18h1v1h-1zM260.89,312.04h1v1h-1zM260.75,314.38h1v1h-1zM260.81,313.16h1v1h-1zM260.62,314.14h1v1h-1zM260.81,312.39h1v1h-1zM261.12,301.36h1v1h-1zM261.18,303.47h1v1h-1zM261.12,304.62h1v1h-1zM261.19,305.56h1v1h-1zM261.69,307.4h1v1h-1zM261.78,311.48h1v1h-1zM261.75,312.28h1v1h-1zM261.75,308.07h1v1h-1zM262.25,305.06h1v1h-1zM262.15,305.66h1v1h-1zM262.23,308.07h1v1h-1zM262.13,305.39h1v1h-1zM262.19,303.71h1v1h-1zM262.3,307.88h1v1h-1zM262.24,303.67h1v1h-1zM262.62,308.61h1v1h-1zM262.65,308.88h1v1h-1zM262.78,307.5h1v1h-1zM262.78,306.11h1v1h-1zM262.64,305.08h1v1h-1zM262.87,310.12h1v1h-1zM262.77,305.15h1v1h-1zM263.22,302.49h1v1h-1zM263.11,301.92h1v1h-1zM263.23,298.04h1v1h-1zM263.38,302.34h1v1h-1zM263.64,312.64h1v1h-1zM263.68,313.69h1v1h-1zM263.74,315.03h1v1h-1zM263.73,312.18h1v1h-1zM263.69,314.59h1v1h-1zM263.73,312.53h1v1h-1zM264.13,329.91h1v1h-1zM264.2,326.52h1v1h-1zM264.16,327.86h1v1h-1zM264.29,329.39h1v1h-1zM256.42,319.55h.95v.95h-.95zM257.15,312.13h.95v.95h-.95zM255.85,316.88h.95v.95h-.95zM255.66,320.09h.95v.95h-.95zM256.14,310.94h.95v.95h-.95zM256.79,314.83h.95v.95h-.95zM256.95,314.84h.95v.95h-.95zM256.5,321.13h.95v.95h-.95zM256,309.44h.95v.95h-.95zM255.5,311.32h.95v.95h-.95zM256.87,327.42h.95v.95h-.95zM257.13,318.69h.95v.95h-.95zM255.44,317.47h.95v.95h-.95zM256.98,328.06h.95v.95h-.95zM255.22,325.63h.95v.95h-.95zM256.55,319.29h.95v.95h-.95zM254.94,318.11h.95v.95h-.95zM256.45,312.45h.95v.95h-.95zM257.04,324.11h.95v.95h-.95zM256.67,320.13h.95v.95h-.95zM255.56,328.54h.95v.95h-.95zM256.47,313.17h.95v.95h-.95zM256.49,314.69h.95v.95h-.95zM256.88,329.36h.95v.95h-.95zM255.41,329.21h.95v.95h-.95zM256.02,324.59h.95v.95h-.95zM262.03,302.33h.95v.95h-.95zM261.78,301.69h.95v.95h-.95zM261.18,297.98h.95v.95h-.95zM260.96,287.21h.95v.95h-.95zM263.29,300.68h.95v.95h-.95zM263.43,296.72h.95v.95h-.95zM262.28,298.72h.95v.95h-.95zM261.97,294.01h.95v.95h-.95zM261.96,282.18h.95v.95h-.95zM262.24,287.37h.95v.95h-.95zM263.16,297.88h.95v.95h-.95zM260.92,283.98h.95v.95h-.95zM262.91,292.33h.95v.95h-.95zM261.97,294.47h.95v.95h-.95zM261.3,289.37h.95v.95h-.95zM261.42,295.2h.95v.95h-.95zM263,285.59h.95v.95h-.95zM263,296.9h.95v.95h-.95zM262.64,293.66h.95v.95h-.95zM262.96,300.01h.95v.95h-.95zM263.57,291.11h.95v.95h-.95zM261.96,299.58h.95v.95h-.95zM261.57,287.83h.95v.95h-.95zM263.17,288.19h.95v.95h-.95zM262.84,301.27h.95v.95h-.95zM261.61,299.05h.95v.95h-.95zM262.98,297.82h.95v.95h-.95zM261.91,291.38h.95v.95h-.95zM263.07,290.28h.95v.95h-.95zM263.21,300.77h.95v.95h-.95zM262.59,294.15h.95v.95h-.95zM261.45,285.69h.95v.95h-.95zM262.79,295.35h.95v.95h-.95zM261.93,303.25h.95v.95h-.95zM262.09,293.68h.95v.95h-.95zM263.13,294.53h.95v.95h-.95zM262.82,302.07h.95v.95h-.95zM261.1,299.2h.95v.95h-.95zM261.22,295.48h.95v.95h-.95zM261.33,295.55h.95v.95h-.95zM261.24,295.87h.95v.95h-.95zM261.44,281.99h.95v.95h-.95zM262.51,295.89h.95v.95h-.95zM261.22,290.5h.95v.95h-.95zM261.89,270.72h.95v.95h-.95zM262.04,281.34h.95v.95h-.95zM261.86,274.42h.95v.95h-.95zM261.73,272.73h.95v.95h-.95zM263.35,271.27h.95v.95h-.95zM261.09,271.25h.95v.95h-.95zM262.31,277.41h.95v.95h-.95zM261.41,277.91h.95v.95h-.95zM261.23,274.94h.95v.95h-.95zM262.01,280.53h.95v.95h-.95zM261.92,268.11h.95v.95h-.95zM262.67,268.66h.95v.95h-.95zM263.3,274.04h.95v.95h-.95zM262.85,275.03h.95v.95h-.95zM262.99,276.67h.95v.95h-.95zM260.93,270.26h.95v.95h-.95zM261.01,269.22h.95v.95h-.95zM261.11,274.14h.95v.95h-.95zM262.05,272.27h.95v.95h-.95zM263.12,280.85h.95v.95h-.95zM263.27,279.63h.95v.95h-.95zM262.38,277.9h.95v.95h-.95zM261.4,250.14h1v1h-1zM261.3,263.5h1v1h-1z" fill="#8e8e8e"/>
<path d="M264.6,387.3V346.46h.55V387.3zM265.1,387.3V339.36h.55V387.3zM265.6,387.3V341.3h.55V387.3zM266.1,387.3V327.31h.55V387.3zM266.6,387.3V319.22h.55V387.3zM267.1,387.3V303.21h.55V387.3zM267.6,387.3V309.25h.55V387.3zM268.1,387.3V306.52h.55V387.3zM268.6,387.3V308.8h.55V387.3zM269.1,387.3V303.48h.55V387.3zM269.6,387.3V327.64h.55V387.3zM270.1,387.3V332.56h.55V387.3zM270.6,387.3V333.47h.55V387.3zM271.1,387.3V331.95h.55V387.3zM271.6,387.3V337.19h.55V387.3zM272.1,387.3V334.54h.55V387.3zM272.6,387.3V341.98h.55V387.3zM273.1,387.3V355.66h.55V387.3zM273.6,387.3V358.26h.55V387.3zM274.1,387.3V360.23h.55V387.3zM264.27,341.95h1v1h-1zM264.28,345.1h1v1h-1zM264.24,340.58h1v1h-1zM264.39,338.36h1v1h-1zM264.43,339.21h1v1h-1zM264.36,338.45h1v1h-1zM264.23,345.87h1v1h-1zM264.45,341.64h1v1h-1zM264.23,345.41h1v1h-1zM264.43,338.65h1v1h-1zM264.25,341.35h1v1h-1zM264.79,335.84h1v1h-1zM264.98,336.7h1v1h-1zM264.71,335.07h1v1h-1zM264.96,335.16h1v1h-1zM264.7,333.64h1v1h-1zM264.98,333.95h1v1h-1zM265.46,336.22h1v1h-1zM265.48,334.33h1v1h-1zM265.5,339.33h1v1h-1zM265.23,333.48h1v1h-1zM265.23,333.98h1v1h-1zM265.24,334.72h1v1h-1zM265.37,336.26h1v1h-1zM265.46,335.2h1v1h-1zM265.71,324.42h1v1h-1zM265.93,326.23h1v1h-1zM265.77,323.82h1v1h-1zM265.95,324.57h1v1h-1zM265.79,322.6h1v1h-1zM266.22,315.68h1v1h-1zM266.46,315.22h1v1h-1zM266.26,316.62h1v1h-1zM266.92,299.31h1v1h-1zM266.73,301.19h1v1h-1zM266.76,300.39h1v1h-1zM266.74,300.9h1v1h-1zM266.76,301.83h1v1h-1zM266.91,297.13h1v1h-1zM266.98,297.94h1v1h-1zM267.47,305.11h1v1h-1zM267.48,304.49h1v1h-1zM267.2,308.06h1v1h-1zM267.49,302.99h1v1h-1zM267.37,307.44h1v1h-1zM267.22,308.09h1v1h-1zM267.26,305.85h1v1h-1zM267.45,303.76h1v1h-1zM267.95,302.31h1v1h-1zM267.7,303.7h1v1h-1zM267.83,305.28h1v1h-1zM267.97,305.27h1v1h-1zM267.92,299.83h1v1h-1zM267.89,302.89h1v1h-1zM268.27,307.2h1v1h-1zM268.25,307.28h1v1h-1zM268.47,306.13h1v1h-1zM268.39,305.43h1v1h-1zM268.33,306.13h1v1h-1zM268.37,306.51h1v1h-1zM268.75,300.09h1v1h-1zM268.92,298.11h1v1h-1zM268.96,299.08h1v1h-1zM268.78,302.81h1v1h-1zM268.87,300.76h1v1h-1zM268.71,301.86h1v1h-1zM269.45,327.05h1v1h-1zM269.37,324.79h1v1h-1zM269.44,324.61h1v1h-1zM269.42,324.22h1v1h-1zM269.35,325.49h1v1h-1zM269.42,325.12h1v1h-1zM269.79,331.09h1v1h-1zM269.79,331.73h1v1h-1zM269.76,329.09h1v1h-1zM269.92,330.08h1v1h-1zM269.96,326.84h1v1h-1zM269.76,330.23h1v1h-1zM270.26,331.95h1v1h-1zM270.22,331.23h1v1h-1zM270.32,329.44h1v1h-1zM270.3,332.96h1v1h-1zM270.24,331.88h1v1h-1zM271,329.15h1v1h-1zM270.89,331.29h1v1h-1zM270.73,327.09h1v1h-1zM270.78,328.97h1v1h-1zM270.71,330.72h1v1h-1zM270.71,330.75h1v1h-1zM270.89,327.78h1v1h-1zM271.48,333.93h1v1h-1zM271.34,335.71h1v1h-1zM271.45,336.24h1v1h-1zM271.37,333.94h1v1h-1zM271.3,332.94h1v1h-1zM271.38,335.13h1v1h-1zM271.75,330.44h1v1h-1zM271.86,331.85h1v1h-1zM271.85,333.08h1v1h-1zM271.74,331.77h1v1h-1zM271.97,332.13h1v1h-1zM272.2,338.79h1v1h-1zM272.44,337.77h1v1h-1zM272.31,338.77h1v1h-1zM272.33,337.15h1v1h-1zM272.46,337.47h1v1h-1zM272.23,338.7h1v1h-1zM272.43,340.48h1v1h-1zM272.81,346.72h1v1h-1zM272.82,349.8h1v1h-1zM272.75,346.46h1v1h-1zM272.95,351.66h1v1h-1zM272.74,351.56h1v1h-1zM272.97,349.19h1v1h-1zM273.4,356.78h1v1h-1zM273.47,352.98h1v1h-1zM273.34,353.75h1v1h-1zM273.31,355.87h1v1h-1zM273.5,351.34h1v1h-1zM273.41,351.56h1v1h-1zM273.2,355.94h1v1h-1zM273.73,351.97h1v1h-1zM273.86,352.42h1v1h-1zM273.74,359.17h1v1h-1zM273.71,354.22h1v1h-1zM273.85,358.05h1v1h-1zM273.92,355.62h1v1h-1zM273.8,353.02h1v1h-1zM273.92,352.17h1v1h-1zM267.2,289.77h1.4v1.4h-1.4zM271.85,317.01h1.3v1.3h-1.3zM271.85,319.87h1.3v1.3h-1.3z" fill="#222"/>
<path d="M274.6,387.3V357.11h.55V387.3zM275.1,387.3V356.29h.55V387.3zM275.6,387.3V357.36h.55V387.3zM276.1,387.3V355.32h.55V387.3zM276.6,387.3V354.15h.55V387.3zM277.1,387.3V350.13h.55V387.3zM277.6,387.3V354.91h.55V387.3zM278.1,387.3V348.78h.55V387.3zM278.6,387.3V347.07h.55V387.3zM279.1,387.3V346.93h.55V387.3zM279.6,387.3V349.86h.55V387.3zM280.1,387.3V346.46h.55V387.3zM280.6,387.3V348.7h.55V387.3zM281.1,387.3V346.75h.55V387.3zM281.6,387.3V346.41h.55V387.3zM282.1,387.3V347.03h.55V387.3zM282.6,387.3V349.45h.55V387.3zM274.32,350.79h1v1h-1zM274.26,355.04h1v1h-1zM274.39,355.26h1v1h-1zM274.43,351.96h1v1h-1zM274.36,352.73h1v1h-1zM274.29,354.46h1v1h-1zM274.33,353.4h1v1h-1zM274.72,349.67h1v1h-1zM274.79,353.63h1v1h-1zM274.82,352.18h1v1h-1zM274.86,352.31h1v1h-1zM274.9,355.62h1v1h-1zM274.78,352.56h1v1h-1zM275.25,352.43h1v1h-1zM275.4,355.07h1v1h-1zM275.39,353.18h1v1h-1zM275.4,354.9h1v1h-1zM275.39,353.22h1v1h-1zM275.3,349.74h1v1h-1zM275.47,353.89h1v1h-1zM275.74,347.26h1v1h-1zM275.95,352.35h1v1h-1zM275.79,350.46h1v1h-1zM275.92,354.44h1v1h-1zM275.88,351.06h1v1h-1zM275.76,347.29h1v1h-1zM275.92,349.22h1v1h-1zM275.91,353.83h1v1h-1zM275.71,348.13h1v1h-1zM276.31,346.69h1v1h-1zM276.44,347.31h1v1h-1zM276.32,346.62h1v1h-1zM276.43,349.66h1v1h-1zM276.47,352.99h1v1h-1zM276.37,347.61h1v1h-1zM276.44,352.01h1v1h-1zM276.84,347.27h1v1h-1zM276.89,345.44h1v1h-1zM276.83,348.38h1v1h-1zM276.98,347.33h1v1h-1zM276.72,345.73h1v1h-1zM276.78,349.07h1v1h-1zM277.41,354.22h1v1h-1zM277.33,354.38h1v1h-1zM277.4,353.86h1v1h-1zM277.28,353.01h1v1h-1zM277.28,349.41h1v1h-1zM277.39,352.35h1v1h-1zM277.32,353.67h1v1h-1zM277.27,347.23h1v1h-1zM277.33,348.34h1v1h-1zM277.8,345.34h1v1h-1zM277.84,345.69h1v1h-1zM277.74,345.94h1v1h-1zM277.7,342.73h1v1h-1zM277.88,341.07h1v1h-1zM277.76,339.97h1v1h-1zM277.97,347.02h1v1h-1zM277.9,340.84h1v1h-1zM277.78,342.23h1v1h-1zM277.93,342.94h1v1h-1zM277.86,341.86h1v1h-1zM277.86,347.47h1v1h-1zM278.4,346.16h1v1h-1zM278.4,341.34h1v1h-1zM278.3,342.99h1v1h-1zM278.45,344.66h1v1h-1zM278.24,342.49h1v1h-1zM278.24,341.87h1v1h-1zM278.37,344.59h1v1h-1zM278.32,339.28h1v1h-1zM278.92,341.32h1v1h-1zM278.82,344.42h1v1h-1zM278.73,343.73h1v1h-1zM278.8,344.29h1v1h-1zM278.77,344.82h1v1h-1zM278.8,342.92h1v1h-1zM278.9,345.34h1v1h-1zM279.22,348.26h1v1h-1zM279.3,342.72h1v1h-1zM279.46,348.6h1v1h-1zM279.42,344.16h1v1h-1zM279.21,342.99h1v1h-1zM279.45,348.51h1v1h-1zM279.35,344.58h1v1h-1zM279.37,346.34h1v1h-1zM279.92,345.79h1v1h-1zM279.85,344.62h1v1h-1zM279.84,343.2h1v1h-1zM279.89,342.73h1v1h-1zM279.89,342.26h1v1h-1zM279.79,345.79h1v1h-1zM280.34,342.33h1v1h-1zM280.25,343.59h1v1h-1zM280.44,343.55h1v1h-1zM280.42,342.64h1v1h-1zM280.45,345.91h1v1h-1zM280.94,345.34h1v1h-1zM280.86,345.19h1v1h-1zM280.76,343.73h1v1h-1zM280.84,343.17h1v1h-1zM280.98,340.98h1v1h-1zM280.94,342.73h1v1h-1zM281.41,341.56h1v1h-1zM281.26,344.53h1v1h-1zM281.35,344.64h1v1h-1zM281.38,344.13h1v1h-1zM281.35,343.72h1v1h-1zM281.93,345.59h1v1h-1zM282,345.48h1v1h-1zM281.86,344.04h1v1h-1zM281.78,345.44h1v1h-1zM282.21,343.48h1v1h-1zM282.35,348.53h1v1h-1zM282.32,343.62h1v1h-1zM282.24,340.95h1v1h-1zM282.35,344.91h1v1h-1zM282.27,347.49h1v1h-1zM282.4,342.32h1v1h-1zM282.43,345.82h1v1h-1zM281.8,308.1h1v1h-1zM281.8,313.58h1v1h-1zM280.3,318.83h1v1h-1zM281.5,335.52h1v1h-1zM277.3,336.72h1v1h-1z" fill="#8e8e8e"/>
<path d="M282.9,387.3V317.99h.55V387.3zM283.4,387.3V310.07h.55V387.3zM283.9,387.3V314.01h.55V387.3zM284.4,387.3V316.31h.55V387.3zM284.9,387.3V316.8h.55V387.3zM285.4,387.3V354.82h.55V387.3zM285.9,387.3V359.17h.55V387.3zM286.4,387.3V363.11h.55V387.3zM286.9,387.3V355.74h.55V387.3zM287.4,387.3V326.65h.55V387.3zM287.9,387.3V320.01h.55V387.3zM288.4,387.3V324.56h.55V387.3zM288.9,387.3V324.33h.55V387.3zM289.4,387.3V318.73h.55V387.3zM289.9,387.3V343.92h.55V387.3zM290.4,387.3V367.83h.55V387.3zM290.9,387.3V372.37h.55V387.3zM291.4,387.3V378.86h.55V387.3zM282.63,315.55h1v1h-1zM282.66,316.9h1v1h-1zM282.61,314.01h1v1h-1zM283.16,307.71h1v1h-1zM283.15,306.86h1v1h-1zM283.03,305.93h1v1h-1zM283.08,306.85h1v1h-1zM283.65,312.12h1v1h-1zM283.66,312.25h1v1h-1zM283.74,313.04h1v1h-1zM283.53,308.39h1v1h-1zM283.75,312.8h1v1h-1zM284.12,313.16h1v1h-1zM284.3,314.39h1v1h-1zM284.14,312.72h1v1h-1zM284.01,315.47h1v1h-1zM284.06,315.01h1v1h-1zM284.1,315.61h1v1h-1zM284.25,313.85h1v1h-1zM284.73,315.8h1v1h-1zM284.53,310.47h1v1h-1zM284.68,312.25h1v1h-1zM284.64,313.22h1v1h-1zM284.6,310.24h1v1h-1zM284.55,313.51h1v1h-1zM284.76,316.25h1v1h-1zM285.15,352.91h1v1h-1zM285.28,352.62h1v1h-1zM285.22,353.87h1v1h-1zM285.72,353.37h1v1h-1zM285.78,356.31h1v1h-1zM285.53,354.59h1v1h-1zM285.63,358.61h1v1h-1zM286.24,357.54h1v1h-1zM286.09,358.71h1v1h-1zM286.03,358.04h1v1h-1zM286.23,361.36h1v1h-1zM286.15,356.96h1v1h-1zM286.07,359.33h1v1h-1zM286.25,358.83h1v1h-1zM286.68,353.88h1v1h-1zM286.65,352.53h1v1h-1zM286.68,352.56h1v1h-1zM286.56,354.58h1v1h-1zM286.58,350.28h1v1h-1zM287.28,323.61h1v1h-1zM287.09,321.34h1v1h-1zM287.22,323.02h1v1h-1zM287.05,322.16h1v1h-1zM287.05,321.57h1v1h-1zM287.74,314.18h1v1h-1zM287.69,318.16h1v1h-1zM287.64,319.15h1v1h-1zM287.7,316.4h1v1h-1zM287.59,319.5h1v1h-1zM288.07,323h1v1h-1zM288.07,319.2h1v1h-1zM288.27,319.13h1v1h-1zM288.11,320.58h1v1h-1zM288.19,322.55h1v1h-1zM288.5,322.91h1v1h-1zM288.55,319.31h1v1h-1zM288.72,321.8h1v1h-1zM288.53,320.46h1v1h-1zM289.23,314.49h1v1h-1zM289.19,313.96h1v1h-1zM289.15,318.04h1v1h-1zM289.1,316.22h1v1h-1zM289.08,317.79h1v1h-1zM289.6,342.63h1v1h-1zM289.71,338.48h1v1h-1zM289.75,339.75h1v1h-1zM289.69,340.82h1v1h-1zM289.64,340.43h1v1h-1zM290.29,364.31h1v1h-1zM290.22,365.28h1v1h-1zM290.03,366.52h1v1h-1zM290.12,364.85h1v1h-1zM290.19,361.54h1v1h-1zM290.07,361.7h1v1h-1zM290.12,365.02h1v1h-1zM290.01,362.14h1v1h-1zM290.24,362.08h1v1h-1zM290.53,368.74h1v1h-1zM290.75,370.69h1v1h-1zM290.56,368.04h1v1h-1zM290.63,369.65h1v1h-1zM291.05,377.08h1v1h-1zM291.09,378.24h1v1h-1zM291.3,376.95h1v1h-1zM291.19,375.74h1v1h-1zM283.25,288.29h1.5v1.5h-1.5zM283.25,300.89h1.1v1.1h-1.1zM283.35,304.47h1.1v1.1h-1.1zM285.8,334.33h1v1h-1z" fill="#222"/>
<path d="M293.6,387.3V378.96h.55V387.3zM294.1,387.3V378.88h.55V387.3zM294.6,387.3V378.14h.55V387.3zM295.1,387.3V378.01h.55V387.3zM295.6,387.3V378.01h.55V387.3zM296.1,387.3V377.55h.55V387.3zM296.6,387.3V377.79h.55V387.3zM297.1,387.3V376.92h.55V387.3zM297.6,387.3V376.68h.55V387.3zM298.1,387.3V377.02h.55V387.3zM298.6,387.3V376.63h.55V387.3zM299.1,387.3V375.77h.55V387.3zM299.6,387.3V376.06h.55V387.3zM300.1,387.3V375.43h.55V387.3zM300.6,387.3V375.43h.55V387.3zM301.1,387.3V375.17h.55V387.3zM301.6,387.3V375h.55V387.3zM302.1,387.3V374.45h.55V387.3zM302.6,387.3V375.1h.55V387.3zM303.1,387.3V373.37h.55V387.3zM303.6,387.3V372.93h.55V387.3zM304.1,387.3V373.27h.55V387.3zM304.6,387.3V371.23h.55V387.3zM305.1,387.3V370.9h.55V387.3zM305.6,387.3V370.14h.55V387.3zM306.1,387.3V370.96h.55V387.3zM306.6,387.3V370.54h.55V387.3zM307.1,387.3V371.15h.55V387.3zM307.6,387.3V371.51h.55V387.3zM293.28,370.54h1v1h-1zM293.21,373.03h1v1h-1zM293.22,374.05h1v1h-1zM293.26,371.6h1v1h-1zM293.31,375.5h1v1h-1zM293.22,375.76h1v1h-1zM293.93,370.78h1v1h-1zM293.83,371.21h1v1h-1zM293.72,373.61h1v1h-1zM293.94,370.65h1v1h-1zM293.9,376.61h1v1h-1zM293.77,374.96h1v1h-1zM293.72,377.95h1v1h-1zM293.77,378.16h1v1h-1zM293.88,375.4h1v1h-1zM294.24,374.28h1v1h-1zM294.25,373.66h1v1h-1zM294.31,376.36h1v1h-1zM294.41,375.91h1v1h-1zM294.48,377.53h1v1h-1zM294.5,369.69h1v1h-1zM294.91,370.15h1v1h-1zM294.72,375.03h1v1h-1zM294.85,372.26h1v1h-1zM294.7,372.53h1v1h-1zM294.88,373.46h1v1h-1zM294.81,370.53h1v1h-1zM295.3,372.89h1v1h-1zM295.26,370.28h1v1h-1zM295.43,376.25h1v1h-1zM295.31,372.98h1v1h-1zM295.49,374.85h1v1h-1zM295.39,371.01h1v1h-1zM295.94,372.56h1v1h-1zM295.97,372.53h1v1h-1zM295.79,371.47h1v1h-1zM295.83,375.37h1v1h-1zM295.77,374.09h1v1h-1zM295.92,371.86h1v1h-1zM296.48,375.6h1v1h-1zM296.33,374.42h1v1h-1zM296.34,372.8h1v1h-1zM296.49,372.29h1v1h-1zM296.34,375.08h1v1h-1zM296.7,367.59h1v1h-1zM296.93,373.27h1v1h-1zM296.84,371.63h1v1h-1zM296.79,375.07h1v1h-1zM296.8,366.53h1v1h-1zM296.75,371.57h1v1h-1zM296.91,373.41h1v1h-1zM296.91,368.87h1v1h-1zM297.49,367.88h1v1h-1zM297.35,366.98h1v1h-1zM297.48,375.93h1v1h-1zM297.46,371.32h1v1h-1zM297.25,372.23h1v1h-1zM298,369.42h1v1h-1zM297.95,369.3h1v1h-1zM297.73,372.57h1v1h-1zM297.78,367.47h1v1h-1zM298.43,366.91h1v1h-1zM298.22,368.4h1v1h-1zM298.38,368h1v1h-1zM298.35,372.75h1v1h-1zM298.39,373.36h1v1h-1zM298.36,366.32h1v1h-1zM298.28,374.25h1v1h-1zM298.29,374.67h1v1h-1zM298.9,373.32h1v1h-1zM299,367.37h1v1h-1zM298.83,365.75h1v1h-1zM298.94,365.73h1v1h-1zM299.46,366.63h1v1h-1zM299.46,375.03h1v1h-1zM299.48,369.56h1v1h-1zM299.22,370h1v1h-1zM299.25,366.65h1v1h-1zM299.4,372.21h1v1h-1zM299.96,372.54h1v1h-1zM299.8,371.42h1v1h-1zM299.81,369.57h1v1h-1zM299.71,370.58h1v1h-1zM299.98,366.05h1v1h-1zM299.9,370.79h1v1h-1zM299.84,371.22h1v1h-1zM300.23,368.68h1v1h-1zM300.45,368.07h1v1h-1zM300.4,365.43h1v1h-1zM300.24,368.79h1v1h-1zM300.47,363.18h1v1h-1zM300.43,372.36h1v1h-1zM300.28,364.7h1v1h-1zM300.29,367.94h1v1h-1zM300.31,370.62h1v1h-1zM300.82,365.93h1v1h-1zM300.81,370.68h1v1h-1zM300.88,365.5h1v1h-1zM300.97,364.8h1v1h-1zM300.76,368.51h1v1h-1zM301.35,373.72h1v1h-1zM301.37,369.14h1v1h-1zM301.43,363.29h1v1h-1zM301.36,368.51h1v1h-1zM301.4,371.42h1v1h-1zM301.35,370.5h1v1h-1zM301.25,371.35h1v1h-1zM301.28,373.82h1v1h-1zM301.39,364.01h1v1h-1zM301.95,363.96h1v1h-1zM301.81,367.78h1v1h-1zM301.77,373.49h1v1h-1zM301.9,367.69h1v1h-1zM301.97,371.52h1v1h-1zM302.29,368.1h1v1h-1zM302.49,364.76h1v1h-1zM302.39,364.99h1v1h-1zM302.24,368.4h1v1h-1zM302.25,373.72h1v1h-1zM302.31,368.77h1v1h-1zM302.27,372.24h1v1h-1zM302.38,373.16h1v1h-1zM302.79,372.36h1v1h-1zM302.82,363.61h1v1h-1zM302.75,369.13h1v1h-1zM302.85,366.16h1v1h-1zM302.85,361.56h1v1h-1zM302.85,366.38h1v1h-1zM302.85,372.39h1v1h-1zM302.78,365.2h1v1h-1zM303.2,367.92h1v1h-1zM303.43,363.31h1v1h-1zM303.38,367.12h1v1h-1zM303.45,366.2h1v1h-1zM303.35,371.5h1v1h-1zM303.48,367.46h1v1h-1zM303.28,368.61h1v1h-1zM303.49,362.94h1v1h-1zM303.2,368.96h1v1h-1zM303.99,369.88h1v1h-1zM303.89,363.97h1v1h-1zM303.82,361.16h1v1h-1zM303.71,370.07h1v1h-1zM303.94,369.17h1v1h-1zM303.78,369.79h1v1h-1zM304.27,362.83h1v1h-1zM304.31,361.83h1v1h-1zM304.24,368.55h1v1h-1zM304.47,360.38h1v1h-1zM304.37,365.3h1v1h-1zM304.92,369.04h1v1h-1zM304.87,362.78h1v1h-1zM304.88,361.27h1v1h-1zM304.71,366.87h1v1h-1zM304.84,363.92h1v1h-1zM304.76,368.55h1v1h-1zM304.83,363.62h1v1h-1zM304.88,358.67h1v1h-1zM305.27,368.92h1v1h-1zM305.32,367.32h1v1h-1zM305.49,361.6h1v1h-1zM305.28,368.58h1v1h-1zM305.43,368.81h1v1h-1zM305.3,361.17h1v1h-1zM305.97,359.09h1v1h-1zM305.71,359.38h1v1h-1zM305.77,363.36h1v1h-1zM305.97,359.71h1v1h-1zM305.7,367.96h1v1h-1zM305.79,369.57h1v1h-1zM305.78,364.73h1v1h-1zM305.73,364.06h1v1h-1zM305.73,360.69h1v1h-1zM305.76,367.64h1v1h-1zM306.27,362.29h1v1h-1zM306.45,369.14h1v1h-1zM306.47,359.46h1v1h-1zM306.43,360.99h1v1h-1zM306.3,369.42h1v1h-1zM306.31,363.82h1v1h-1zM306.9,367.32h1v1h-1zM306.96,359.99h1v1h-1zM306.97,362.86h1v1h-1zM306.71,368.11h1v1h-1zM306.93,365.97h1v1h-1zM306.71,362.04h1v1h-1zM306.95,370.33h1v1h-1zM306.93,360.95h1v1h-1zM306.94,367.08h1v1h-1zM306.75,369.07h1v1h-1zM306.9,364.78h1v1h-1zM307.36,370.49h1v1h-1zM307.27,360.68h1v1h-1zM307.4,368h1v1h-1zM307.4,366.41h1v1h-1zM307.34,362.41h1v1h-1zM307.47,361h1v1h-1zM307.31,366.87h1v1h-1zM307.31,366.07h1v1h-1zM303.1,322.88h1v1h-1zM293.7,325.74h1v1h-1zM302.4,354.13h1v1h-1zM304.7,354.13h1v1h-1zM294.9,358.66h1v1h-1z" fill="#9a9a9a"/>
<path d="M187.42,367.59h.8v.8h-.8zM182.4,375.85h.8v.8h-.8zM182.92,371.52h.8v.8h-.8zM188.57,366.62h.8v.8h-.8zM189.36,377.04h.8v.8h-.8zM192.02,379.48h.8v.8h-.8zM184.04,369.22h.8v.8h-.8zM188.55,373.23h.8v.8h-.8zM188.91,372.21h.8v.8h-.8zM185.23,374.51h.8v.8h-.8zM186.39,377.94h.8v.8h-.8zM189.24,376.93h.8v.8h-.8zM187.9,364.26h.8v.8h-.8zM190.23,366.09h.8v.8h-.8zM183.95,366.3h.8v.8h-.8zM182.23,375.97h.8v.8h-.8zM184.85,368.42h.8v.8h-.8zM191.92,376.19h.8v.8h-.8zM187.09,374.95h.8v.8h-.8zM189.34,379.57h.8v.8h-.8zM191.16,374.73h.8v.8h-.8zM183.88,365.96h.8v.8h-.8zM189.39,366.59h.8v.8h-.8zM190.89,372.17h.8v.8h-.8zM186.4,366.51h.8v.8h-.8zM187.04,375.67h.8v.8h-.8zM188.24,372.44h.8v.8h-.8zM189.72,365.19h.8v.8h-.8zM190.03,378.6h.8v.8h-.8zM187.62,372.29h.8v.8h-.8zM182.56,374.93h.8v.8h-.8zM182.17,367.96h.8v.8h-.8zM184.23,376.78h.8v.8h-.8zM190.76,375.26h.8v.8h-.8zM188.96,368.67h.8v.8h-.8zM188.44,378.46h.8v.8h-.8zM184.26,366h.8v.8h-.8zM185.99,374.71h.8v.8h-.8zM187.06,379.16h.8v.8h-.8zM189.21,366.84h.8v.8h-.8zM191.77,374.47h.8v.8h-.8zM189,364.09h.8v.8h-.8zM190.7,372.04h.8v.8h-.8zM191.65,370.68h.8v.8h-.8zM187.74,370.14h.8v.8h-.8zM183.96,373.21h.8v.8h-.8zM187.14,366.61h.8v.8h-.8zM187.71,373.97h.8v.8h-.8zM191.81,378.43h.8v.8h-.8zM183.87,373.92h.8v.8h-.8zM191.9,371.95h.8v.8h-.8zM186.11,366h.8v.8h-.8zM184.41,366.38h.8v.8h-.8zM182.86,369.83h.8v.8h-.8zM191.5,369.67h.8v.8h-.8zM296.56,379.51h.8v.8h-.8zM304.76,378.57h.8v.8h-.8zM306.58,375.64h.8v.8h-.8zM294.46,370.28h.8v.8h-.8zM303.78,371.33h.8v.8h-.8zM293.15,376.7h.8v.8h-.8zM300.16,366.96h.8v.8h-.8zM294.38,375.61h.8v.8h-.8zM298.12,372.13h.8v.8h-.8zM299.6,377.62h.8v.8h-.8zM300.06,373.6h.8v.8h-.8zM293.59,377.6h.8v.8h-.8zM296.69,378.36h.8v.8h-.8zM298.21,378.39h.8v.8h-.8zM298.36,371.08h.8v.8h-.8zM296.41,366.28h.8v.8h-.8zM294.14,378.05h.8v.8h-.8zM303.6,371.63h.8v.8h-.8zM297.46,378.25h.8v.8h-.8zM303.43,376.59h.8v.8h-.8zM304.76,367.08h.8v.8h-.8zM295.21,371.27h.8v.8h-.8zM296.4,373.21h.8v.8h-.8zM306.07,371.97h.8v.8h-.8zM305.79,377.25h.8v.8h-.8zM297.16,373.63h.8v.8h-.8zM298.25,373.95h.8v.8h-.8zM296.7,379.6h.8v.8h-.8zM301.88,381.31h.8v.8h-.8zM296.36,381.71h.8v.8h-.8zM303.07,380.5h.8v.8h-.8zM297,368h.8v.8h-.8zM300.61,374.97h.8v.8h-.8zM297.79,374.08h.8v.8h-.8zM304.34,376.87h.8v.8h-.8zM295.01,380.04h.8v.8h-.8zM303.23,374.77h.8v.8h-.8zM306.58,379.38h.8v.8h-.8zM303.42,376.35h.8v.8h-.8zM297.12,370.49h.8v.8h-.8zM297.68,379.37h.8v.8h-.8zM299.55,375.71h.8v.8h-.8zM294.23,365.7h.8v.8h-.8zM298.82,376.83h.8v.8h-.8zM294.86,380.69h.8v.8h-.8zM295.68,382.05h.8v.8h-.8zM301.01,371.76h.8v.8h-.8zM305.42,378.64h.8v.8h-.8zM304.74,369.95h.8v.8h-.8zM293.85,379.79h.8v.8h-.8zM295.94,367.75h.8v.8h-.8zM303.9,382.19h.8v.8h-.8zM296.54,380.42h.8v.8h-.8zM302.16,375.65h.8v.8h-.8zM306.78,368.34h.8v.8h-.8zM297.17,378.45h.8v.8h-.8zM300.32,376.06h.8v.8h-.8zM304.6,379.88h.8v.8h-.8zM305.66,372.79h.8v.8h-.8zM298.75,366.02h.8v.8h-.8zM298.09,369.53h.8v.8h-.8zM307.07,367.36h.8v.8h-.8zM307.35,375.4h.8v.8h-.8zM304.31,368.4h.8v.8h-.8zM297.35,375.22h.8v.8h-.8zM306.44,369.34h.8v.8h-.8zM297.46,369.48h.8v.8h-.8zM294.7,376.28h.8v.8h-.8zM301.37,377.83h.8v.8h-.8zM293.15,373.05h.8v.8h-.8zM58.28,368.66h.8v.8h-.8zM55.6,374.3h.8v.8h-.8zM54.87,369.79h.8v.8h-.8zM54.82,373.03h.8v.8h-.8zM57.59,371.39h.8v.8h-.8zM68.77,370.67h.8v.8h-.8zM67.25,366.55h.8v.8h-.8zM64.36,359.58h.8v.8h-.8zM70.99,358.79h.8v.8h-.8zM64.86,372.24h.8v.8h-.8zM68.87,359.69h.8v.8h-.8zM94.08,369.05h.8v.8h-.8zM98.66,366h.8v.8h-.8zM96.52,364.11h.8v.8h-.8zM95.81,362.81h.8v.8h-.8zM96.17,363.79h.8v.8h-.8zM90.71,366.85h.8v.8h-.8zM126.22,366.78h.8v.8h-.8zM125.37,366.26h.8v.8h-.8zM126.33,371.68h.8v.8h-.8zM136.16,375.37h.8v.8h-.8zM137.34,365.73h.8v.8h-.8zM135.98,373.95h.8v.8h-.8zM154.59,367.76h.8v.8h-.8zM156.44,371.93h.8v.8h-.8zM156.91,369.59h.8v.8h-.8zM233.59,373.01h.8v.8h-.8zM233.42,376.96h.8v.8h-.8zM231.76,365.82h.8v.8h-.8zM232.76,373.18h.8v.8h-.8zM235.52,373.66h.8v.8h-.8zM245.92,369.06h.8v.8h-.8zM247,371.17h.8v.8h-.8zM246.64,376.15h.8v.8h-.8zM246.37,370.04h.8v.8h-.8zM34.65,361.48h.8v.8h-.8zM35.15,350.69h.8v.8h-.8zM35.65,364.99h.8v.8h-.8zM36.15,360.88h.8v.8h-.8zM36.65,357.53h.8v.8h-.8zM37.15,360.94h.8v.8h-.8zM38.15,362.65h.8v.8h-.8zM38.15,365.27h.8v.8h-.8zM38.65,366.39h.8v.8h-.8zM39.15,365.63h.8v.8h-.8zM39.15,360.05h.8v.8h-.8zM39.65,365.61h.8v.8h-.8zM39.65,358.12h.8v.8h-.8zM39.65,357.13h.8v.8h-.8zM40.65,352.97h.8v.8h-.8zM40.65,353.58h.8v.8h-.8zM41.15,357.52h.8v.8h-.8zM43.15,370.27h.8v.8h-.8zM43.15,364.94h.8v.8h-.8zM44.65,353.41h.8v.8h-.8zM45.15,362.91h.8v.8h-.8zM45.15,351.78h.8v.8h-.8zM49.65,356.72h.8v.8h-.8zM50.15,341.98h.8v.8h-.8zM50.15,344.35h.8v.8h-.8zM51.15,343.06h.8v.8h-.8zM51.65,348.1h.8v.8h-.8zM51.65,348.29h.8v.8h-.8zM52.15,361.62h.8v.8h-.8zM52.65,360.33h.8v.8h-.8zM52.65,367.42h.8v.8h-.8zM53.65,367.15h.8v.8h-.8zM58.45,367.69h.8v.8h-.8zM58.95,371.22h.8v.8h-.8zM59.45,364.25h.8v.8h-.8zM60.45,364.5h.8v.8h-.8zM60.95,359.63h.8v.8h-.8zM61.95,343.06h.8v.8h-.8zM61.95,350.76h.8v.8h-.8zM64.45,366.9h.8v.8h-.8zM65.45,369.22h.8v.8h-.8zM66.45,361.32h.8v.8h-.8zM66.95,362.12h.8v.8h-.8zM67.45,367.34h.8v.8h-.8zM71.45,355.94h.8v.8h-.8zM71.45,355.75h.8v.8h-.8zM71.45,362.6h.8v.8h-.8zM77.05,356.89h.8v.8h-.8zM77.55,355.94h.8v.8h-.8zM79.05,363.5h.8v.8h-.8zM80.05,370.35h.8v.8h-.8zM83.55,362.34h.8v.8h-.8zM84.05,366.41h.8v.8h-.8zM85.05,367.34h.8v.8h-.8zM85.05,364.83h.8v.8h-.8zM85.05,366.33h.8v.8h-.8zM86.05,369.35h.8v.8h-.8zM87.55,363.46h.8v.8h-.8zM89.05,362.75h.8v.8h-.8zM92.95,355.16h.8v.8h-.8zM92.95,357.19h.8v.8h-.8zM92.95,353.15h.8v.8h-.8zM93.95,369.47h.8v.8h-.8zM93.95,366.14h.8v.8h-.8zM94.95,364.02h.8v.8h-.8zM94.95,367.76h.8v.8h-.8zM95.95,364.45h.8v.8h-.8zM97.95,352.83h.8v.8h-.8zM98.45,349.6h.8v.8h-.8zM98.45,357h.8v.8h-.8zM99.45,361.33h.8v.8h-.8zM99.45,358.97h.8v.8h-.8zM100.95,359.37h.8v.8h-.8zM100.95,366.02h.8v.8h-.8zM101.45,348.71h.8v.8h-.8zM101.95,342.46h.8v.8h-.8zM102.95,347.37h.8v.8h-.8zM105.45,347.82h.8v.8h-.8zM106.45,353.03h.8v.8h-.8zM108.55,347.37h.8v.8h-.8zM108.55,357.94h.8v.8h-.8zM109.05,361.89h.8v.8h-.8zM109.55,366.07h.8v.8h-.8zM110.05,362.19h.8v.8h-.8zM114.05,363.6h.8v.8h-.8zM114.55,369.85h.8v.8h-.8zM115.55,362.79h.8v.8h-.8zM115.55,355.38h.8v.8h-.8zM116.05,352.8h.8v.8h-.8zM121.05,348.82h.8v.8h-.8zM122.05,359.53h.8v.8h-.8zM124.85,365.86h.8v.8h-.8zM125.85,362.65h.8v.8h-.8zM126.35,349.28h.8v.8h-.8zM129.35,361.41h.8v.8h-.8zM129.85,354.43h.8v.8h-.8zM130.85,361.95h.8v.8h-.8zM130.85,357.27h.8v.8h-.8zM135.35,357.25h.8v.8h-.8zM136.35,367.54h.8v.8h-.8zM136.85,370.04h.8v.8h-.8zM137.85,367.9h.8v.8h-.8zM139.35,366.52h.8v.8h-.8zM140.85,352.85h.8v.8h-.8zM141.35,353.95h.8v.8h-.8zM141.85,362.92h.8v.8h-.8zM142.85,358.66h.8v.8h-.8zM143.35,356.93h.8v.8h-.8zM144.85,369h.8v.8h-.8zM145.85,370.76h.8v.8h-.8zM148.35,362.19h.8v.8h-.8zM148.35,365.17h.8v.8h-.8zM149.35,368.54h.8v.8h-.8zM149.35,363.32h.8v.8h-.8zM149.35,362.24h.8v.8h-.8zM149.85,360.61h.8v.8h-.8zM150.35,354.74h.8v.8h-.8zM151.35,363.07h.8v.8h-.8zM151.85,366.71h.8v.8h-.8zM154.15,369.38h.8v.8h-.8zM156.15,357.7h.8v.8h-.8zM157.15,360.52h.8v.8h-.8zM157.65,357.81h.8v.8h-.8zM157.65,355.55h.8v.8h-.8zM158.15,360.56h.8v.8h-.8zM158.15,354.18h.8v.8h-.8zM158.65,350.12h.8v.8h-.8zM164.15,363.18h.8v.8h-.8zM164.65,359.89h.8v.8h-.8zM165.15,368.15h.8v.8h-.8zM165.15,360.23h.8v.8h-.8zM170.65,370.15h.8v.8h-.8zM171.65,366.83h.8v.8h-.8zM171.65,366.77h.8v.8h-.8zM173.15,367.22h.8v.8h-.8zM173.65,362.26h.8v.8h-.8zM173.65,366.83h.8v.8h-.8zM174.15,350.99h.8v.8h-.8zM174.15,348.99h.8v.8h-.8zM178.65,349.92h.8v.8h-.8zM178.65,348.79h.8v.8h-.8zM179.15,362.27h.8v.8h-.8zM181.75,364.04h.8v.8h-.8zM185.75,363.19h.8v.8h-.8zM188.75,362.18h.8v.8h-.8zM189.25,362.62h.8v.8h-.8zM192.65,363.18h.8v.8h-.8zM193.65,362.73h.8v.8h-.8zM194.65,357.56h.8v.8h-.8zM196.15,356.04h.8v.8h-.8zM196.65,356.36h.8v.8h-.8zM197.15,354.94h.8v.8h-.8zM197.15,353.55h.8v.8h-.8zM200.15,348.37h.8v.8h-.8zM201.65,353.59h.8v.8h-.8zM201.65,350.36h.8v.8h-.8zM202.15,366.15h.8v.8h-.8zM202.65,367.18h.8v.8h-.8zM204.65,369.79h.8v.8h-.8zM211.95,360.45h.8v.8h-.8zM212.45,357.54h.8v.8h-.8zM212.45,366.93h.8v.8h-.8zM212.45,363.82h.8v.8h-.8zM212.95,360.05h.8v.8h-.8zM213.45,361.59h.8v.8h-.8zM213.95,368.83h.8v.8h-.8zM214.45,361.52h.8v.8h-.8zM214.95,354.47h.8v.8h-.8zM215.45,352.35h.8v.8h-.8zM215.95,365.76h.8v.8h-.8zM216.95,366.49h.8v.8h-.8zM216.95,368.24h.8v.8h-.8zM217.75,370.95h.8v.8h-.8zM227.25,353.58h.8v.8h-.8zM228.75,359.77h.8v.8h-.8zM231.75,363.05h.8v.8h-.8zM236.35,361h.8v.8h-.8zM237.85,352.99h.8v.8h-.8zM238.35,356.98h.8v.8h-.8zM239.85,366.07h.8v.8h-.8zM242.35,370.97h.8v.8h-.8zM242.35,365.4h.8v.8h-.8zM242.35,369.42h.8v.8h-.8zM242.55,360.89h.8v.8h-.8zM243.55,362.78h.8v.8h-.8zM245.05,357.12h.8v.8h-.8zM245.55,367.44h.8v.8h-.8zM249.05,369.98h.8v.8h-.8zM249.55,367.07h.8v.8h-.8zM250.05,357.83h.8v.8h-.8zM251.05,357.03h.8v.8h-.8zM251.55,354h.8v.8h-.8zM252.55,361.42h.8v.8h-.8zM252.55,356.18h.8v.8h-.8zM254.35,355.9h.8v.8h-.8zM254.35,352.96h.8v.8h-.8zM255.85,345.42h.8v.8h-.8zM256.35,350.22h.8v.8h-.8zM256.35,346.03h.8v.8h-.8zM258.35,347.09h.8v.8h-.8zM258.35,353.79h.8v.8h-.8zM258.35,353.31h.8v.8h-.8zM258.85,349.55h.8v.8h-.8zM259.35,344.3h.8v.8h-.8zM264.95,342.41h.8v.8h-.8zM264.95,343.56h.8v.8h-.8zM272.95,362.43h.8v.8h-.8zM274.95,365.38h.8v.8h-.8zM275.45,366.23h.8v.8h-.8zM275.95,365.13h.8v.8h-.8zM276.95,350.84h.8v.8h-.8zM277.45,359.17h.8v.8h-.8zM277.45,366.48h.8v.8h-.8zM278.45,349.05h.8v.8h-.8zM278.95,346.58h.8v.8h-.8zM279.95,356.58h.8v.8h-.8zM282.45,354.6h.8v.8h-.8zM286.75,360.72h.8v.8h-.8z" fill="#fff"/>
<g font-size="7.2" text-anchor="middle">
<text x="46.2" y="397.3">1</text>
<text x="65.1" y="397.3">2</text>
<text x="82.2" y="397.3">3</text>
<text x="98.6" y="397.3">4</text>
<text x="115" y="397.3">5</text>
<text x="130.8" y="397.3">6</text>
<text x="145.6" y="397.3">7</text>
<text x="159.8" y="397.3">8</text>
<text x="173.3" y="397.3">9</text>
<text x="187.1" y="397.3">10</text>
<text x="199.7" y="397.3">11</text>
<text x="212.4" y="397.3">12</text>
<text x="225" y="397.3">13</text>
<text x="237.6" y="397.3">14</text>
<text x="249.6" y="397.3">15</text>
<text x="259.7" y="397.3">16</text>
<text x="269.2" y="397.3">17</text>
<text x="279" y="397.3">18</text>
<text x="287.8" y="397.3">19</text>
<text x="299.4" y="397.3">20</text>
</g>
<text x="171.4" y="410.6" font-size="8.5" font-weight="bold" text-anchor="middle">Chromosome</text>
</g>
<g id="panelC">
<text x="20.2" y="438" font-size="11" font-weight="bold">C</text>
<text transform="translate(40.5,501.8) rotate(-90)" font-size="8.4" font-weight="bold" text-anchor="middle" textLength="138.8" lengthAdjust="spacingAndGlyphs">Fold Change in MIP-1β Production</text>
<path d="M61.3,434.3V568.5H130.8" stroke="#000" stroke-width="0.7" fill="none"/>
<text x="52.9" y="571.1" font-size="7.3" text-anchor="end">0</text>
<text x="52.9" y="537.55" font-size="7.3" text-anchor="end">1</text>
<text x="52.9" y="504" font-size="7.3" text-anchor="end">2</text>
<text x="52.9" y="470.45" font-size="7.3" text-anchor="end">3</text>
<text x="52.9" y="436.9" font-size="7.3" text-anchor="end">4</text>
<path d="M61.3,568.5h-3.2M61.3,534.95h-3.2M61.3,501.4h-3.2M61.3,467.85h-3.2M61.3,434.3h-3.2M81.2,568.5v3.1M110.7,568.5v3.1" stroke="#000" stroke-width="0.7" fill="none"/>
<path d="M72.4,568.5V497.7H90.6V568.5M101.5,568.5V485.2H119.7V568.5" stroke="#000" stroke-width="0.7" fill="none"/>
<path d="M81.6,496.4V499.2M78.6,496.4h6M78.6,499.2h6M110.5,480.5V489.4M105.6,480.5h9.8M105.6,489.4h9.8" stroke="#222" stroke-width="0.7" fill="none"/>
<g fill="#000"><circle cx="82.88" cy="469.93" r="1.2"/><circle cx="79.83" cy="471.26" r="1.2"/><circle cx="78.25" cy="475.89" r="1.2"/><circle cx="84.6" cy="475.63" r="1.2"/><circle cx="81.29" cy="477.62" r="1.2"/><circle cx="74.01" cy="479.21" r="1.2"/><circle cx="88.84" cy="477.88" r="1.2"/><circle cx="76.66" cy="480.53" r="1.2"/><circle cx="79.83" cy="480.79" r="1.2"/><circle cx="82.88" cy="480.53" r="1.2"/><circle cx="86.19" cy="479.87" r="1.2"/><circle cx="75.33" cy="482.52" r="1.2"/><circle cx="78.25" cy="481.85" r="1.2"/><circle cx="84.6" cy="482.52" r="1.2"/><circle cx="87.52" cy="481.85" r="1.2"/><circle cx="74.01" cy="484.77" r="1.2"/><circle cx="76.66" cy="484.5" r="1.2"/><circle cx="81.56" cy="484.24" r="1.2"/><circle cx="88.84" cy="485.83" r="1.2"/><circle cx="75.33" cy="486.49" r="1.2"/><circle cx="78.25" cy="487.81" r="1.2"/><circle cx="84.6" cy="487.15" r="1.2"/><circle cx="76.92" cy="488.48" r="1.2"/><circle cx="79.83" cy="488.48" r="1.2"/><circle cx="82.88" cy="488.21" r="1.2"/><circle cx="86.19" cy="488.08" r="1.2"/><circle cx="79.83" cy="490.2" r="1.2"/><circle cx="82.88" cy="491.13" r="1.2"/><circle cx="76.66" cy="492.85" r="1.2"/><circle cx="79.83" cy="492.45" r="1.2"/><circle cx="86.19" cy="492.45" r="1.2"/><circle cx="78.25" cy="494.44" r="1.2"/><circle cx="81.29" cy="494.17" r="1.2"/><circle cx="84.6" cy="494.7" r="1.2"/><circle cx="87.52" cy="495.5" r="1.2"/><circle cx="75.33" cy="496.42" r="1.2"/><circle cx="79.83" cy="496.42" r="1.2"/><circle cx="82.88" cy="496.03" r="1.2"/><circle cx="88.84" cy="495.5" r="1.2"/><circle cx="74.01" cy="498.41" r="1.2"/><circle cx="76.66" cy="498.01" r="1.2"/><circle cx="78.25" cy="498.68" r="1.2"/><circle cx="81.29" cy="498.15" r="1.2"/><circle cx="84.6" cy="498.41" r="1.2"/><circle cx="87.52" cy="498.41" r="1.2"/><circle cx="78.25" cy="499.34" r="1.2"/><circle cx="82.88" cy="499.74" r="1.2"/><circle cx="81.56" cy="501.72" r="1.2"/><circle cx="83.15" cy="501.19" r="1.2"/><circle cx="75.33" cy="503.71" r="1.2"/><circle cx="78.25" cy="504.37" r="1.2"/><circle cx="87.52" cy="503.71" r="1.2"/><circle cx="76.92" cy="505.03" r="1.2"/><circle cx="79.83" cy="505.7" r="1.2"/><circle cx="82.88" cy="505.03" r="1.2"/><circle cx="84.6" cy="506.09" r="1.2"/><circle cx="81.29" cy="507.02" r="1.2"/><circle cx="74.01" cy="510.07" r="1.2"/><circle cx="76.92" cy="510.73" r="1.2"/><circle cx="79.83" cy="510.99" r="1.2"/><circle cx="82.88" cy="511.39" r="1.2"/><circle cx="86.19" cy="510.73" r="1.2"/><circle cx="88.84" cy="510.33" r="1.2"/><circle cx="81.29" cy="508.74" r="1.2"/><circle cx="78.25" cy="514.04" r="1.2"/><circle cx="84.6" cy="513.64" r="1.2"/><circle cx="81.29" cy="516.29" r="1.2"/><circle cx="84.6" cy="515.63" r="1.2"/><circle cx="79.83" cy="523.97" r="1.2"/><circle cx="82.88" cy="524.9" r="1.2"/><circle cx="76.92" cy="528.48" r="1.2"/><circle cx="85.93" cy="527.95" r="1.2"/><circle cx="79.83" cy="529.93" r="1.2"/><circle cx="82.88" cy="529.93" r="1.2"/><circle cx="86.19" cy="485.17" r="1.2"/><circle cx="79.57" cy="486.23" r="1.2"/><circle cx="86.19" cy="490.46" r="1.2"/><circle cx="74.93" cy="493.77" r="1.2"/><circle cx="89.5" cy="497.75" r="1.2"/><circle cx="72.95" cy="497.48" r="1.2"/><circle cx="79.83" cy="500.13" r="1.2"/><circle cx="86.19" cy="499.74" r="1.2"/><circle cx="84.6" cy="502.12" r="1.2"/><circle cx="79.57" cy="502.65" r="1.2"/></g>
<path d="M108.25,457.41h2.1v2.1h-2.1zM111.35,458.08h2.1v2.1h-2.1zM109.65,467.29h2.1v2.1h-2.1zM105.27,480.14h2.1v2.1h-2.1zM107.66,482.13h2.1v2.1h-2.1zM110.31,482.79h2.1v2.1h-2.1zM114.28,482.13h2.1v2.1h-2.1zM108.98,483.72h2.1v2.1h-2.1zM106.33,488.75h2.1v2.1h-2.1zM108.32,490.74h2.1v2.1h-2.1zM112.96,490.08h2.1v2.1h-2.1zM109.91,490.47h2.1v2.1h-2.1zM111.23,493.78h2.1v2.1h-2.1zM111.23,500.01h2.1v2.1h-2.1zM108.06,502h2.1v2.1h-2.1z" fill="#000"/>
<text x="110.6" y="443.3" font-size="8" font-weight="bold" text-anchor="middle">**</text>
<text x="81.2" y="580.3" font-size="7" font-weight="bold" text-anchor="middle">GG</text>
<text x="110.6" y="580.3" font-size="7" font-weight="bold" text-anchor="middle">TT</text>
<text x="95.3" y="592.4" font-size="8.2" font-weight="bold" text-anchor="middle" textLength="87.5" lengthAdjust="spacingAndGlyphs">rs48685261 Genotype</text>
</g>
<g id="panelD">
<text x="178" y="438" font-size="11" font-weight="bold">D</text>
<text transform="translate(197.8,504) rotate(-90)" font-size="8.4" font-weight="bold" text-anchor="middle" textLength="139.6" lengthAdjust="spacingAndGlyphs">Fold Change in MIP-1β production</text>
<path d="M217.6,433.4V570.6H237.2M247.2,570.6H423.6M237.2,567.4v6.6M247.2,567.4v6.6" stroke="#000" stroke-width="0.7" fill="none"/>
<text x="210.6" y="573.2" font-size="7.3" text-anchor="end">0</text>
<text x="210.6" y="538.9" font-size="7.3" text-anchor="end">1</text>
<text x="210.6" y="504.6" font-size="7.3" text-anchor="end">2</text>
<text x="210.6" y="470.3" font-size="7.3" text-anchor="end">3</text>
<text x="210.6" y="436" font-size="7.3" text-anchor="end">4</text>
<text x="217.6" y="581" font-size="7.5" text-anchor="middle">0</text>
<text x="246.9" y="581" font-size="7.5" text-anchor="middle">0.8</text>
<text x="290.9" y="581" font-size="7.5" text-anchor="middle">0.9</text>
<text x="335.1" y="581" font-size="7.5" text-anchor="middle">1.0</text>
<text x="379.3" y="581" font-size="7.5" text-anchor="middle">1.1</text>
<text x="423.5" y="581" font-size="7.5" text-anchor="middle">1.2</text>
<path d="M217.6,570.6h-3.2M217.6,536.3h-3.2M217.6,502h-3.2M217.6,467.7h-3.2M217.6,433.4h-3.2M217.6,570.6v3.2M290.9,570.6v3.2M335.1,570.6v3.2M379.3,570.6v3.2M423.5,570.6v3.2" stroke="#000" stroke-width="0.7" fill="none"/>
<g fill="#808080"><circle cx="263.5" cy="457.9" r="2.7"/><circle cx="328.3" cy="457.9" r="2.7"/><circle cx="342.5" cy="466.5" r="2.7"/><circle cx="335.5" cy="470.3" r="2.7"/><circle cx="322.9" cy="470.3" r="2.7"/><circle cx="320.4" cy="474.4" r="2.7"/><circle cx="307.1" cy="475.6" r="2.7"/><circle cx="317.2" cy="477.2" r="2.7"/><circle cx="338.7" cy="477.2" r="2.7"/><circle cx="362.4" cy="478.8" r="2.7"/><circle cx="393.9" cy="478.2" r="2.7"/><circle cx="357.6" cy="481.3" r="2.7"/><circle cx="303.3" cy="481.9" r="2.7"/><circle cx="316.6" cy="481.3" r="2.7"/><circle cx="348.1" cy="482.3" r="2.7"/><circle cx="371.8" cy="482.3" r="2.7"/><circle cx="308" cy="484.5" r="2.7"/><circle cx="333.9" cy="482.9" r="2.7"/><circle cx="350.7" cy="483.8" r="2.7"/><circle cx="322.9" cy="485.4" r="2.7"/><circle cx="327" cy="485.4" r="2.7"/><circle cx="330.2" cy="486" r="2.7"/><circle cx="339.6" cy="487" r="2.7"/><circle cx="320.7" cy="487.6" r="2.7"/><circle cx="287.5" cy="488.6" r="2.7"/><circle cx="325.1" cy="488.6" r="2.7"/><circle cx="318.2" cy="490.2" r="2.7"/><circle cx="340.9" cy="490.2" r="2.7"/><circle cx="348.8" cy="490.2" r="2.7"/><circle cx="366.1" cy="490.2" r="2.7"/><circle cx="328.3" cy="491.7" r="2.7"/><circle cx="310.3" cy="493" r="2.7"/><circle cx="333.3" cy="493" r="2.7"/><circle cx="341.8" cy="493" r="2.7"/><circle cx="349.1" cy="493.9" r="2.7"/><circle cx="373.4" cy="493.3" r="2.7"/><circle cx="326" cy="494.6" r="2.7"/><circle cx="335.5" cy="495.5" r="2.7"/><circle cx="357.6" cy="495.5" r="2.7"/><circle cx="311.8" cy="496.5" r="2.7"/><circle cx="315.6" cy="496.5" r="2.7"/><circle cx="329.2" cy="496.5" r="2.7"/><circle cx="337.7" cy="498" r="2.7"/><circle cx="310.9" cy="498.7" r="2.7"/><circle cx="318.2" cy="498.7" r="2.7"/><circle cx="326" cy="498.7" r="2.7"/><circle cx="339.6" cy="500.3" r="2.7"/><circle cx="346.6" cy="501.8" r="2.7"/><circle cx="304.6" cy="502.5" r="2.7"/><circle cx="290.4" cy="502.8" r="2.7"/><circle cx="316.6" cy="501.8" r="2.7"/><circle cx="326" cy="502.8" r="2.7"/><circle cx="335.5" cy="503.4" r="2.7"/><circle cx="350.7" cy="503.4" r="2.7"/><circle cx="308" cy="504.4" r="2.7"/><circle cx="338.7" cy="505" r="2.7"/><circle cx="355.4" cy="505" r="2.7"/><circle cx="382.9" cy="504.4" r="2.7"/><circle cx="326" cy="505.9" r="2.7"/><circle cx="345.9" cy="507.2" r="2.7"/><circle cx="377.5" cy="509.1" r="2.7"/><circle cx="326" cy="510.4" r="2.7"/><circle cx="340.9" cy="510.4" r="2.7"/><circle cx="330.2" cy="512.3" r="2.7"/><circle cx="337.7" cy="512.9" r="2.7"/><circle cx="345" cy="516" r="2.7"/><circle cx="346.6" cy="523.9" r="2.7"/><circle cx="341.8" cy="526.2" r="2.7"/><circle cx="344.4" cy="529.3" r="2.7"/><circle cx="358.6" cy="528" r="2.7"/><circle cx="375" cy="531.2" r="2.7"/><circle cx="311.2" cy="531.2" r="2.7"/></g>
<path d="M263.4,484.1L393.8,504.3" stroke="#222" stroke-width="0.7" fill="none"/>
<text x="379.3" y="440.3" font-size="8.5" font-weight="bold">r<tspan font-size="5.2" dy="-2.8">2</tspan><tspan dy="2.8"> = 0.0489</tspan></text>
<text x="379.3" y="449.2" font-size="8.5" font-weight="bold">p = 0.0473</text>
<text x="321.4" y="591.8" font-size="8.5" font-weight="bold" text-anchor="middle" textLength="128.3" lengthAdjust="spacingAndGlyphs">Cebpb Macrophage Expression</text>
<text x="321.4" y="602.2" font-size="8.6" font-weight="bold" text-anchor="middle">(Relative to C57Bl/6J)</text>
</g>
</svg>
</body>
</html>
